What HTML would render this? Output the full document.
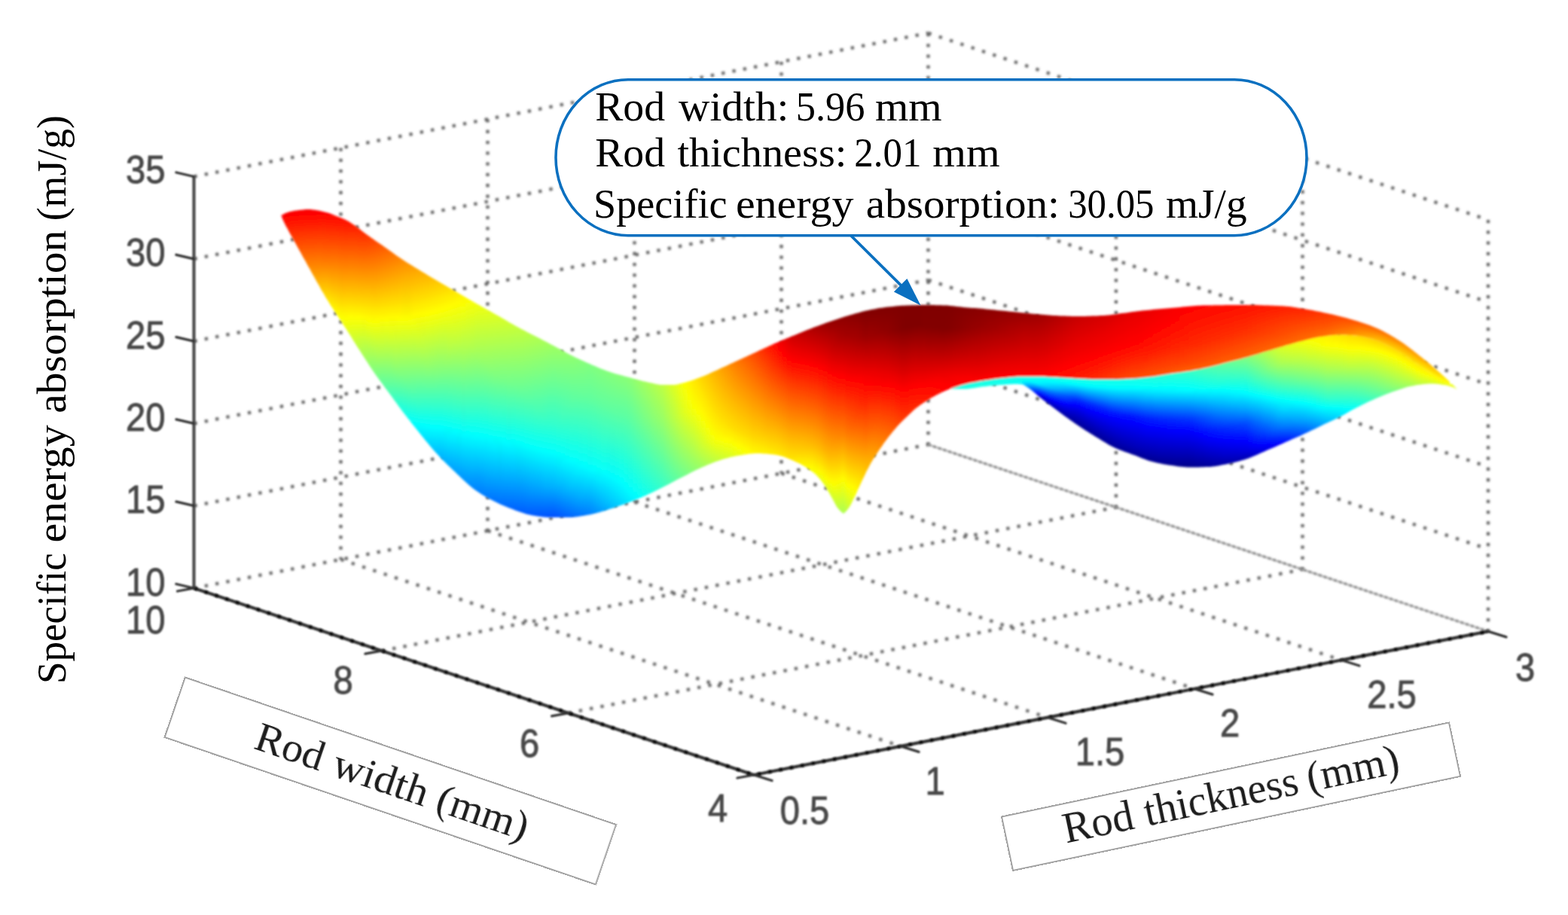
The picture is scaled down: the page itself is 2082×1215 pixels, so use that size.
<!DOCTYPE html>
<html lang="en"><head><meta charset="utf-8"><title>Specific energy absorption surface</title>
<style>html,body{margin:0;padding:0;background:#fff}body{width:2082px;height:1215px;overflow:hidden}svg{display:block}.ser{font-family:"Liberation Serif","DejaVu Serif",serif}.san{font-family:"Liberation Sans","DejaVu Sans",sans-serif}</style></head><body>
<svg width="2082" height="1215" viewBox="0 0 2082 1215">
<defs>
<filter id="b1" x="-5%" y="-5%" width="110%" height="110%"><feGaussianBlur stdDeviation="1.5"/></filter><filter id="b4" x="-5%" y="-5%" width="110%" height="110%"><feGaussianBlur stdDeviation="0.9"/></filter>
<filter id="b2" x="-5%" y="-5%" width="110%" height="110%"><feGaussianBlur stdDeviation="1.1"/></filter>
<filter id="b3" x="-20%" y="-20%" width="140%" height="140%"><feGaussianBlur stdDeviation="0.6"/></filter>
<clipPath id="c1"><path d="M373 286 L376 284.4 L379 283.1 L382 281.9 L385 281 L388 280.4 L391 279.8 L394 279.4 L397 279 L400 278.7 L403 278.4 L406 278.1 L409 278 L412 278.1 L415 278.4 L418 278.8 L421 279.3 L424 279.8 L427 280.5 L430 281.2 L433 281.9 L436 282.8 L439 283.8 L442 285 L445 286.2 L448 287.4 L451 288.6 L454 289.8 L457 291.1 L460 292.5 L463 294.1 L466 296 L469 298 L472 300 L475 302.2 L478 304.5 L481 306.9 L484 309.3 L487 311.5 L490 313.6 L493 315.7 L496 317.8 L499 319.9 L502 322 L505 324 L508 326.1 L511 328.2 L514 330.3 L517 332.5 L520 334.6 L523 336.7 L526 338.9 L529 340.9 L532 343 L535 345 L538 347 L541 348.9 L544 350.7 L547 352.6 L550 354.4 L553 356.2 L556 358.1 L559 359.9 L562 361.7 L565 363.5 L568 365.4 L571 367.2 L574 369 L577 370.8 L580 372.5 L583 374.3 L586 376.1 L589 377.8 L592 379.6 L595 381.3 L598 383.1 L601 384.8 L604 386.5 L607 388.3 L610 390 L613 391.7 L616 393.5 L619 395.2 L622 397 L625 398.7 L628 400.5 L631 402.2 L634 403.9 L637 405.6 L640 407.3 L643 409 L646 410.7 L649 412.3 L652 414 L655 415.7 L658 417.4 L661 419.1 L664 420.8 L667 422.6 L670 424.3 L673 426.1 L676 427.9 L679 429.6 L682 431.3 L685 433 L688 434.6 L691 436.2 L694 437.8 L697 439.3 L700 440.9 L703 442.4 L706 443.9 L709 445.5 L712 447 L715 448.6 L718 450.1 L721 451.7 L724 453.2 L727 454.8 L730 456.4 L733 457.9 L736 459.5 L739 461.2 L742 462.8 L745 464.5 L748 466.1 L751 467.8 L754 469.4 L757 471 L760 472.5 L763 474 L766 475.4 L769 476.8 L772 478.2 L775 479.6 L778 480.9 L781 482.3 L784 483.6 L787 484.9 L790 486.1 L793 487.4 L796 488.7 L799 489.9 L802 491.1 L805 492.2 L808 493.3 L811 494.3 L814 495.3 L817 496.2 L820 497 L823 497.8 L826 498.6 L829 499.4 L832 500.2 L835 501 L838 501.8 L841 502.7 L844 503.5 L847 504.3 L850 505.1 L853 505.9 L856 506.6 L859 507.3 L862 507.9 L865 508.6 L868 509.3 L871 510 L874 510.5 L877 510.9 L880 511 L883 511 L886 511 L889 511 L892 511 L895 511 L898 510.7 L901 510 L904 509.2 L907 508.5 L910 507.7 L913 506.8 L916 505.9 L919 504.9 L922 503.9 L925 502.8 L928 501.7 L931 500.6 L934 499.4 L937 498.2 L940 496.9 L943 495.5 L946 494.1 L949 492.7 L952 491.4 L955 490 L958 488.6 L961 487.3 L964 485.9 L967 484.5 L970 483.1 L973 481.7 L976 480.3 L979 479 L982 477.6 L985 476.2 L988 474.8 L991 473.4 L994 472.1 L997 470.7 L1000 469.3 L1003 467.9 L1006 466.5 L1009 465.1 L1012 463.8 L1015 462.3 L1018 461 L1021 459.6 L1024 458.2 L1027 456.8 L1030 455.5 L1033 454.2 L1036 452.9 L1039 451.6 L1042 450.4 L1045 449.1 L1048 447.9 L1051 446.6 L1054 445.4 L1057 444.2 L1060 443 L1063 441.7 L1066 440.5 L1069 439.3 L1072 438.1 L1075 436.9 L1078 435.8 L1081 434.6 L1084 433.5 L1087 432.4 L1090 431.3 L1093 430.2 L1096 429.1 L1099 428.1 L1102 427 L1105 426 L1108 425 L1111 424 L1114 423 L1117 422 L1120 421 L1123 420.1 L1126 419.2 L1129 418.3 L1132 417.4 L1135 416.6 L1138 415.7 L1141 414.9 L1144 414.1 L1147 413.3 L1150 412.6 L1153 411.9 L1156 411.3 L1159 410.7 L1162 410.2 L1165 409.6 L1168 409.1 L1171 408.7 L1174 408.2 L1177 407.8 L1180 407.5 L1183 407.2 L1186 406.9 L1189 406.6 L1192 406.3 L1195 406.1 L1198 405.8 L1201 405.7 L1204 405.5 L1207 405.4 L1210 405.3 L1213 405.3 L1216 405.2 L1219 405.1 L1222 405.1 L1225 405 L1228 405 L1231 405 L1234 405 L1237 405 L1240 405.1 L1243 405.2 L1246 405.2 L1249 405.3 L1252 405.4 L1255 405.5 L1258 405.6 L1261 405.9 L1264 406.2 L1267 406.5 L1270 406.9 L1273 407.2 L1276 407.6 L1279 407.9 L1282 408.2 L1285 408.4 L1288 408.7 L1291 408.9 L1294 409.1 L1297 409.3 L1300 409.6 L1303 409.8 L1306 410.1 L1309 410.4 L1312 410.7 L1315 411 L1318 411.3 L1321 411.6 L1324 411.9 L1327 412.2 L1330 412.5 L1333 412.8 L1336 413.1 L1339 413.4 L1342 413.7 L1345 414 L1348 414.3 L1351 414.6 L1354 414.9 L1357 415.2 L1360 415.5 L1363 415.8 L1366 416.1 L1369 416.5 L1372 416.8 L1375 417 L1378 417.3 L1381 417.6 L1384 417.8 L1387 418.1 L1390 418.3 L1393 418.6 L1396 418.8 L1399 419 L1402 419.1 L1405 419.2 L1408 419.4 L1411 419.5 L1414 419.6 L1417 419.8 L1420 419.8 L1423 419.9 L1426 420 L1429 420 L1432 420 L1435 420 L1438 419.9 L1441 419.9 L1444 419.8 L1447 419.7 L1450 419.6 L1453 419.5 L1456 419.4 L1459 419.3 L1462 419.1 L1465 419 L1468 418.8 L1471 418.5 L1474 418.2 L1477 417.8 L1480 417.4 L1483 417 L1486 416.5 L1489 416.1 L1492 415.7 L1495 415.4 L1498 414.9 L1501 414.5 L1504 414.1 L1507 413.7 L1510 413.3 L1513 413 L1516 412.6 L1519 412.3 L1522 412 L1525 411.7 L1528 411.4 L1531 411.1 L1534 410.8 L1537 410.5 L1540 410.3 L1543 410 L1546 409.8 L1549 409.5 L1552 409.3 L1555 409 L1558 408.7 L1561 408.5 L1564 408.2 L1567 407.9 L1570 407.6 L1573 407.3 L1576 407 L1579 406.7 L1582 406.5 L1585 406.2 L1588 406 L1591 405.8 L1594 405.7 L1597 405.6 L1600 405.5 L1603 405.5 L1606 405.4 L1609 405.4 L1612 405.3 L1615 405.3 L1618 405.2 L1621 405.2 L1624 405.2 L1627 405.1 L1630 405.1 L1633 405.1 L1636 405.1 L1639 405 L1642 405 L1645 405 L1648 405 L1651 405 L1654 405 L1657 405 L1660 405 L1663 405 L1666 405.1 L1669 405.1 L1672 405.2 L1675 405.3 L1678 405.4 L1681 405.5 L1684 405.6 L1687 405.7 L1690 405.8 L1693 405.9 L1696 406.1 L1699 406.2 L1702 406.3 L1705 406.5 L1708 406.7 L1711 407 L1714 407.3 L1717 407.8 L1720 408.2 L1723 408.7 L1726 409.2 L1729 409.7 L1732 410.2 L1735 410.7 L1738 411.2 L1741 411.7 L1744 412.3 L1747 412.9 L1750 413.5 L1753 414.1 L1756 414.7 L1759 415.4 L1762 416 L1765 416.7 L1768 417.3 L1771 418 L1774 418.7 L1777 419.5 L1780 420.2 L1783 421 L1786 421.8 L1789 422.6 L1792 423.4 L1795 424.3 L1798 425.2 L1801 426.1 L1804 427 L1807 427.9 L1810 428.9 L1813 430 L1816 431 L1819 432.1 L1822 433.3 L1825 434.5 L1828 435.8 L1831 437.1 L1834 438.6 L1837 440.1 L1840 441.7 L1843 443.3 L1846 445 L1849 446.8 L1852 448.6 L1855 450.4 L1858 452.3 L1861 454.2 L1864 456.3 L1867 458.5 L1870 460.7 L1873 463 L1876 465.3 L1879 467.7 L1882 470 L1885 472.4 L1888 474.8 L1891 477.2 L1894 479.6 L1897 482.1 L1900 484.6 L1903 487.2 L1906 489.8 L1909 492.4 L1912 495 L1915 497.7 L1918 500.4 L1921 503.2 L1924 506 L1925 507 L1925 510 L1924 509.5 L1921 507.9 L1918 506.4 L1915 504.7 L1912 503 L1909 501.2 L1906 499.4 L1903 497.5 L1900 495.6 L1897 493.6 L1894 491.6 L1891 489.6 L1888 487.7 L1885 485.7 L1882 483.6 L1879 481.5 L1876 479.4 L1873 477.2 L1870 475.1 L1867 473 L1864 471 L1861 469 L1858 467.2 L1855 465.4 L1852 463.7 L1849 462 L1846 460.4 L1843 458.8 L1840 457.2 L1837 455.7 L1834 454.4 L1831 453.1 L1828 452 L1825 451 L1822 450.1 L1819 449.3 L1816 448.4 L1813 447.7 L1810 447 L1807 446.4 L1804 445.9 L1801 445.6 L1798 445.3 L1795 445.1 L1792 444.9 L1789 444.7 L1786 444.6 L1783 444.5 L1780 444.5 L1777 444.6 L1774 444.7 L1771 445 L1768 445.3 L1765 445.6 L1762 446 L1759 446.4 L1756 446.9 L1753 447.3 L1750 447.8 L1747 448.4 L1744 449.1 L1741 449.8 L1738 450.5 L1735 451.2 L1732 452 L1729 452.7 L1726 453.5 L1723 454.3 L1720 455.2 L1717 456 L1714 456.9 L1711 457.7 L1708 458.6 L1705 459.5 L1702 460.4 L1699 461.3 L1696 462.2 L1693 463.1 L1690 464 L1687 464.9 L1684 465.8 L1681 466.7 L1678 467.6 L1675 468.5 L1672 469.4 L1669 470.4 L1666 471.3 L1663 472.2 L1660 473.1 L1657 473.9 L1654 474.8 L1651 475.6 L1648 476.4 L1645 477.2 L1642 477.9 L1639 478.7 L1636 479.5 L1633 480.2 L1630 481 L1627 481.8 L1624 482.6 L1621 483.4 L1618 484.2 L1615 485 L1612 485.8 L1609 486.6 L1606 487.3 L1603 487.9 L1600 488.6 L1597 489.3 L1594 489.9 L1591 490.5 L1588 491.1 L1585 491.6 L1582 492.2 L1579 492.7 L1576 493.1 L1573 493.6 L1570 494 L1567 494.4 L1564 494.8 L1561 495.2 L1558 495.6 L1555 496 L1552 496.5 L1549 497 L1546 497.5 L1543 498 L1540 498.5 L1537 499 L1534 499.5 L1531 499.9 L1528 500.2 L1525 500.6 L1522 501 L1519 501.3 L1516 501.6 L1513 501.9 L1510 502.2 L1507 502.4 L1504 502.6 L1501 502.7 L1498 502.9 L1495 503.1 L1492 503.2 L1489 503.3 L1486 503.4 L1483 503.5 L1480 503.5 L1477 503.5 L1474 503.5 L1471 503.5 L1468 503.5 L1465 503.5 L1462 503.5 L1459 503.5 L1456 503.5 L1453 503.5 L1450 503.4 L1447 503.3 L1444 503.2 L1441 503.1 L1438 502.9 L1435 502.8 L1432 502.6 L1429 502.5 L1426 502.3 L1423 502.1 L1420 501.9 L1417 501.7 L1414 501.5 L1411 501.3 L1408 501.2 L1405 501 L1402 500.8 L1399 500.7 L1396 500.5 L1393 500.4 L1390 500.2 L1387 500.1 L1384 500 L1381 500 L1378 500 L1375 500 L1372 500 L1369 500 L1366 500 L1363 500 L1360 500 L1357 500 L1354 500 L1351 500.1 L1348 500.2 L1345 500.5 L1342 500.7 L1339 501 L1336 501.4 L1333 501.7 L1330 502 L1327 502.3 L1324 502.7 L1321 503.1 L1318 503.5 L1315 503.9 L1312 504.4 L1309 504.8 L1306 505.3 L1303 505.8 L1300 506.3 L1297 506.9 L1294 507.4 L1291 508 L1288 508.6 L1285 509.3 L1282 510 L1279 510.8 L1276 511.6 L1273 512.5 L1270 513.4 L1267 514.4 L1264 515.5 L1261 516.6 L1258 517.8 L1255 519 L1252 520.3 L1249 521.7 L1246 523.2 L1243 524.7 L1240 526.4 L1237 528.1 L1234 530 L1231 531.9 L1228 533.8 L1225 535.7 L1222 537.7 L1219 539.9 L1216 542.2 L1213 544.8 L1210 547.7 L1207 550.6 L1204 553.5 L1201 556.3 L1198 559.3 L1195 562.3 L1192 565.5 L1189 568.9 L1186 572.5 L1183 576.2 L1180 580 L1177 584 L1174 588.1 L1171 592.4 L1168 596.8 L1165 601.3 L1162 605.8 L1159 610.6 L1156 615.7 L1153 621.2 L1150 627.3 L1147 633.6 L1144 640 L1141 646.3 L1138 652.9 L1135 659.4 L1132 665.6 L1129 671.6 L1126 676 L1123 679.6 L1120 682 L1117 679.8 L1114 676.8 L1111 672.9 L1108 667.5 L1105 661.8 L1102 656.5 L1099 651.2 L1096 646.2 L1093 641.7 L1090 637.8 L1087 634.3 L1084 631.1 L1081 628.3 L1078 625.9 L1075 623.7 L1072 621.7 L1069 619.8 L1066 618 L1063 616.3 L1060 614.8 L1057 613.4 L1054 612.1 L1051 610.8 L1048 609.5 L1045 608.3 L1042 607.1 L1039 606.1 L1036 605.2 L1033 604.5 L1030 604 L1027 603.6 L1024 603.3 L1021 602.9 L1018 602.6 L1015 602.4 L1012 602.2 L1009 602.1 L1006 602 L1003 602 L1000 602.2 L997 602.4 L994 602.8 L991 603.2 L988 603.7 L985 604.2 L982 604.7 L979 605.2 L976 605.7 L973 606.4 L970 607.1 L967 607.9 L964 608.8 L961 609.6 L958 610.6 L955 611.5 L952 612.5 L949 613.6 L946 614.7 L943 615.9 L940 617.1 L937 618.4 L934 619.7 L931 621.1 L928 622.4 L925 623.8 L922 625.3 L919 626.8 L916 628.3 L913 629.9 L910 631.4 L907 633 L904 634.5 L901 636.1 L898 637.6 L895 639.2 L892 640.8 L889 642.4 L886 643.9 L883 645.5 L880 647 L877 648.5 L874 650 L871 651.5 L868 653 L865 654.4 L862 655.8 L859 657.2 L856 658.6 L853 659.9 L850 661.1 L847 662.4 L844 663.6 L841 664.8 L838 666 L835 667.1 L832 668.3 L829 669.4 L826 670.5 L823 671.5 L820 672.6 L817 673.6 L814 674.7 L811 675.6 L808 676.6 L805 677.5 L802 678.4 L799 679.3 L796 680.2 L793 681 L790 681.8 L787 682.6 L784 683.2 L781 683.8 L778 684.3 L775 684.8 L772 685.3 L769 685.8 L766 686.2 L763 686.6 L760 686.8 L757 687 L754 687 L751 687 L748 687 L745 687 L742 687 L739 687 L736 687 L733 687 L730 687 L727 686.9 L724 686.8 L721 686.5 L718 686.1 L715 685.7 L712 685.2 L709 684.7 L706 684.2 L703 683.6 L700 682.9 L697 682.1 L694 681.1 L691 680.1 L688 679 L685 677.9 L682 676.7 L679 675.6 L676 674.5 L673 673.3 L670 672 L667 670.7 L664 669.4 L661 668 L658 666.5 L655 665 L652 663.5 L649 661.9 L646 660.2 L643 658.5 L640 656.7 L637 654.8 L634 652.8 L631 650.7 L628 648.5 L625 646.1 L622 643.5 L619 640.8 L616 638.1 L613 635.2 L610 632.3 L607 629.4 L604 626.6 L601 623.7 L598 620.8 L595 617.9 L592 615 L589 611.9 L586 608.9 L583 605.7 L580 602.5 L577 599.2 L574 595.7 L571 592.2 L568 588.6 L565 584.9 L562 581.2 L559 577.5 L556 573.7 L553 570 L550 566.2 L547 562.4 L544 558.6 L541 554.8 L538 550.9 L535 547 L532 543 L529 538.9 L526 534.8 L523 530.7 L520 526.6 L517 522.5 L514 518.4 L511 514.4 L508 510.3 L505 506.3 L502 502.3 L499 498.1 L496 493.8 L493 489.3 L490 484.7 L487 480.1 L484 475.5 L481 470.8 L478 466.1 L475 461.4 L472 456.7 L469 451.9 L466 447.1 L463 442.2 L460 437.5 L457 432.9 L454 428.3 L451 423.8 L448 419.3 L445 414.7 L442 410.1 L439 405.4 L436 400.6 L433 395.7 L430 390.6 L427 385.4 L424 380.1 L421 374.8 L418 369.5 L415 364 L412 358.6 L409 353.2 L406 347.8 L403 342.4 L400 337 L397 331.6 L394 326.2 L391 320.8 L388 315.5 L385 310 L382 304.6 L379 299 L376 292.8 L373 286Z"/></clipPath>
<clipPath id="c2"><path d="M1262 516.3 L1265 515.2 L1268 514.1 L1271 513.1 L1274 512.2 L1277 511.3 L1280 510.5 L1283 509.8 L1286 509.1 L1289 508.4 L1292 507.8 L1295 507.2 L1298 506.7 L1301 506.2 L1304 505.7 L1307 505.2 L1310 504.7 L1313 504.2 L1316 503.8 L1319 503.3 L1322 502.9 L1325 502.6 L1328 502.2 L1331 501.9 L1334 501.6 L1337 501.2 L1340 500.9 L1343 500.6 L1346 500.4 L1349 500.2 L1352 500 L1355 500 L1358 500 L1361 500 L1364 500 L1367 500 L1370 500 L1373 500 L1376 500 L1379 500 L1382 500 L1385 500.1 L1388 500.2 L1391 500.3 L1394 500.4 L1397 500.6 L1400 500.7 L1403 500.9 L1406 501 L1409 501.2 L1412 501.4 L1415 501.6 L1418 501.8 L1421 502 L1424 502.2 L1427 502.3 L1430 502.5 L1433 502.7 L1436 502.8 L1439 503 L1442 503.1 L1445 503.3 L1448 503.4 L1451 503.5 L1454 503.5 L1457 503.5 L1460 503.5 L1463 503.5 L1466 503.5 L1469 503.5 L1472 503.5 L1475 503.5 L1478 503.5 L1481 503.5 L1484 503.5 L1487 503.4 L1490 503.3 L1493 503.2 L1496 503 L1499 502.8 L1502 502.7 L1505 502.5 L1508 502.3 L1511 502.1 L1514 501.8 L1517 501.5 L1520 501.2 L1523 500.8 L1526 500.5 L1529 500.1 L1532 499.7 L1535 499.3 L1538 498.8 L1541 498.3 L1544 497.8 L1547 497.3 L1550 496.8 L1553 496.3 L1556 495.9 L1559 495.4 L1562 495 L1565 494.6 L1568 494.2 L1571 493.8 L1574 493.4 L1577 493 L1580 492.5 L1583 492 L1586 491.5 L1589 490.9 L1592 490.3 L1595 489.7 L1598 489 L1601 488.4 L1604 487.7 L1607 487 L1610 486.3 L1613 485.5 L1616 484.8 L1619 484 L1622 483.1 L1625 482.3 L1628 481.5 L1631 480.7 L1634 480 L1637 479.2 L1640 478.4 L1643 477.7 L1646 476.9 L1649 476.1 L1652 475.3 L1655 474.5 L1658 473.6 L1661 472.8 L1664 471.9 L1667 471 L1670 470.1 L1673 469.1 L1676 468.2 L1679 467.3 L1682 466.4 L1685 465.5 L1688 464.6 L1691 463.7 L1694 462.8 L1697 461.9 L1700 461 L1703 460.1 L1706 459.2 L1709 458.3 L1712 457.5 L1715 456.6 L1718 455.7 L1721 454.9 L1724 454.1 L1727 453.3 L1730 452.5 L1733 451.8 L1736 451 L1739 450.3 L1742 449.5 L1745 448.8 L1748 448.2 L1751 447.6 L1754 447.1 L1757 446.7 L1760 446.3 L1763 445.9 L1766 445.5 L1769 445.2 L1772 444.9 L1775 444.7 L1778 444.5 L1781 444.5 L1784 444.6 L1787 444.7 L1790 444.8 L1793 445 L1796 445.2 L1799 445.4 L1802 445.7 L1805 446.1 L1808 446.6 L1811 447.2 L1814 447.9 L1817 448.7 L1820 449.5 L1823 450.4 L1826 451.3 L1829 452.3 L1832 453.5 L1835 454.8 L1838 456.2 L1841 457.7 L1844 459.3 L1847 460.9 L1850 462.6 L1853 464.3 L1856 466 L1859 467.8 L1862 469.6 L1865 471.6 L1868 473.7 L1871 475.8 L1874 477.9 L1877 480.1 L1880 482.2 L1883 484.3 L1886 486.3 L1889 488.3 L1892 490.3 L1895 492.3 L1898 494.3 L1901 496.2 L1904 498.1 L1907 500 L1910 501.8 L1913 503.6 L1916 505.3 L1919 506.9 L1922 508.5 L1925 510 L1928 509.9 L1931 512.9 L1934 516 L1935 517 L1935 517 L1934 516.4 L1931 514.9 L1928 513.7 L1925 512.7 L1922 511.9 L1919 511.3 L1916 510.9 L1913 510.5 L1910 510.1 L1907 509.8 L1904 509.6 L1901 509.5 L1898 509.5 L1895 509.7 L1892 509.9 L1889 510.3 L1886 510.7 L1883 511.1 L1880 511.6 L1877 512.2 L1874 512.7 L1871 513.3 L1868 514.1 L1865 514.9 L1862 515.9 L1859 516.9 L1856 517.9 L1853 519 L1850 520 L1847 521.1 L1844 522.2 L1841 523.3 L1838 524.5 L1835 525.7 L1832 527 L1829 528.3 L1826 529.6 L1823 530.9 L1820 532.2 L1817 533.6 L1814 535 L1811 536.5 L1808 538 L1805 539.5 L1802 541 L1799 542.5 L1796 544.1 L1793 545.8 L1790 547.5 L1787 549.2 L1784 550.9 L1781 552.5 L1778 554 L1775 555.5 L1772 557 L1769 558.4 L1766 559.8 L1763 561.2 L1760 562.6 L1757 564 L1754 565.5 L1751 566.9 L1748 568.4 L1745 569.9 L1742 571.3 L1739 572.8 L1736 574.2 L1733 575.6 L1730 577 L1727 578.4 L1724 579.7 L1721 581 L1718 582.3 L1715 583.6 L1712 584.9 L1709 586.3 L1706 587.6 L1703 588.9 L1700 590.2 L1697 591.5 L1694 592.9 L1691 594.2 L1688 595.5 L1685 596.8 L1682 598.1 L1679 599.4 L1676 600.8 L1673 602.1 L1670 603.5 L1667 604.8 L1664 606.1 L1661 607.3 L1658 608.5 L1655 609.5 L1652 610.4 L1649 611.3 L1646 612.2 L1643 613 L1640 613.8 L1637 614.5 L1634 615.2 L1631 615.8 L1628 616.4 L1625 617 L1622 617.6 L1619 618.2 L1616 618.8 L1613 619.2 L1610 619.6 L1607 619.9 L1604 620 L1601 620.1 L1598 620.2 L1595 620.3 L1592 620.4 L1589 620.4 L1586 620.5 L1583 620.5 L1580 620.5 L1577 620.4 L1574 620.3 L1571 620 L1568 619.7 L1565 619.4 L1562 619 L1559 618.5 L1556 618.1 L1553 617.7 L1550 617.3 L1547 616.7 L1544 616.2 L1541 615.6 L1538 614.9 L1535 614.2 L1532 613.5 L1529 612.7 L1526 611.9 L1523 610.9 L1520 609.8 L1517 608.7 L1514 607.5 L1511 606.3 L1508 605.1 L1505 604 L1502 602.9 L1499 601.8 L1496 600.8 L1493 599.7 L1490 598.6 L1487 597.5 L1484 596.2 L1481 595 L1478 593.5 L1475 592 L1472 590.4 L1469 588.6 L1466 586.8 L1463 585 L1460 583.1 L1457 581.2 L1454 579.4 L1451 577.5 L1448 575.7 L1445 573.8 L1442 571.9 L1439 570 L1436 568 L1433 566 L1430 564 L1427 561.9 L1424 559.8 L1421 557.7 L1418 555.6 L1415 553.4 L1412 551.2 L1409 549 L1406 546.7 L1403 544.5 L1400 542.3 L1397 540.1 L1394 537.8 L1391 535.6 L1388 533.3 L1385 530.9 L1382 528.6 L1379 526.2 L1376 523.6 L1373 521 L1370 518.5 L1367 516.3 L1364 514.2 L1361 512.3 L1358 510.5 L1358 510.5 L1355 510.2 L1352 510 L1349 510 L1346 510.1 L1343 510.2 L1340 510.3 L1337 510.5 L1334 510.7 L1331 510.9 L1328 511.1 L1325 511.4 L1322 511.7 L1319 512 L1316 512.3 L1313 512.6 L1310 512.9 L1307 513.3 L1304 513.6 L1301 514 L1298 514.5 L1295 514.9 L1292 515.4 L1289 515.8 L1286 516.2 L1283 516.4 L1280 516.5 L1277 516.5 L1274 516.5 L1271 516.5 L1268 516.5 L1265 516.5 L1262 516.5Z"/></clipPath>
<filter id="sb" x="-2%" y="-5%" width="104%" height="110%"><feGaussianBlur stdDeviation="2.2 0.6"/></filter>
<filter id="se" x="-2%" y="-5%" width="104%" height="110%"><feGaussianBlur stdDeviation="1.6"/></filter>
<linearGradient id="q1" gradientUnits="userSpaceOnUse" x1="0" y1="513.1" x2="0" y2="516.5"><stop offset="0" stop-color="#1affe5"/><stop offset="1" stop-color="#1affe5"/></linearGradient>
<linearGradient id="q2" gradientUnits="userSpaceOnUse" x1="0" y1="511.3" x2="0" y2="516.5"><stop offset="0" stop-color="#1affe5"/><stop offset="1" stop-color="#1affe5"/></linearGradient>
<linearGradient id="q3" gradientUnits="userSpaceOnUse" x1="0" y1="509.8" x2="0" y2="516.4"><stop offset="0" stop-color="#1affe5"/><stop offset="1" stop-color="#1affe5"/></linearGradient>
<linearGradient id="q4" gradientUnits="userSpaceOnUse" x1="0" y1="508.4" x2="0" y2="515.8"><stop offset="0" stop-color="#1affe5"/><stop offset="1" stop-color="#1affe5"/></linearGradient>
<linearGradient id="q5" gradientUnits="userSpaceOnUse" x1="0" y1="507.2" x2="0" y2="514.9"><stop offset="0" stop-color="#1affe5"/><stop offset="1" stop-color="#1affe5"/></linearGradient>
<linearGradient id="q6" gradientUnits="userSpaceOnUse" x1="0" y1="506.2" x2="0" y2="514"><stop offset="0" stop-color="#1affe5"/><stop offset="1" stop-color="#1affe5"/></linearGradient>
<linearGradient id="q7" gradientUnits="userSpaceOnUse" x1="0" y1="505.2" x2="0" y2="513.3"><stop offset="0" stop-color="#1affe5"/><stop offset="1" stop-color="#19ffe6"/></linearGradient>
<linearGradient id="q8" gradientUnits="userSpaceOnUse" x1="0" y1="504.2" x2="0" y2="512.6"><stop offset="0" stop-color="#1affe5"/><stop offset="1" stop-color="#16ffe9"/></linearGradient>
<linearGradient id="q9" gradientUnits="userSpaceOnUse" x1="0" y1="503.3" x2="0" y2="512"><stop offset="0" stop-color="#1affe5"/><stop offset="1" stop-color="#14ffeb"/></linearGradient>
<linearGradient id="q10" gradientUnits="userSpaceOnUse" x1="0" y1="502.6" x2="0" y2="511.4"><stop offset="0" stop-color="#1affe5"/><stop offset="1" stop-color="#11ffee"/></linearGradient>
<linearGradient id="q11" gradientUnits="userSpaceOnUse" x1="0" y1="501.9" x2="0" y2="510.9"><stop offset="0" stop-color="#1affe5"/><stop offset="1" stop-color="#0ffff0"/></linearGradient>
<linearGradient id="q12" gradientUnits="userSpaceOnUse" x1="0" y1="501.2" x2="0" y2="510.5"><stop offset="0" stop-color="#1affe5"/><stop offset="1" stop-color="#0cfff3"/></linearGradient>
<linearGradient id="q13" gradientUnits="userSpaceOnUse" x1="0" y1="500.6" x2="0" y2="510.2"><stop offset="0" stop-color="#1affe5"/><stop offset="1" stop-color="#0afff5"/></linearGradient>
<linearGradient id="q14" gradientUnits="userSpaceOnUse" x1="0" y1="500.2" x2="0" y2="510"><stop offset="0" stop-color="#1affe5"/><stop offset="1" stop-color="#08fff7"/></linearGradient>
<linearGradient id="q15" gradientUnits="userSpaceOnUse" x1="0" y1="500" x2="0" y2="510.2"><stop offset="0" stop-color="#1affe5"/><stop offset="1" stop-color="#05fffa"/></linearGradient>
<linearGradient id="q16" gradientUnits="userSpaceOnUse" x1="0" y1="500" x2="0" y2="512.3"><stop offset="0" stop-color="#1affe5"/><stop offset="0.4" stop-color="#06fff9"/><stop offset="0.5" stop-color="#00f6ff"/><stop offset="1" stop-color="#00b3ff"/></linearGradient>
<linearGradient id="q17" gradientUnits="userSpaceOnUse" x1="0" y1="500" x2="0" y2="516.3"><stop offset="0" stop-color="#1affe5"/><stop offset="0.375" stop-color="#01fffe"/><stop offset="0.775" stop-color="#0096ff"/><stop offset="1" stop-color="#0063ff"/></linearGradient>
<linearGradient id="q18" gradientUnits="userSpaceOnUse" x1="0" y1="500" x2="0" y2="521"><stop offset="0" stop-color="#1affe5"/><stop offset="0.325" stop-color="#00fdff"/><stop offset="0.375" stop-color="#00f7ff"/><stop offset="0.725" stop-color="#006eff"/><stop offset="1" stop-color="#0012ff"/></linearGradient>
<linearGradient id="q19" gradientUnits="userSpaceOnUse" x1="0" y1="500" x2="0" y2="526.2"><stop offset="0" stop-color="#1affe5"/><stop offset="0.25" stop-color="#00feff"/><stop offset="0.375" stop-color="#00efff"/><stop offset="0.7" stop-color="#0045ff"/><stop offset="0.85" stop-color="#0003ff"/><stop offset="1" stop-color="#0000c0"/></linearGradient>
<linearGradient id="q20" gradientUnits="userSpaceOnUse" x1="0" y1="500.1" x2="0" y2="530.9"><stop offset="0" stop-color="#1affe5"/><stop offset="0.2" stop-color="#00fdff"/><stop offset="0.375" stop-color="#00dfff"/><stop offset="0.675" stop-color="#003eff"/><stop offset="0.825" stop-color="#0000fc"/><stop offset="1" stop-color="#0000af"/></linearGradient>
<linearGradient id="q21" gradientUnits="userSpaceOnUse" x1="0" y1="500.3" x2="0" y2="535.6"><stop offset="0" stop-color="#1affe5"/><stop offset="0.175" stop-color="#00fdff"/><stop offset="0.375" stop-color="#00cdff"/><stop offset="0.575" stop-color="#0063ff"/><stop offset="0.725" stop-color="#001dff"/><stop offset="0.8" stop-color="#0000fd"/><stop offset="1" stop-color="#0000ac"/></linearGradient>
<linearGradient id="q22" gradientUnits="userSpaceOnUse" x1="0" y1="500.6" x2="0" y2="540.1"><stop offset="0" stop-color="#1affe5"/><stop offset="0.15" stop-color="#00ffff"/><stop offset="0.375" stop-color="#00bcff"/><stop offset="0.5" stop-color="#0078ff"/><stop offset="0.7" stop-color="#001bff"/><stop offset="0.775" stop-color="#0000fd"/><stop offset="1" stop-color="#0000a8"/></linearGradient>
<linearGradient id="q23" gradientUnits="userSpaceOnUse" x1="0" y1="500.9" x2="0" y2="544.5"><stop offset="0" stop-color="#1affe5"/><stop offset="0.15" stop-color="#00fcff"/><stop offset="0.375" stop-color="#00abff"/><stop offset="0.475" stop-color="#0073ff"/><stop offset="0.675" stop-color="#0019ff"/><stop offset="0.75" stop-color="#0000fc"/><stop offset="1" stop-color="#0000a4"/></linearGradient>
<linearGradient id="q24" gradientUnits="userSpaceOnUse" x1="0" y1="501.2" x2="0" y2="549"><stop offset="0" stop-color="#1affe5"/><stop offset="0.125" stop-color="#04fffb"/><stop offset="0.225" stop-color="#00daff"/><stop offset="0.375" stop-color="#009aff"/><stop offset="0.45" stop-color="#006cff"/><stop offset="0.675" stop-color="#000cff"/><stop offset="0.725" stop-color="#0000fa"/><stop offset="1" stop-color="#0000a1"/></linearGradient>
<linearGradient id="q25" gradientUnits="userSpaceOnUse" x1="0" y1="501.6" x2="0" y2="553.4"><stop offset="0" stop-color="#1affe5"/><stop offset="0.125" stop-color="#02fffd"/><stop offset="0.375" stop-color="#0088ff"/><stop offset="0.45" stop-color="#005aff"/><stop offset="0.675" stop-color="#0000ff"/><stop offset="1" stop-color="#00009d"/></linearGradient>
<linearGradient id="q26" gradientUnits="userSpaceOnUse" x1="0" y1="502" x2="0" y2="557.7"><stop offset="0" stop-color="#1affe5"/><stop offset="0.125" stop-color="#01fffe"/><stop offset="0.4" stop-color="#0067ff"/><stop offset="0.45" stop-color="#0048ff"/><stop offset="0.625" stop-color="#0004ff"/><stop offset="0.7" stop-color="#0000eb"/><stop offset="1" stop-color="#000099"/></linearGradient>
<linearGradient id="q27" gradientUnits="userSpaceOnUse" x1="0" y1="502.3" x2="0" y2="561.9"><stop offset="0" stop-color="#1affe5"/><stop offset="0.125" stop-color="#00feff"/><stop offset="0.45" stop-color="#0036ff"/><stop offset="0.6" stop-color="#0000fe"/><stop offset="0.725" stop-color="#0000d8"/><stop offset="1" stop-color="#000096"/></linearGradient>
<linearGradient id="q28" gradientUnits="userSpaceOnUse" x1="0" y1="502.7" x2="0" y2="566"><stop offset="0" stop-color="#1affe5"/><stop offset="0.125" stop-color="#00fdff"/><stop offset="0.45" stop-color="#002dff"/><stop offset="0.575" stop-color="#0001ff"/><stop offset="0.7" stop-color="#0000da"/><stop offset="1" stop-color="#000094"/></linearGradient>
<linearGradient id="q29" gradientUnits="userSpaceOnUse" x1="0" y1="503" x2="0" y2="570"><stop offset="0" stop-color="#1affe5"/><stop offset="0.125" stop-color="#00fdff"/><stop offset="0.45" stop-color="#002eff"/><stop offset="0.575" stop-color="#0001ff"/><stop offset="0.725" stop-color="#0000d4"/><stop offset="1" stop-color="#000094"/></linearGradient>
<linearGradient id="q30" gradientUnits="userSpaceOnUse" x1="0" y1="503.3" x2="0" y2="573.8"><stop offset="0" stop-color="#1affe5"/><stop offset="0.125" stop-color="#00fdff"/><stop offset="0.45" stop-color="#002fff"/><stop offset="0.575" stop-color="#0001ff"/><stop offset="0.775" stop-color="#0000c9"/><stop offset="1" stop-color="#000094"/></linearGradient>
<linearGradient id="q31" gradientUnits="userSpaceOnUse" x1="0" y1="503.5" x2="0" y2="577.5"><stop offset="0" stop-color="#1affe5"/><stop offset="0.125" stop-color="#00fdff"/><stop offset="0.45" stop-color="#002fff"/><stop offset="0.575" stop-color="#0001ff"/><stop offset="0.85" stop-color="#0000b8"/><stop offset="1" stop-color="#000094"/></linearGradient>
<linearGradient id="q32" gradientUnits="userSpaceOnUse" x1="0" y1="503.5" x2="0" y2="581.2"><stop offset="0" stop-color="#1affe5"/><stop offset="0.125" stop-color="#00fdff"/><stop offset="0.45" stop-color="#0030ff"/><stop offset="0.55" stop-color="#0009ff"/><stop offset="0.575" stop-color="#0001ff"/><stop offset="1" stop-color="#000094"/></linearGradient>
<linearGradient id="q33" gradientUnits="userSpaceOnUse" x1="0" y1="503.5" x2="0" y2="585"><stop offset="0" stop-color="#1affe5"/><stop offset="0.125" stop-color="#00fdff"/><stop offset="0.45" stop-color="#0030ff"/><stop offset="0.525" stop-color="#0010ff"/><stop offset="0.575" stop-color="#0001ff"/><stop offset="1" stop-color="#000094"/></linearGradient>
<linearGradient id="q34" gradientUnits="userSpaceOnUse" x1="0" y1="503.5" x2="0" y2="588.6"><stop offset="0" stop-color="#1affe5"/><stop offset="0.125" stop-color="#00fdff"/><stop offset="0.45" stop-color="#0031ff"/><stop offset="0.525" stop-color="#000fff"/><stop offset="0.575" stop-color="#0001ff"/><stop offset="1" stop-color="#000094"/></linearGradient>
<linearGradient id="q35" gradientUnits="userSpaceOnUse" x1="0" y1="503.5" x2="0" y2="592"><stop offset="0" stop-color="#1affe5"/><stop offset="0.125" stop-color="#00fdff"/><stop offset="0.475" stop-color="#0025ff"/><stop offset="0.55" stop-color="#0008ff"/><stop offset="0.6" stop-color="#0000f9"/><stop offset="1" stop-color="#000094"/></linearGradient>
<linearGradient id="q36" gradientUnits="userSpaceOnUse" x1="0" y1="503.5" x2="0" y2="595"><stop offset="0" stop-color="#1affe5"/><stop offset="0.125" stop-color="#00fdff"/><stop offset="0.475" stop-color="#0025ff"/><stop offset="0.525" stop-color="#000eff"/><stop offset="0.575" stop-color="#0001ff"/><stop offset="0.95" stop-color="#0000a2"/><stop offset="1" stop-color="#000094"/></linearGradient>
<linearGradient id="q37" gradientUnits="userSpaceOnUse" x1="0" y1="503.4" x2="0" y2="597.5"><stop offset="0" stop-color="#1affe5"/><stop offset="0.125" stop-color="#00fdff"/><stop offset="0.475" stop-color="#0025ff"/><stop offset="0.525" stop-color="#000eff"/><stop offset="0.575" stop-color="#0001ff"/><stop offset="0.925" stop-color="#0000aa"/><stop offset="1" stop-color="#000094"/></linearGradient>
<linearGradient id="q38" gradientUnits="userSpaceOnUse" x1="0" y1="503.2" x2="0" y2="599.7"><stop offset="0" stop-color="#1affe5"/><stop offset="0.125" stop-color="#00fdff"/><stop offset="0.5" stop-color="#0017ff"/><stop offset="0.575" stop-color="#0001ff"/><stop offset="0.9" stop-color="#0000b2"/><stop offset="1" stop-color="#000094"/></linearGradient>
<linearGradient id="q39" gradientUnits="userSpaceOnUse" x1="0" y1="502.8" x2="0" y2="601.8"><stop offset="0" stop-color="#1affe5"/><stop offset="0.125" stop-color="#00fdff"/><stop offset="0.5" stop-color="#0017ff"/><stop offset="0.575" stop-color="#0001ff"/><stop offset="0.9" stop-color="#0000b3"/><stop offset="1" stop-color="#000094"/></linearGradient>
<linearGradient id="q40" gradientUnits="userSpaceOnUse" x1="0" y1="502.5" x2="0" y2="604"><stop offset="0" stop-color="#1affe5"/><stop offset="0.125" stop-color="#00fdff"/><stop offset="0.5" stop-color="#0017ff"/><stop offset="0.55" stop-color="#0007ff"/><stop offset="0.6" stop-color="#0000fb"/><stop offset="0.9" stop-color="#0000b4"/><stop offset="1" stop-color="#000094"/></linearGradient>
<linearGradient id="q41" gradientUnits="userSpaceOnUse" x1="0" y1="502.1" x2="0" y2="606.3"><stop offset="0" stop-color="#1cffe3"/><stop offset="0.125" stop-color="#00ffff"/><stop offset="0.5" stop-color="#0019ff"/><stop offset="0.575" stop-color="#0003ff"/><stop offset="0.875" stop-color="#0000bb"/><stop offset="1" stop-color="#000093"/></linearGradient>
<linearGradient id="q42" gradientUnits="userSpaceOnUse" x1="0" y1="501.5" x2="0" y2="608.7"><stop offset="0" stop-color="#1effe1"/><stop offset="0.125" stop-color="#02fffd"/><stop offset="0.275" stop-color="#00a7ff"/><stop offset="0.5" stop-color="#001bff"/><stop offset="0.575" stop-color="#0005ff"/><stop offset="0.625" stop-color="#0000f7"/><stop offset="0.9" stop-color="#0000b2"/><stop offset="1" stop-color="#000092"/></linearGradient>
<linearGradient id="q43" gradientUnits="userSpaceOnUse" x1="0" y1="500.8" x2="0" y2="610.9"><stop offset="0" stop-color="#21ffde"/><stop offset="0.125" stop-color="#03fffc"/><stop offset="0.2" stop-color="#00d9ff"/><stop offset="0.5" stop-color="#001eff"/><stop offset="0.6" stop-color="#0000ff"/><stop offset="0.9" stop-color="#0000b1"/><stop offset="1" stop-color="#000091"/></linearGradient>
<linearGradient id="q44" gradientUnits="userSpaceOnUse" x1="0" y1="500.1" x2="0" y2="612.7"><stop offset="0" stop-color="#23ffdc"/><stop offset="0.125" stop-color="#05fffa"/><stop offset="0.175" stop-color="#00eaff"/><stop offset="0.5" stop-color="#0020ff"/><stop offset="0.6" stop-color="#0001ff"/><stop offset="0.9" stop-color="#0000b0"/><stop offset="1" stop-color="#000091"/></linearGradient>
<linearGradient id="q45" gradientUnits="userSpaceOnUse" x1="0" y1="499.3" x2="0" y2="614.2"><stop offset="0" stop-color="#26ffd9"/><stop offset="0.125" stop-color="#07fff8"/><stop offset="0.15" stop-color="#00faff"/><stop offset="0.225" stop-color="#00d1ff"/><stop offset="0.5" stop-color="#0022ff"/><stop offset="0.6" stop-color="#0002ff"/><stop offset="0.9" stop-color="#0000af"/><stop offset="1" stop-color="#000090"/></linearGradient>
<linearGradient id="q46" gradientUnits="userSpaceOnUse" x1="0" y1="498.3" x2="0" y2="615.6"><stop offset="0" stop-color="#28ffd7"/><stop offset="0.15" stop-color="#00fcff"/><stop offset="0.225" stop-color="#00d4ff"/><stop offset="0.5" stop-color="#0025ff"/><stop offset="0.6" stop-color="#0003ff"/><stop offset="0.875" stop-color="#0000b7"/><stop offset="1" stop-color="#00008f"/></linearGradient>
<linearGradient id="q47" gradientUnits="userSpaceOnUse" x1="0" y1="497.3" x2="0" y2="616.7"><stop offset="0" stop-color="#2bffd4"/><stop offset="0.125" stop-color="#0bfff4"/><stop offset="0.15" stop-color="#00ffff"/><stop offset="0.2" stop-color="#00e8ff"/><stop offset="0.5" stop-color="#0027ff"/><stop offset="0.6" stop-color="#0004ff"/><stop offset="0.675" stop-color="#0000ed"/><stop offset="0.9" stop-color="#0000ae"/><stop offset="1" stop-color="#00008e"/></linearGradient>
<linearGradient id="q48" gradientUnits="userSpaceOnUse" x1="0" y1="496.3" x2="0" y2="617.7"><stop offset="0" stop-color="#2dffd2"/><stop offset="0.15" stop-color="#02fffd"/><stop offset="0.2" stop-color="#00ecff"/><stop offset="0.5" stop-color="#0029ff"/><stop offset="0.625" stop-color="#0000fc"/><stop offset="0.9" stop-color="#0000ad"/><stop offset="1" stop-color="#00008d"/></linearGradient>
<linearGradient id="q49" gradientUnits="userSpaceOnUse" x1="0" y1="495.4" x2="0" y2="618.5"><stop offset="0" stop-color="#30ffcf"/><stop offset="0.15" stop-color="#05fffa"/><stop offset="0.2" stop-color="#00f0ff"/><stop offset="0.5" stop-color="#002cff"/><stop offset="0.625" stop-color="#0000fd"/><stop offset="0.875" stop-color="#0000b4"/><stop offset="1" stop-color="#00008d"/></linearGradient>
<linearGradient id="q50" gradientUnits="userSpaceOnUse" x1="0" y1="494.6" x2="0" y2="619.4"><stop offset="0" stop-color="#32ffcd"/><stop offset="0.175" stop-color="#00fdff"/><stop offset="0.2" stop-color="#00f3ff"/><stop offset="0.5" stop-color="#002eff"/><stop offset="0.625" stop-color="#0000fe"/><stop offset="0.875" stop-color="#0000b3"/><stop offset="1" stop-color="#00008c"/></linearGradient>
<linearGradient id="q51" gradientUnits="userSpaceOnUse" x1="0" y1="493.8" x2="0" y2="620"><stop offset="0" stop-color="#34ffcb"/><stop offset="0.175" stop-color="#01fffe"/><stop offset="0.2" stop-color="#00f7ff"/><stop offset="0.5" stop-color="#0031ff"/><stop offset="0.625" stop-color="#0000ff"/><stop offset="0.875" stop-color="#0000b3"/><stop offset="1" stop-color="#00008b"/></linearGradient>
<linearGradient id="q52" gradientUnits="userSpaceOnUse" x1="0" y1="493" x2="0" y2="620.4"><stop offset="0" stop-color="#37ffc8"/><stop offset="0.175" stop-color="#04fffb"/><stop offset="0.2" stop-color="#00fbff"/><stop offset="0.5" stop-color="#0033ff"/><stop offset="0.625" stop-color="#0000ff"/><stop offset="0.85" stop-color="#0000ba"/><stop offset="1" stop-color="#00008a"/></linearGradient>
<linearGradient id="q53" gradientUnits="userSpaceOnUse" x1="0" y1="492" x2="0" y2="620.5"><stop offset="0" stop-color="#3bffc4"/><stop offset="0.2" stop-color="#00ffff"/><stop offset="0.5" stop-color="#0039ff"/><stop offset="0.625" stop-color="#0004ff"/><stop offset="0.7" stop-color="#0000ec"/><stop offset="1" stop-color="#00008b"/></linearGradient>
<linearGradient id="q54" gradientUnits="userSpaceOnUse" x1="0" y1="490.9" x2="0" y2="620.4"><stop offset="0" stop-color="#41ffbe"/><stop offset="0.2" stop-color="#04fffb"/><stop offset="0.275" stop-color="#00d4ff"/><stop offset="0.5" stop-color="#0042ff"/><stop offset="0.65" stop-color="#0002ff"/><stop offset="0.85" stop-color="#0000c1"/><stop offset="1" stop-color="#00008f"/></linearGradient>
<linearGradient id="q55" gradientUnits="userSpaceOnUse" x1="0" y1="489.7" x2="0" y2="620.3"><stop offset="0" stop-color="#46ffb9"/><stop offset="0.2" stop-color="#09fff6"/><stop offset="0.225" stop-color="#00f9ff"/><stop offset="0.5" stop-color="#004cff"/><stop offset="0.65" stop-color="#0008ff"/><stop offset="0.675" stop-color="#0000ff"/><stop offset="1" stop-color="#000092"/></linearGradient>
<linearGradient id="q56" gradientUnits="userSpaceOnUse" x1="0" y1="488.4" x2="0" y2="620.1"><stop offset="0" stop-color="#4cffb3"/><stop offset="0.2" stop-color="#0efff1"/><stop offset="0.225" stop-color="#00feff"/><stop offset="0.5" stop-color="#0055ff"/><stop offset="0.65" stop-color="#000fff"/><stop offset="0.7" stop-color="#0000fe"/><stop offset="1" stop-color="#000095"/></linearGradient>
<linearGradient id="q57" gradientUnits="userSpaceOnUse" x1="0" y1="487" x2="0" y2="619.9"><stop offset="0" stop-color="#52ffad"/><stop offset="0.2" stop-color="#12ffed"/><stop offset="0.225" stop-color="#04fffb"/><stop offset="0.3" stop-color="#00d9ff"/><stop offset="0.5" stop-color="#005fff"/><stop offset="0.65" stop-color="#0015ff"/><stop offset="0.725" stop-color="#0000fb"/><stop offset="1" stop-color="#000098"/></linearGradient>
<linearGradient id="q58" gradientUnits="userSpaceOnUse" x1="0" y1="485.5" x2="0" y2="619.2"><stop offset="0" stop-color="#58ffa7"/><stop offset="0.2" stop-color="#17ffe8"/><stop offset="0.25" stop-color="#00fbff"/><stop offset="0.4" stop-color="#00a5ff"/><stop offset="0.525" stop-color="#005cff"/><stop offset="0.65" stop-color="#001cff"/><stop offset="0.725" stop-color="#0002ff"/><stop offset="0.975" stop-color="#0000a6"/><stop offset="1" stop-color="#00009c"/></linearGradient>
<linearGradient id="q59" gradientUnits="userSpaceOnUse" x1="0" y1="484" x2="0" y2="618.2"><stop offset="0" stop-color="#5dffa2"/><stop offset="0.2" stop-color="#1cffe3"/><stop offset="0.25" stop-color="#02fffd"/><stop offset="0.375" stop-color="#00bdff"/><stop offset="0.55" stop-color="#0057ff"/><stop offset="0.65" stop-color="#0022ff"/><stop offset="0.75" stop-color="#0000fd"/><stop offset="0.975" stop-color="#0000aa"/><stop offset="1" stop-color="#00009f"/></linearGradient>
<linearGradient id="q60" gradientUnits="userSpaceOnUse" x1="0" y1="482.3" x2="0" y2="617"><stop offset="0" stop-color="#63ff9c"/><stop offset="0.2" stop-color="#20ffdf"/><stop offset="0.25" stop-color="#08fff7"/><stop offset="0.275" stop-color="#00faff"/><stop offset="0.4" stop-color="#00b6ff"/><stop offset="0.65" stop-color="#0029ff"/><stop offset="0.75" stop-color="#0004ff"/><stop offset="0.9" stop-color="#0000cd"/><stop offset="1" stop-color="#0000a2"/></linearGradient>
<linearGradient id="q61" gradientUnits="userSpaceOnUse" x1="0" y1="480.7" x2="0" y2="615.8"><stop offset="0" stop-color="#69ff96"/><stop offset="0.225" stop-color="#19ffe6"/><stop offset="0.275" stop-color="#02fffd"/><stop offset="0.375" stop-color="#00ceff"/><stop offset="0.65" stop-color="#002fff"/><stop offset="0.775" stop-color="#0000fe"/><stop offset="0.95" stop-color="#0000bd"/><stop offset="1" stop-color="#0000a5"/></linearGradient>
<linearGradient id="q62" gradientUnits="userSpaceOnUse" x1="0" y1="479.2" x2="0" y2="614.5"><stop offset="0" stop-color="#6eff91"/><stop offset="0.225" stop-color="#1fffe0"/><stop offset="0.3" stop-color="#00fcff"/><stop offset="0.4" stop-color="#00c8ff"/><stop offset="0.65" stop-color="#0036ff"/><stop offset="0.775" stop-color="#0004ff"/><stop offset="0.85" stop-color="#0000e8"/><stop offset="0.95" stop-color="#0000c1"/><stop offset="1" stop-color="#0000a9"/></linearGradient>
<linearGradient id="q63" gradientUnits="userSpaceOnUse" x1="0" y1="477.7" x2="0" y2="613"><stop offset="0" stop-color="#74ff8b"/><stop offset="0.25" stop-color="#19ffe6"/><stop offset="0.3" stop-color="#04fffb"/><stop offset="0.35" stop-color="#00edff"/><stop offset="0.575" stop-color="#006aff"/><stop offset="0.65" stop-color="#003cff"/><stop offset="0.8" stop-color="#0000ff"/><stop offset="0.95" stop-color="#0000c5"/><stop offset="1" stop-color="#0000ac"/></linearGradient>
<linearGradient id="q64" gradientUnits="userSpaceOnUse" x1="0" y1="476.1" x2="0" y2="611.3"><stop offset="0" stop-color="#7aff85"/><stop offset="0.275" stop-color="#15ffea"/><stop offset="0.325" stop-color="#00ffff"/><stop offset="0.5" stop-color="#00a2ff"/><stop offset="0.65" stop-color="#0043ff"/><stop offset="0.8" stop-color="#0005ff"/><stop offset="0.85" stop-color="#0000f2"/><stop offset="0.925" stop-color="#0000d7"/><stop offset="1" stop-color="#0000af"/></linearGradient>
<linearGradient id="q65" gradientUnits="userSpaceOnUse" x1="0" y1="474.5" x2="0" y2="609.5"><stop offset="0" stop-color="#80ff80"/><stop offset="0.35" stop-color="#00fdff"/><stop offset="0.525" stop-color="#009bff"/><stop offset="0.65" stop-color="#004aff"/><stop offset="0.825" stop-color="#0001ff"/><stop offset="0.925" stop-color="#0000dc"/><stop offset="1" stop-color="#0000b2"/></linearGradient>
<linearGradient id="q66" gradientUnits="userSpaceOnUse" x1="0" y1="472.8" x2="0" y2="607.3"><stop offset="0" stop-color="#8cff73"/><stop offset="0.325" stop-color="#15ffea"/><stop offset="0.375" stop-color="#00fcff"/><stop offset="0.525" stop-color="#00aaff"/><stop offset="0.65" stop-color="#005cff"/><stop offset="0.85" stop-color="#0006ff"/><stop offset="0.9" stop-color="#0000f1"/><stop offset="1" stop-color="#0000bc"/></linearGradient>
<linearGradient id="q67" gradientUnits="userSpaceOnUse" x1="0" y1="471" x2="0" y2="604.8"><stop offset="0" stop-color="#98ff67"/><stop offset="0.25" stop-color="#3fffc0"/><stop offset="0.4" stop-color="#00fcff"/><stop offset="0.55" stop-color="#00a9ff"/><stop offset="0.675" stop-color="#0062ff"/><stop offset="0.9" stop-color="#0000fc"/><stop offset="1" stop-color="#0000c6"/></linearGradient>
<linearGradient id="q68" gradientUnits="userSpaceOnUse" x1="0" y1="469.1" x2="0" y2="602.1"><stop offset="0" stop-color="#a4ff5b"/><stop offset="0.225" stop-color="#56ffa9"/><stop offset="0.375" stop-color="#17ffe8"/><stop offset="0.425" stop-color="#00fcff"/><stop offset="0.675" stop-color="#0074ff"/><stop offset="0.925" stop-color="#0000fc"/><stop offset="1" stop-color="#0000cf"/></linearGradient>
<linearGradient id="q69" gradientUnits="userSpaceOnUse" x1="0" y1="467.3" x2="0" y2="599.4"><stop offset="0" stop-color="#b0ff4f"/><stop offset="0.2" stop-color="#6dff92"/><stop offset="0.375" stop-color="#24ffdb"/><stop offset="0.45" stop-color="#00fdff"/><stop offset="0.725" stop-color="#006eff"/><stop offset="0.925" stop-color="#0008ff"/><stop offset="0.95" stop-color="#0000f8"/><stop offset="1" stop-color="#0000d9"/></linearGradient>
<linearGradient id="q70" gradientUnits="userSpaceOnUse" x1="0" y1="465.5" x2="0" y2="596.8"><stop offset="0" stop-color="#bdff42"/><stop offset="0.175" stop-color="#85ff7a"/><stop offset="0.375" stop-color="#31ffce"/><stop offset="0.475" stop-color="#00feff"/><stop offset="0.85" stop-color="#003eff"/><stop offset="0.95" stop-color="#0003ff"/><stop offset="1" stop-color="#0000e2"/></linearGradient>
<linearGradient id="q71" gradientUnits="userSpaceOnUse" x1="0" y1="463.7" x2="0" y2="594.2"><stop offset="0" stop-color="#c9ff36"/><stop offset="0.175" stop-color="#92ff6d"/><stop offset="0.4" stop-color="#31ffce"/><stop offset="0.5" stop-color="#01fffe"/><stop offset="0.825" stop-color="#005cff"/><stop offset="0.975" stop-color="#0000fc"/><stop offset="1" stop-color="#0000ec"/></linearGradient>
<linearGradient id="q72" gradientUnits="userSpaceOnUse" x1="0" y1="461.9" x2="0" y2="591.5"><stop offset="0" stop-color="#d5ff2a"/><stop offset="0.175" stop-color="#a0ff5f"/><stop offset="0.425" stop-color="#32ffcd"/><stop offset="0.525" stop-color="#02fffd"/><stop offset="0.7" stop-color="#00afff"/><stop offset="0.825" stop-color="#006bff"/><stop offset="0.975" stop-color="#0007ff"/><stop offset="1" stop-color="#0000f5"/></linearGradient>
<linearGradient id="q73" gradientUnits="userSpaceOnUse" x1="0" y1="460.1" x2="0" y2="588.9"><stop offset="0" stop-color="#deff21"/><stop offset="0.175" stop-color="#aaff55"/><stop offset="0.425" stop-color="#3effc1"/><stop offset="0.55" stop-color="#04fffb"/><stop offset="0.65" stop-color="#00d7ff"/><stop offset="0.825" stop-color="#0079ff"/><stop offset="1" stop-color="#0003ff"/></linearGradient>
<linearGradient id="q74" gradientUnits="userSpaceOnUse" x1="0" y1="458.3" x2="0" y2="586.3"><stop offset="0" stop-color="#e4ff1b"/><stop offset="0.175" stop-color="#b1ff4e"/><stop offset="0.425" stop-color="#48ffb7"/><stop offset="0.575" stop-color="#03fffc"/><stop offset="0.675" stop-color="#00d4ff"/><stop offset="0.825" stop-color="#0085ff"/><stop offset="1" stop-color="#0013ff"/></linearGradient>
<linearGradient id="q75" gradientUnits="userSpaceOnUse" x1="0" y1="456.6" x2="0" y2="583.6"><stop offset="0" stop-color="#eaff15"/><stop offset="0.175" stop-color="#b7ff48"/><stop offset="0.425" stop-color="#52ffad"/><stop offset="0.6" stop-color="#02fffd"/><stop offset="0.75" stop-color="#00b8ff"/><stop offset="0.85" stop-color="#0081ff"/><stop offset="1" stop-color="#0022ff"/></linearGradient>
<linearGradient id="q76" gradientUnits="userSpaceOnUse" x1="0" y1="454.9" x2="0" y2="581"><stop offset="0" stop-color="#f0ff0f"/><stop offset="0.2" stop-color="#b5ff4a"/><stop offset="0.425" stop-color="#5cffa3"/><stop offset="0.625" stop-color="#01fffe"/><stop offset="0.825" stop-color="#009dff"/><stop offset="1" stop-color="#0032ff"/></linearGradient>
<linearGradient id="q77" gradientUnits="userSpaceOnUse" x1="0" y1="453.3" x2="0" y2="578.4"><stop offset="0" stop-color="#f6ff09"/><stop offset="0.225" stop-color="#b2ff4d"/><stop offset="0.425" stop-color="#66ff99"/><stop offset="0.65" stop-color="#00feff"/><stop offset="0.85" stop-color="#009bff"/><stop offset="1" stop-color="#0042ff"/></linearGradient>
<linearGradient id="q78" gradientUnits="userSpaceOnUse" x1="0" y1="451.8" x2="0" y2="575.6"><stop offset="0" stop-color="#fbff04"/><stop offset="0.225" stop-color="#b9ff46"/><stop offset="0.425" stop-color="#6fff90"/><stop offset="0.675" stop-color="#00feff"/><stop offset="0.85" stop-color="#00a8ff"/><stop offset="1" stop-color="#0053ff"/></linearGradient>
<linearGradient id="q79" gradientUnits="userSpaceOnUse" x1="0" y1="450.3" x2="0" y2="572.8"><stop offset="0" stop-color="#ffff00"/><stop offset="0.2" stop-color="#c9ff36"/><stop offset="0.425" stop-color="#79ff86"/><stop offset="0.7" stop-color="#02fffd"/><stop offset="0.85" stop-color="#00b8ff"/><stop offset="1" stop-color="#0067ff"/></linearGradient>
<linearGradient id="q80" gradientUnits="userSpaceOnUse" x1="0" y1="448.8" x2="0" y2="569.9"><stop offset="0" stop-color="#fffb00"/><stop offset="0.075" stop-color="#f2ff0d"/><stop offset="0.3" stop-color="#afff50"/><stop offset="0.55" stop-color="#50ffaf"/><stop offset="0.725" stop-color="#05fffa"/><stop offset="0.775" stop-color="#00edff"/><stop offset="1" stop-color="#007bff"/></linearGradient>
<linearGradient id="q81" gradientUnits="userSpaceOnUse" x1="0" y1="447.6" x2="0" y2="566.9"><stop offset="0" stop-color="#fff700"/><stop offset="0.075" stop-color="#f8ff07"/><stop offset="0.3" stop-color="#b7ff48"/><stop offset="0.6" stop-color="#48ffb7"/><stop offset="0.775" stop-color="#00fcff"/><stop offset="1" stop-color="#008eff"/></linearGradient>
<linearGradient id="q82" gradientUnits="userSpaceOnUse" x1="0" y1="446.7" x2="0" y2="564"><stop offset="0" stop-color="#fff300"/><stop offset="0.1" stop-color="#faff05"/><stop offset="0.4" stop-color="#9dff62"/><stop offset="0.725" stop-color="#23ffdc"/><stop offset="0.8" stop-color="#01fffe"/><stop offset="1" stop-color="#00a2ff"/></linearGradient>
<linearGradient id="q83" gradientUnits="userSpaceOnUse" x1="0" y1="445.9" x2="0" y2="561.2"><stop offset="0" stop-color="#ffef00"/><stop offset="0.1" stop-color="#ffff00"/><stop offset="0.4" stop-color="#a6ff59"/><stop offset="0.7" stop-color="#3bffc4"/><stop offset="0.825" stop-color="#03fffc"/><stop offset="1" stop-color="#00b5ff"/></linearGradient>
<linearGradient id="q84" gradientUnits="userSpaceOnUse" x1="0" y1="445.2" x2="0" y2="558.4"><stop offset="0" stop-color="#ffeb00"/><stop offset="0.125" stop-color="#fcff03"/><stop offset="0.4" stop-color="#abff54"/><stop offset="0.75" stop-color="#2fffd0"/><stop offset="0.85" stop-color="#03fffc"/><stop offset="1" stop-color="#00c2ff"/></linearGradient>
<linearGradient id="q85" gradientUnits="userSpaceOnUse" x1="0" y1="444.7" x2="0" y2="555.5"><stop offset="0" stop-color="#ffe700"/><stop offset="0.125" stop-color="#ffff00"/><stop offset="0.4" stop-color="#b0ff4f"/><stop offset="0.775" stop-color="#2dffd2"/><stop offset="0.875" stop-color="#03fffc"/><stop offset="1" stop-color="#00d0ff"/></linearGradient>
<linearGradient id="q86" gradientUnits="userSpaceOnUse" x1="0" y1="444.5" x2="0" y2="552.5"><stop offset="0" stop-color="#ffe400"/><stop offset="0.15" stop-color="#fcff03"/><stop offset="0.425" stop-color="#adff52"/><stop offset="0.8" stop-color="#2dffd2"/><stop offset="0.9" stop-color="#05fffa"/><stop offset="0.95" stop-color="#00f0ff"/><stop offset="1" stop-color="#00ddff"/></linearGradient>
<linearGradient id="q87" gradientUnits="userSpaceOnUse" x1="0" y1="444.7" x2="0" y2="549.2"><stop offset="0" stop-color="#ffe000"/><stop offset="0.15" stop-color="#fffe00"/><stop offset="0.4" stop-color="#bbff44"/><stop offset="0.85" stop-color="#24ffdb"/><stop offset="0.95" stop-color="#00fdff"/><stop offset="1" stop-color="#00eaff"/></linearGradient>
<linearGradient id="q88" gradientUnits="userSpaceOnUse" x1="0" y1="445" x2="0" y2="545.8"><stop offset="0" stop-color="#ffdc00"/><stop offset="0.175" stop-color="#fdff02"/><stop offset="0.4" stop-color="#c0ff3f"/><stop offset="0.875" stop-color="#26ffd9"/><stop offset="0.975" stop-color="#02fffd"/><stop offset="1" stop-color="#00f8ff"/></linearGradient>
<linearGradient id="q89" gradientUnits="userSpaceOnUse" x1="0" y1="445.4" x2="0" y2="542.5"><stop offset="0" stop-color="#ffda00"/><stop offset="0.175" stop-color="#feff01"/><stop offset="0.4" stop-color="#c3ff3c"/><stop offset="0.9" stop-color="#29ffd6"/><stop offset="1" stop-color="#06fff9"/></linearGradient>
<linearGradient id="q90" gradientUnits="userSpaceOnUse" x1="0" y1="446.1" x2="0" y2="539.5"><stop offset="0" stop-color="#ffd800"/><stop offset="0.175" stop-color="#feff01"/><stop offset="0.45" stop-color="#b7ff48"/><stop offset="0.9" stop-color="#34ffcb"/><stop offset="1" stop-color="#14ffeb"/></linearGradient>
<linearGradient id="q91" gradientUnits="userSpaceOnUse" x1="0" y1="447.2" x2="0" y2="536.5"><stop offset="0" stop-color="#ffd600"/><stop offset="0.175" stop-color="#ffff00"/><stop offset="0.55" stop-color="#a0ff5f"/><stop offset="0.925" stop-color="#39ffc6"/><stop offset="1" stop-color="#22ffdd"/></linearGradient>
<linearGradient id="q92" gradientUnits="userSpaceOnUse" x1="0" y1="448.7" x2="0" y2="533.6"><stop offset="0" stop-color="#ffd400"/><stop offset="0.175" stop-color="#ffff00"/><stop offset="0.875" stop-color="#53ffac"/><stop offset="1" stop-color="#30ffcf"/></linearGradient>
<linearGradient id="q93" gradientUnits="userSpaceOnUse" x1="0" y1="450.4" x2="0" y2="530.9"><stop offset="0" stop-color="#ffd200"/><stop offset="0.175" stop-color="#ffff00"/><stop offset="0.925" stop-color="#52ffad"/><stop offset="1" stop-color="#3effc1"/></linearGradient>
<linearGradient id="q94" gradientUnits="userSpaceOnUse" x1="0" y1="452.3" x2="0" y2="528.3"><stop offset="0" stop-color="#ffd200"/><stop offset="0.175" stop-color="#fffe00"/><stop offset="0.925" stop-color="#5dffa2"/><stop offset="1" stop-color="#4affb5"/></linearGradient>
<linearGradient id="q95" gradientUnits="userSpaceOnUse" x1="0" y1="454.8" x2="0" y2="525.7"><stop offset="0" stop-color="#ffd400"/><stop offset="0.175" stop-color="#ffff00"/><stop offset="0.9" stop-color="#6fff90"/><stop offset="1" stop-color="#56ffa9"/></linearGradient>
<linearGradient id="q96" gradientUnits="userSpaceOnUse" x1="0" y1="457.7" x2="0" y2="523.3"><stop offset="0" stop-color="#ffd600"/><stop offset="0.175" stop-color="#ffff00"/><stop offset="0.9" stop-color="#7aff85"/><stop offset="1" stop-color="#62ff9d"/></linearGradient>
<linearGradient id="q97" gradientUnits="userSpaceOnUse" x1="0" y1="460.9" x2="0" y2="521.1"><stop offset="0" stop-color="#ffd800"/><stop offset="0.175" stop-color="#ffff00"/><stop offset="0.9" stop-color="#85ff7a"/><stop offset="1" stop-color="#6eff91"/></linearGradient>
<linearGradient id="q98" gradientUnits="userSpaceOnUse" x1="0" y1="464.3" x2="0" y2="519"><stop offset="0" stop-color="#ffda00"/><stop offset="0.175" stop-color="#ffff00"/><stop offset="0.9" stop-color="#90ff6f"/><stop offset="1" stop-color="#7aff85"/></linearGradient>
<linearGradient id="q99" gradientUnits="userSpaceOnUse" x1="0" y1="467.8" x2="0" y2="516.9"><stop offset="0" stop-color="#ffdd00"/><stop offset="0.175" stop-color="#fffe00"/><stop offset="0.9" stop-color="#9aff65"/><stop offset="1" stop-color="#85ff7a"/></linearGradient>
<linearGradient id="q100" gradientUnits="userSpaceOnUse" x1="0" y1="471.6" x2="0" y2="514.9"><stop offset="0" stop-color="#ffe000"/><stop offset="0.2" stop-color="#feff01"/><stop offset="0.9" stop-color="#a4ff5b"/><stop offset="1" stop-color="#91ff6e"/></linearGradient>
<linearGradient id="q101" gradientUnits="userSpaceOnUse" x1="0" y1="475.8" x2="0" y2="513.3"><stop offset="0" stop-color="#ffe300"/><stop offset="0.225" stop-color="#fdff02"/><stop offset="0.95" stop-color="#a5ff5a"/><stop offset="1" stop-color="#9dff62"/></linearGradient>
<linearGradient id="q102" gradientUnits="userSpaceOnUse" x1="0" y1="480.1" x2="0" y2="512.2"><stop offset="0" stop-color="#ffe600"/><stop offset="0.25" stop-color="#fdff02"/><stop offset="1" stop-color="#a9ff56"/></linearGradient>
<linearGradient id="q103" gradientUnits="userSpaceOnUse" x1="0" y1="484.3" x2="0" y2="511.1"><stop offset="0" stop-color="#ffe900"/><stop offset="0.275" stop-color="#fdff02"/><stop offset="1" stop-color="#b5ff4a"/></linearGradient>
<linearGradient id="q104" gradientUnits="userSpaceOnUse" x1="0" y1="488.3" x2="0" y2="510.3"><stop offset="0" stop-color="#ffec00"/><stop offset="0.3" stop-color="#fdff02"/><stop offset="1" stop-color="#bfff40"/></linearGradient>
<linearGradient id="q105" gradientUnits="userSpaceOnUse" x1="0" y1="492.3" x2="0" y2="509.7"><stop offset="0" stop-color="#ffef00"/><stop offset="0.3" stop-color="#fbff04"/><stop offset="1" stop-color="#c6ff39"/></linearGradient>
<linearGradient id="q106" gradientUnits="userSpaceOnUse" x1="0" y1="496.2" x2="0" y2="509.5"><stop offset="0" stop-color="#fff300"/><stop offset="0.275" stop-color="#fbff04"/><stop offset="1" stop-color="#ceff31"/></linearGradient>
<linearGradient id="q107" gradientUnits="userSpaceOnUse" x1="0" y1="500" x2="0" y2="509.8"><stop offset="0" stop-color="#fff700"/><stop offset="0.275" stop-color="#faff05"/><stop offset="1" stop-color="#d5ff2a"/></linearGradient>
<linearGradient id="q108" gradientUnits="userSpaceOnUse" x1="0" y1="503.6" x2="0" y2="510.5"><stop offset="0" stop-color="#fffb00"/><stop offset="0.425" stop-color="#f3ff0c"/><stop offset="1" stop-color="#dcff23"/></linearGradient>
<linearGradient id="q109" gradientUnits="userSpaceOnUse" x1="0" y1="506.9" x2="0" y2="511.3"><stop offset="0" stop-color="#ffff00"/><stop offset="1" stop-color="#e1ff1e"/></linearGradient>
<linearGradient id="q110" gradientUnits="userSpaceOnUse" x1="0" y1="510" x2="0" y2="512.7"><stop offset="0" stop-color="#faff05"/><stop offset="1" stop-color="#e5ff1a"/></linearGradient>
<linearGradient id="q111" gradientUnits="userSpaceOnUse" x1="0" y1="512.9" x2="0" y2="514.9"><stop offset="0" stop-color="#eeff11"/><stop offset="1" stop-color="#e5ff1a"/></linearGradient>
<linearGradient id="p112" gradientUnits="userSpaceOnUse" x1="0" y1="284.4" x2="0" y2="292.8"><stop offset="0" stop-color="#fa0000"/><stop offset="0.975" stop-color="#ff0700"/><stop offset="1" stop-color="#ff0800"/></linearGradient>
<linearGradient id="p113" gradientUnits="userSpaceOnUse" x1="0" y1="281.9" x2="0" y2="304.6"><stop offset="0" stop-color="#fa0000"/><stop offset="0.35" stop-color="#ff0800"/><stop offset="1" stop-color="#ff2100"/></linearGradient>
<linearGradient id="p114" gradientUnits="userSpaceOnUse" x1="0" y1="280.4" x2="0" y2="315.5"><stop offset="0" stop-color="#f90000"/><stop offset="0.2" stop-color="#ff0700"/><stop offset="1" stop-color="#ff3900"/></linearGradient>
<linearGradient id="p115" gradientUnits="userSpaceOnUse" x1="0" y1="279.4" x2="0" y2="326.2"><stop offset="0" stop-color="#f80000"/><stop offset="0.125" stop-color="#ff0400"/><stop offset="1" stop-color="#ff4f00"/></linearGradient>
<linearGradient id="p116" gradientUnits="userSpaceOnUse" x1="0" y1="278.7" x2="0" y2="337"><stop offset="0" stop-color="#f70000"/><stop offset="0.1" stop-color="#ff0300"/><stop offset="1" stop-color="#ff6500"/></linearGradient>
<linearGradient id="p117" gradientUnits="userSpaceOnUse" x1="0" y1="278.1" x2="0" y2="347.8"><stop offset="0" stop-color="#f60000"/><stop offset="0.1" stop-color="#ff0400"/><stop offset="0.975" stop-color="#ff7800"/><stop offset="1" stop-color="#ff7b00"/></linearGradient>
<linearGradient id="p118" gradientUnits="userSpaceOnUse" x1="0" y1="278.1" x2="0" y2="358.6"><stop offset="0" stop-color="#f60000"/><stop offset="0.075" stop-color="#ff0300"/><stop offset="0.875" stop-color="#ff7d00"/><stop offset="1" stop-color="#ff9100"/></linearGradient>
<linearGradient id="p119" gradientUnits="userSpaceOnUse" x1="0" y1="278.8" x2="0" y2="369.5"><stop offset="0" stop-color="#f80000"/><stop offset="0.075" stop-color="#ff0600"/><stop offset="0.825" stop-color="#ff8700"/><stop offset="1" stop-color="#ffa900"/></linearGradient>
<linearGradient id="p120" gradientUnits="userSpaceOnUse" x1="0" y1="279.8" x2="0" y2="380.1"><stop offset="0" stop-color="#fb0000"/><stop offset="0.075" stop-color="#ff0a00"/><stop offset="0.825" stop-color="#ff9900"/><stop offset="1" stop-color="#ffc000"/></linearGradient>
<linearGradient id="p121" gradientUnits="userSpaceOnUse" x1="0" y1="281.2" x2="0" y2="390.6"><stop offset="0" stop-color="#fd0000"/><stop offset="0.6" stop-color="#ff7900"/><stop offset="1" stop-color="#ffd700"/></linearGradient>
<linearGradient id="p122" gradientUnits="userSpaceOnUse" x1="0" y1="282.8" x2="0" y2="400.6"><stop offset="0" stop-color="#ff0100"/><stop offset="0.525" stop-color="#ff7400"/><stop offset="0.925" stop-color="#ffd800"/><stop offset="1" stop-color="#ffec00"/></linearGradient>
<linearGradient id="p123" gradientUnits="userSpaceOnUse" x1="0" y1="285" x2="0" y2="410.1"><stop offset="0" stop-color="#ff0400"/><stop offset="0.7" stop-color="#ffaa00"/><stop offset="1" stop-color="#fff700"/></linearGradient>
<linearGradient id="p124" gradientUnits="userSpaceOnUse" x1="0" y1="287.4" x2="0" y2="419.3"><stop offset="0" stop-color="#ff0800"/><stop offset="0.975" stop-color="#fffc00"/><stop offset="1" stop-color="#fcff03"/></linearGradient>
<linearGradient id="p125" gradientUnits="userSpaceOnUse" x1="0" y1="289.8" x2="0" y2="428.3"><stop offset="0" stop-color="#ff0c00"/><stop offset="0.95" stop-color="#fdff02"/><stop offset="1" stop-color="#f1ff0e"/></linearGradient>
<linearGradient id="p126" gradientUnits="userSpaceOnUse" x1="0" y1="292.5" x2="0" y2="437.5"><stop offset="0" stop-color="#ff0f00"/><stop offset="0.8" stop-color="#ffe800"/><stop offset="0.9" stop-color="#fdff02"/><stop offset="1" stop-color="#e5ff1a"/></linearGradient>
<linearGradient id="p127" gradientUnits="userSpaceOnUse" x1="0" y1="296" x2="0" y2="447.1"><stop offset="0" stop-color="#ff1700"/><stop offset="0.825" stop-color="#ffff00"/><stop offset="1" stop-color="#d4ff2b"/></linearGradient>
<linearGradient id="p128" gradientUnits="userSpaceOnUse" x1="0" y1="300" x2="0" y2="456.7"><stop offset="0" stop-color="#ff1e00"/><stop offset="0.775" stop-color="#feff01"/><stop offset="1" stop-color="#c3ff3c"/></linearGradient>
<linearGradient id="p129" gradientUnits="userSpaceOnUse" x1="0" y1="304.5" x2="0" y2="466.1"><stop offset="0" stop-color="#ff2500"/><stop offset="0.725" stop-color="#ffff00"/><stop offset="0.9" stop-color="#cbff34"/><stop offset="1" stop-color="#b2ff4d"/></linearGradient>
<linearGradient id="p130" gradientUnits="userSpaceOnUse" x1="0" y1="309.3" x2="0" y2="475.5"><stop offset="0" stop-color="#ff2d00"/><stop offset="0.525" stop-color="#ffcf00"/><stop offset="0.675" stop-color="#fffc00"/><stop offset="0.9" stop-color="#baff45"/><stop offset="1" stop-color="#a1ff5e"/></linearGradient>
<linearGradient id="p131" gradientUnits="userSpaceOnUse" x1="0" y1="313.6" x2="0" y2="484.7"><stop offset="0" stop-color="#ff3700"/><stop offset="0.525" stop-color="#ffdb00"/><stop offset="0.65" stop-color="#feff01"/><stop offset="0.875" stop-color="#b2ff4d"/><stop offset="1" stop-color="#91ff6e"/></linearGradient>
<linearGradient id="p132" gradientUnits="userSpaceOnUse" x1="0" y1="317.8" x2="0" y2="493.8"><stop offset="0" stop-color="#ff4200"/><stop offset="0.575" stop-color="#fff400"/><stop offset="0.625" stop-color="#faff05"/><stop offset="0.9" stop-color="#9dff62"/><stop offset="1" stop-color="#81ff7e"/></linearGradient>
<linearGradient id="p133" gradientUnits="userSpaceOnUse" x1="0" y1="322" x2="0" y2="502.3"><stop offset="0" stop-color="#ff4d00"/><stop offset="0.575" stop-color="#feff01"/><stop offset="0.95" stop-color="#80ff7f"/><stop offset="1" stop-color="#71ff8e"/></linearGradient>
<linearGradient id="p134" gradientUnits="userSpaceOnUse" x1="0" y1="326.1" x2="0" y2="510.3"><stop offset="0" stop-color="#ff5800"/><stop offset="0.525" stop-color="#fffc00"/><stop offset="0.7" stop-color="#c8ff37"/><stop offset="0.95" stop-color="#70ff8f"/><stop offset="1" stop-color="#61ff9e"/></linearGradient>
<linearGradient id="p135" gradientUnits="userSpaceOnUse" x1="0" y1="330.3" x2="0" y2="518.4"><stop offset="0" stop-color="#ff6300"/><stop offset="0.5" stop-color="#feff01"/><stop offset="0.8" stop-color="#97ff68"/><stop offset="1" stop-color="#51ffae"/></linearGradient>
<linearGradient id="p136" gradientUnits="userSpaceOnUse" x1="0" y1="334.6" x2="0" y2="526.6"><stop offset="0" stop-color="#ff6e00"/><stop offset="0.45" stop-color="#fffb00"/><stop offset="0.55" stop-color="#e3ff1c"/><stop offset="0.8" stop-color="#8aff75"/><stop offset="1" stop-color="#41ffbe"/></linearGradient>
<linearGradient id="p137" gradientUnits="userSpaceOnUse" x1="0" y1="338.9" x2="0" y2="534.8"><stop offset="0" stop-color="#ff7900"/><stop offset="0.425" stop-color="#fffd00"/><stop offset="0.75" stop-color="#93ff6c"/><stop offset="0.975" stop-color="#3affc5"/><stop offset="1" stop-color="#31ffce"/></linearGradient>
<linearGradient id="p138" gradientUnits="userSpaceOnUse" x1="0" y1="343" x2="0" y2="543"><stop offset="0" stop-color="#ff8400"/><stop offset="0.4" stop-color="#feff01"/><stop offset="0.775" stop-color="#7cff83"/><stop offset="0.975" stop-color="#2affd5"/><stop offset="1" stop-color="#21ffde"/></linearGradient>
<linearGradient id="p139" gradientUnits="userSpaceOnUse" x1="0" y1="347" x2="0" y2="550.9"><stop offset="0" stop-color="#ff8e00"/><stop offset="0.375" stop-color="#fcff03"/><stop offset="0.775" stop-color="#70ff8f"/><stop offset="0.975" stop-color="#1dffe2"/><stop offset="1" stop-color="#13ffec"/></linearGradient>
<linearGradient id="p140" gradientUnits="userSpaceOnUse" x1="0" y1="350.7" x2="0" y2="558.6"><stop offset="0" stop-color="#ff9600"/><stop offset="0.35" stop-color="#fcff03"/><stop offset="0.775" stop-color="#64ff9b"/><stop offset="1" stop-color="#07fff8"/></linearGradient>
<linearGradient id="p141" gradientUnits="userSpaceOnUse" x1="0" y1="354.4" x2="0" y2="566.2"><stop offset="0" stop-color="#ff9e00"/><stop offset="0.3" stop-color="#fffb00"/><stop offset="0.35" stop-color="#f2ff0d"/><stop offset="0.775" stop-color="#58ffa7"/><stop offset="0.975" stop-color="#05fffa"/><stop offset="1" stop-color="#00faff"/></linearGradient>
<linearGradient id="p142" gradientUnits="userSpaceOnUse" x1="0" y1="358.1" x2="0" y2="573.7"><stop offset="0" stop-color="#ffa600"/><stop offset="0.275" stop-color="#fffc00"/><stop offset="0.425" stop-color="#cfff30"/><stop offset="0.825" stop-color="#38ffc7"/><stop offset="0.95" stop-color="#03fffc"/><stop offset="1" stop-color="#00eeff"/></linearGradient>
<linearGradient id="p143" gradientUnits="userSpaceOnUse" x1="0" y1="361.7" x2="0" y2="581.2"><stop offset="0" stop-color="#ffae00"/><stop offset="0.25" stop-color="#fffd00"/><stop offset="0.5" stop-color="#abff54"/><stop offset="0.875" stop-color="#17ffe8"/><stop offset="0.925" stop-color="#01fffe"/><stop offset="1" stop-color="#00e1ff"/></linearGradient>
<linearGradient id="p144" gradientUnits="userSpaceOnUse" x1="0" y1="365.4" x2="0" y2="588.6"><stop offset="0" stop-color="#ffb500"/><stop offset="0.225" stop-color="#fffe00"/><stop offset="0.525" stop-color="#98ff67"/><stop offset="0.9" stop-color="#00ffff"/><stop offset="1" stop-color="#00d5ff"/></linearGradient>
<linearGradient id="p145" gradientUnits="userSpaceOnUse" x1="0" y1="369" x2="0" y2="595.7"><stop offset="0" stop-color="#ffbd00"/><stop offset="0.2" stop-color="#fffe00"/><stop offset="0.525" stop-color="#8dff72"/><stop offset="0.875" stop-color="#00ffff"/><stop offset="1" stop-color="#00c9ff"/></linearGradient>
<linearGradient id="p146" gradientUnits="userSpaceOnUse" x1="0" y1="372.5" x2="0" y2="602.5"><stop offset="0" stop-color="#ffc500"/><stop offset="0.175" stop-color="#fffe00"/><stop offset="0.525" stop-color="#83ff7c"/><stop offset="0.85" stop-color="#00ffff"/><stop offset="1" stop-color="#00bdff"/></linearGradient>
<linearGradient id="p147" gradientUnits="userSpaceOnUse" x1="0" y1="376.1" x2="0" y2="608.9"><stop offset="0" stop-color="#ffcd00"/><stop offset="0.15" stop-color="#fffe00"/><stop offset="0.5" stop-color="#83ff7c"/><stop offset="0.825" stop-color="#00ffff"/><stop offset="1" stop-color="#00b1ff"/></linearGradient>
<linearGradient id="p148" gradientUnits="userSpaceOnUse" x1="0" y1="379.6" x2="0" y2="615"><stop offset="0" stop-color="#ffd500"/><stop offset="0.125" stop-color="#fffe00"/><stop offset="0.425" stop-color="#98ff67"/><stop offset="0.8" stop-color="#03fffc"/><stop offset="0.9" stop-color="#00d7ff"/><stop offset="1" stop-color="#00abff"/></linearGradient>
<linearGradient id="p149" gradientUnits="userSpaceOnUse" x1="0" y1="383.1" x2="0" y2="620.8"><stop offset="0" stop-color="#ffdd00"/><stop offset="0.1" stop-color="#fffe00"/><stop offset="0.325" stop-color="#b7ff48"/><stop offset="0.675" stop-color="#2effd1"/><stop offset="0.775" stop-color="#06fff9"/><stop offset="0.825" stop-color="#00f1ff"/><stop offset="1" stop-color="#00a5ff"/></linearGradient>
<linearGradient id="p150" gradientUnits="userSpaceOnUse" x1="0" y1="386.5" x2="0" y2="626.6"><stop offset="0" stop-color="#ffe500"/><stop offset="0.075" stop-color="#fffd00"/><stop offset="0.275" stop-color="#c1ff3e"/><stop offset="0.625" stop-color="#3cffc3"/><stop offset="0.775" stop-color="#00feff"/><stop offset="1" stop-color="#009fff"/></linearGradient>
<linearGradient id="p151" gradientUnits="userSpaceOnUse" x1="0" y1="390" x2="0" y2="632.3"><stop offset="0" stop-color="#ffed00"/><stop offset="0.05" stop-color="#fffd00"/><stop offset="0.25" stop-color="#c3ff3c"/><stop offset="0.575" stop-color="#49ffb6"/><stop offset="0.75" stop-color="#03fffc"/><stop offset="1" stop-color="#0099ff"/></linearGradient>
<linearGradient id="p152" gradientUnits="userSpaceOnUse" x1="0" y1="393.5" x2="0" y2="638.1"><stop offset="0" stop-color="#fff500"/><stop offset="0.05" stop-color="#faff05"/><stop offset="0.325" stop-color="#a2ff5d"/><stop offset="0.75" stop-color="#00fcff"/><stop offset="1" stop-color="#0093ff"/></linearGradient>
<linearGradient id="p153" gradientUnits="userSpaceOnUse" x1="0" y1="397" x2="0" y2="643.5"><stop offset="0" stop-color="#fffd00"/><stop offset="0.25" stop-color="#b5ff4a"/><stop offset="0.525" stop-color="#4fffb0"/><stop offset="0.725" stop-color="#01fffe"/><stop offset="1" stop-color="#008dff"/></linearGradient>
<linearGradient id="p154" gradientUnits="userSpaceOnUse" x1="0" y1="400.5" x2="0" y2="648.5"><stop offset="0" stop-color="#f9ff06"/><stop offset="0.25" stop-color="#aeff51"/><stop offset="0.5" stop-color="#52ffad"/><stop offset="0.7" stop-color="#06fff9"/><stop offset="0.725" stop-color="#00faff"/><stop offset="0.975" stop-color="#0090ff"/><stop offset="1" stop-color="#0087ff"/></linearGradient>
<linearGradient id="p155" gradientUnits="userSpaceOnUse" x1="0" y1="403.9" x2="0" y2="652.8"><stop offset="0" stop-color="#f1ff0e"/><stop offset="0.25" stop-color="#a7ff58"/><stop offset="0.475" stop-color="#55ffaa"/><stop offset="0.7" stop-color="#00ffff"/><stop offset="0.925" stop-color="#009dff"/><stop offset="1" stop-color="#0081ff"/></linearGradient>
<linearGradient id="p156" gradientUnits="userSpaceOnUse" x1="0" y1="407.3" x2="0" y2="656.7"><stop offset="0" stop-color="#ecff13"/><stop offset="0.275" stop-color="#9bff64"/><stop offset="0.675" stop-color="#06fff9"/><stop offset="0.7" stop-color="#00fbff"/><stop offset="0.925" stop-color="#0099ff"/><stop offset="1" stop-color="#007cff"/></linearGradient>
<linearGradient id="p157" gradientUnits="userSpaceOnUse" x1="0" y1="410.7" x2="0" y2="660.2"><stop offset="0" stop-color="#e7ff18"/><stop offset="0.275" stop-color="#97ff68"/><stop offset="0.675" stop-color="#02fffd"/><stop offset="0.775" stop-color="#00d6ff"/><stop offset="1" stop-color="#0079ff"/></linearGradient>
<linearGradient id="p158" gradientUnits="userSpaceOnUse" x1="0" y1="414" x2="0" y2="663.5"><stop offset="0" stop-color="#e2ff1d"/><stop offset="0.3" stop-color="#8bff74"/><stop offset="0.675" stop-color="#00feff"/><stop offset="0.975" stop-color="#007fff"/><stop offset="1" stop-color="#0075ff"/></linearGradient>
<linearGradient id="p159" gradientUnits="userSpaceOnUse" x1="0" y1="417.4" x2="0" y2="666.5"><stop offset="0" stop-color="#ddff22"/><stop offset="0.325" stop-color="#7fff80"/><stop offset="0.65" stop-color="#06fff9"/><stop offset="0.7" stop-color="#00f1ff"/><stop offset="0.975" stop-color="#007bff"/><stop offset="1" stop-color="#0071ff"/></linearGradient>
<linearGradient id="p160" gradientUnits="userSpaceOnUse" x1="0" y1="420.8" x2="0" y2="669.4"><stop offset="0" stop-color="#d8ff27"/><stop offset="0.325" stop-color="#7bff84"/><stop offset="0.65" stop-color="#03fffc"/><stop offset="1" stop-color="#006eff"/></linearGradient>
<linearGradient id="p161" gradientUnits="userSpaceOnUse" x1="0" y1="424.3" x2="0" y2="672"><stop offset="0" stop-color="#d3ff2c"/><stop offset="0.325" stop-color="#77ff88"/><stop offset="0.65" stop-color="#00ffff"/><stop offset="1" stop-color="#006aff"/></linearGradient>
<linearGradient id="p162" gradientUnits="userSpaceOnUse" x1="0" y1="427.9" x2="0" y2="674.5"><stop offset="0" stop-color="#ceff31"/><stop offset="0.325" stop-color="#74ff8b"/><stop offset="0.65" stop-color="#00fcff"/><stop offset="1" stop-color="#0066ff"/></linearGradient>
<linearGradient id="p163" gradientUnits="userSpaceOnUse" x1="0" y1="431.3" x2="0" y2="676.7"><stop offset="0" stop-color="#c9ff36"/><stop offset="0.325" stop-color="#70ff8f"/><stop offset="0.625" stop-color="#04fffb"/><stop offset="0.675" stop-color="#00eeff"/><stop offset="1" stop-color="#0063ff"/></linearGradient>
<linearGradient id="p164" gradientUnits="userSpaceOnUse" x1="0" y1="434.6" x2="0" y2="679"><stop offset="0" stop-color="#c4ff3b"/><stop offset="0.325" stop-color="#6dff92"/><stop offset="0.6" stop-color="#0cfff3"/><stop offset="0.625" stop-color="#03fffc"/><stop offset="1" stop-color="#0060ff"/></linearGradient>
<linearGradient id="p165" gradientUnits="userSpaceOnUse" x1="0" y1="437.8" x2="0" y2="681.1"><stop offset="0" stop-color="#c0ff3f"/><stop offset="0.325" stop-color="#6aff95"/><stop offset="0.625" stop-color="#02fffd"/><stop offset="1" stop-color="#005dff"/></linearGradient>
<linearGradient id="p166" gradientUnits="userSpaceOnUse" x1="0" y1="440.9" x2="0" y2="682.9"><stop offset="0" stop-color="#bbff44"/><stop offset="0.35" stop-color="#5fffa0"/><stop offset="0.625" stop-color="#02fffd"/><stop offset="0.95" stop-color="#0072ff"/><stop offset="1" stop-color="#005bff"/></linearGradient>
<linearGradient id="p167" gradientUnits="userSpaceOnUse" x1="0" y1="443.9" x2="0" y2="684.2"><stop offset="0" stop-color="#b6ff49"/><stop offset="0.35" stop-color="#5cffa3"/><stop offset="0.625" stop-color="#02fffd"/><stop offset="0.875" stop-color="#0094ff"/><stop offset="1" stop-color="#0058ff"/></linearGradient>
<linearGradient id="p168" gradientUnits="userSpaceOnUse" x1="0" y1="447" x2="0" y2="685.2"><stop offset="0" stop-color="#b1ff4e"/><stop offset="0.4" stop-color="#4bffb4"/><stop offset="0.625" stop-color="#02fffd"/><stop offset="0.85" stop-color="#009fff"/><stop offset="1" stop-color="#0056ff"/></linearGradient>
<linearGradient id="p169" gradientUnits="userSpaceOnUse" x1="0" y1="450.1" x2="0" y2="686.1"><stop offset="0" stop-color="#acff53"/><stop offset="0.4" stop-color="#49ffb6"/><stop offset="0.625" stop-color="#01fffe"/><stop offset="0.85" stop-color="#009fff"/><stop offset="1" stop-color="#0053ff"/></linearGradient>
<linearGradient id="p170" gradientUnits="userSpaceOnUse" x1="0" y1="453.2" x2="0" y2="686.8"><stop offset="0" stop-color="#a7ff58"/><stop offset="0.425" stop-color="#3fffc0"/><stop offset="0.625" stop-color="#01fffe"/><stop offset="0.825" stop-color="#00adff"/><stop offset="1" stop-color="#0051ff"/></linearGradient>
<linearGradient id="p171" gradientUnits="userSpaceOnUse" x1="0" y1="456.4" x2="0" y2="687"><stop offset="0" stop-color="#a2ff5d"/><stop offset="0.45" stop-color="#35ffca"/><stop offset="0.625" stop-color="#01fffe"/><stop offset="0.825" stop-color="#00adff"/><stop offset="1" stop-color="#004fff"/></linearGradient>
<linearGradient id="p172" gradientUnits="userSpaceOnUse" x1="0" y1="459.5" x2="0" y2="687"><stop offset="0" stop-color="#9dff62"/><stop offset="0.45" stop-color="#34ffcb"/><stop offset="0.625" stop-color="#01fffe"/><stop offset="0.825" stop-color="#00aeff"/><stop offset="1" stop-color="#004eff"/></linearGradient>
<linearGradient id="p173" gradientUnits="userSpaceOnUse" x1="0" y1="462.8" x2="0" y2="687"><stop offset="0" stop-color="#9aff65"/><stop offset="0.45" stop-color="#34ffcb"/><stop offset="0.625" stop-color="#03fffc"/><stop offset="0.8" stop-color="#00bdff"/><stop offset="1" stop-color="#0054ff"/></linearGradient>
<linearGradient id="p174" gradientUnits="userSpaceOnUse" x1="0" y1="466.1" x2="0" y2="687"><stop offset="0" stop-color="#96ff69"/><stop offset="0.4" stop-color="#41ffbe"/><stop offset="0.625" stop-color="#04fffb"/><stop offset="0.675" stop-color="#00f2ff"/><stop offset="0.85" stop-color="#00a8ff"/><stop offset="1" stop-color="#005aff"/></linearGradient>
<linearGradient id="p175" gradientUnits="userSpaceOnUse" x1="0" y1="469.4" x2="0" y2="687"><stop offset="0" stop-color="#92ff6d"/><stop offset="0.325" stop-color="#51ffae"/><stop offset="0.65" stop-color="#00fdff"/><stop offset="0.825" stop-color="#00b8ff"/><stop offset="1" stop-color="#0060ff"/></linearGradient>
<linearGradient id="p176" gradientUnits="userSpaceOnUse" x1="0" y1="472.5" x2="0" y2="686.8"><stop offset="0" stop-color="#8fff70"/><stop offset="0.275" stop-color="#5cffa3"/><stop offset="0.625" stop-color="#08fff7"/><stop offset="0.65" stop-color="#00ffff"/><stop offset="0.8" stop-color="#00c7ff"/><stop offset="1" stop-color="#0066ff"/></linearGradient>
<linearGradient id="p177" gradientUnits="userSpaceOnUse" x1="0" y1="475.4" x2="0" y2="686.2"><stop offset="0" stop-color="#8bff74"/><stop offset="0.25" stop-color="#60ff9f"/><stop offset="0.65" stop-color="#02fffd"/><stop offset="0.725" stop-color="#00e8ff"/><stop offset="0.9" stop-color="#009dff"/><stop offset="1" stop-color="#006cff"/></linearGradient>
<linearGradient id="p178" gradientUnits="userSpaceOnUse" x1="0" y1="478.2" x2="0" y2="685.3"><stop offset="0" stop-color="#87ff78"/><stop offset="0.225" stop-color="#64ff9b"/><stop offset="0.675" stop-color="#00fdff"/><stop offset="0.875" stop-color="#00adff"/><stop offset="1" stop-color="#0072ff"/></linearGradient>
<linearGradient id="p179" gradientUnits="userSpaceOnUse" x1="0" y1="480.9" x2="0" y2="684.3"><stop offset="0" stop-color="#84ff7b"/><stop offset="0.225" stop-color="#63ff9c"/><stop offset="0.675" stop-color="#01fffe"/><stop offset="0.8" stop-color="#00d0ff"/><stop offset="1" stop-color="#0078ff"/></linearGradient>
<linearGradient id="p180" gradientUnits="userSpaceOnUse" x1="0" y1="483.6" x2="0" y2="683.2"><stop offset="0" stop-color="#80ff7f"/><stop offset="0.225" stop-color="#62ff9d"/><stop offset="0.7" stop-color="#00fcff"/><stop offset="1" stop-color="#007eff"/></linearGradient>
<linearGradient id="p181" gradientUnits="userSpaceOnUse" x1="0" y1="486.1" x2="0" y2="681.8"><stop offset="0" stop-color="#81ff7e"/><stop offset="0.225" stop-color="#63ff9c"/><stop offset="0.7" stop-color="#01fffe"/><stop offset="0.975" stop-color="#0094ff"/><stop offset="1" stop-color="#008aff"/></linearGradient>
<linearGradient id="p182" gradientUnits="userSpaceOnUse" x1="0" y1="488.7" x2="0" y2="680.2"><stop offset="0" stop-color="#82ff7d"/><stop offset="0.225" stop-color="#64ff9b"/><stop offset="0.7" stop-color="#05fffa"/><stop offset="0.775" stop-color="#00eaff"/><stop offset="1" stop-color="#0096ff"/></linearGradient>
<linearGradient id="p183" gradientUnits="userSpaceOnUse" x1="0" y1="491.1" x2="0" y2="678.4"><stop offset="0" stop-color="#83ff7c"/><stop offset="0.25" stop-color="#61ff9e"/><stop offset="0.7" stop-color="#09fff6"/><stop offset="0.725" stop-color="#01fffe"/><stop offset="0.95" stop-color="#00b5ff"/><stop offset="1" stop-color="#00a2ff"/></linearGradient>
<linearGradient id="p184" gradientUnits="userSpaceOnUse" x1="0" y1="493.3" x2="0" y2="676.6"><stop offset="0" stop-color="#84ff7b"/><stop offset="0.25" stop-color="#62ff9d"/><stop offset="0.75" stop-color="#00fdff"/><stop offset="0.95" stop-color="#00c0ff"/><stop offset="1" stop-color="#00aeff"/></linearGradient>
<linearGradient id="p185" gradientUnits="userSpaceOnUse" x1="0" y1="495.3" x2="0" y2="674.7"><stop offset="0" stop-color="#85ff7a"/><stop offset="0.275" stop-color="#5fffa0"/><stop offset="0.775" stop-color="#00fcff"/><stop offset="0.95" stop-color="#00cbff"/><stop offset="1" stop-color="#00bbff"/></linearGradient>
<linearGradient id="p186" gradientUnits="userSpaceOnUse" x1="0" y1="497" x2="0" y2="672.6"><stop offset="0" stop-color="#87ff78"/><stop offset="0.3" stop-color="#5cffa3"/><stop offset="0.8" stop-color="#00fdff"/><stop offset="0.95" stop-color="#00d6ff"/><stop offset="1" stop-color="#00c7ff"/></linearGradient>
<linearGradient id="p187" gradientUnits="userSpaceOnUse" x1="0" y1="498.6" x2="0" y2="670.5"><stop offset="0" stop-color="#88ff77"/><stop offset="0.325" stop-color="#59ffa6"/><stop offset="0.825" stop-color="#00ffff"/><stop offset="0.95" stop-color="#00e1ff"/><stop offset="1" stop-color="#00d3ff"/></linearGradient>
<linearGradient id="p188" gradientUnits="userSpaceOnUse" x1="0" y1="500.2" x2="0" y2="668.3"><stop offset="0" stop-color="#89ff76"/><stop offset="0.325" stop-color="#5bffa4"/><stop offset="0.875" stop-color="#00feff"/><stop offset="1" stop-color="#00dfff"/></linearGradient>
<linearGradient id="p189" gradientUnits="userSpaceOnUse" x1="0" y1="501.8" x2="0" y2="666"><stop offset="0" stop-color="#8dff72"/><stop offset="0.35" stop-color="#5cffa3"/><stop offset="0.925" stop-color="#00fdff"/><stop offset="1" stop-color="#00ebff"/></linearGradient>
<linearGradient id="p190" gradientUnits="userSpaceOnUse" x1="0" y1="503.5" x2="0" y2="663.6"><stop offset="0" stop-color="#94ff6b"/><stop offset="0.35" stop-color="#64ff9b"/><stop offset="0.925" stop-color="#08fff7"/><stop offset="0.975" stop-color="#00fcff"/><stop offset="1" stop-color="#00f6ff"/></linearGradient>
<linearGradient id="p191" gradientUnits="userSpaceOnUse" x1="0" y1="505.1" x2="0" y2="661.1"><stop offset="0" stop-color="#9bff64"/><stop offset="0.35" stop-color="#6cff93"/><stop offset="0.95" stop-color="#0dfff2"/><stop offset="1" stop-color="#02fffd"/></linearGradient>
<linearGradient id="p192" gradientUnits="userSpaceOnUse" x1="0" y1="506.6" x2="0" y2="658.6"><stop offset="0" stop-color="#a2ff5e"/><stop offset="0.325" stop-color="#78ff87"/><stop offset="0.95" stop-color="#17ffe8"/><stop offset="1" stop-color="#0dfff2"/></linearGradient>
<linearGradient id="p193" gradientUnits="userSpaceOnUse" x1="0" y1="507.9" x2="0" y2="655.8"><stop offset="0" stop-color="#a8ff57"/><stop offset="0.325" stop-color="#80ff7f"/><stop offset="0.975" stop-color="#1cffe3"/><stop offset="1" stop-color="#17ffe8"/></linearGradient>
<linearGradient id="p194" gradientUnits="userSpaceOnUse" x1="0" y1="509.3" x2="0" y2="653"><stop offset="0" stop-color="#afff50"/><stop offset="0.325" stop-color="#89ff76"/><stop offset="0.975" stop-color="#27ffd8"/><stop offset="1" stop-color="#22ffdd"/></linearGradient>
<linearGradient id="p195" gradientUnits="userSpaceOnUse" x1="0" y1="510.5" x2="0" y2="650"><stop offset="0" stop-color="#b6ff49"/><stop offset="0.325" stop-color="#91ff6e"/><stop offset="1" stop-color="#2dffd2"/></linearGradient>
<linearGradient id="p196" gradientUnits="userSpaceOnUse" x1="0" y1="511" x2="0" y2="647"><stop offset="0" stop-color="#bdff42"/><stop offset="0.325" stop-color="#99ff66"/><stop offset="1" stop-color="#38ffc7"/></linearGradient>
<linearGradient id="p197" gradientUnits="userSpaceOnUse" x1="0" y1="511" x2="0" y2="643.9"><stop offset="0" stop-color="#caff35"/><stop offset="0.325" stop-color="#a7ff58"/><stop offset="1" stop-color="#44ffbb"/></linearGradient>
<linearGradient id="p198" gradientUnits="userSpaceOnUse" x1="0" y1="511" x2="0" y2="640.8"><stop offset="0" stop-color="#d7ff28"/><stop offset="0.35" stop-color="#b2ff4d"/><stop offset="1" stop-color="#51ffae"/></linearGradient>
<linearGradient id="p199" gradientUnits="userSpaceOnUse" x1="0" y1="510.7" x2="0" y2="637.6"><stop offset="0" stop-color="#e4ff1b"/><stop offset="0.35" stop-color="#c0ff3f"/><stop offset="1" stop-color="#5dffa2"/></linearGradient>
<linearGradient id="p200" gradientUnits="userSpaceOnUse" x1="0" y1="509.2" x2="0" y2="634.5"><stop offset="0" stop-color="#f2ff0d"/><stop offset="0.325" stop-color="#d3ff2c"/><stop offset="1" stop-color="#69ff96"/></linearGradient>
<linearGradient id="p201" gradientUnits="userSpaceOnUse" x1="0" y1="507.7" x2="0" y2="631.4"><stop offset="0" stop-color="#ffff00"/><stop offset="0.325" stop-color="#e1ff1e"/><stop offset="0.975" stop-color="#78ff87"/><stop offset="1" stop-color="#75ff8a"/></linearGradient>
<linearGradient id="p202" gradientUnits="userSpaceOnUse" x1="0" y1="505.9" x2="0" y2="628.3"><stop offset="0" stop-color="#fff400"/><stop offset="0.175" stop-color="#fcff03"/><stop offset="0.35" stop-color="#e9ff16"/><stop offset="1" stop-color="#80ff7f"/></linearGradient>
<linearGradient id="p203" gradientUnits="userSpaceOnUse" x1="0" y1="503.9" x2="0" y2="625.3"><stop offset="0" stop-color="#ffe800"/><stop offset="0.3" stop-color="#fcff03"/><stop offset="0.8" stop-color="#adff52"/><stop offset="1" stop-color="#8bff74"/></linearGradient>
<linearGradient id="p204" gradientUnits="userSpaceOnUse" x1="0" y1="501.7" x2="0" y2="622.4"><stop offset="0" stop-color="#ffdd00"/><stop offset="0.375" stop-color="#fdff02"/><stop offset="0.775" stop-color="#c0ff3f"/><stop offset="1" stop-color="#95ff6a"/></linearGradient>
<linearGradient id="p205" gradientUnits="userSpaceOnUse" x1="0" y1="499.4" x2="0" y2="619.7"><stop offset="0" stop-color="#ffd100"/><stop offset="0.4" stop-color="#fff800"/><stop offset="0.475" stop-color="#fcff03"/><stop offset="0.775" stop-color="#ceff31"/><stop offset="1" stop-color="#a0ff5f"/></linearGradient>
<linearGradient id="p206" gradientUnits="userSpaceOnUse" x1="0" y1="496.9" x2="0" y2="617.1"><stop offset="0" stop-color="#ffc600"/><stop offset="0.45" stop-color="#fff200"/><stop offset="0.575" stop-color="#fbff04"/><stop offset="0.75" stop-color="#e1ff1e"/><stop offset="1" stop-color="#abff54"/></linearGradient>
<linearGradient id="p207" gradientUnits="userSpaceOnUse" x1="0" y1="494.1" x2="0" y2="614.7"><stop offset="0" stop-color="#ffba00"/><stop offset="0.5" stop-color="#ffec00"/><stop offset="0.675" stop-color="#fcff03"/><stop offset="0.775" stop-color="#eaff15"/><stop offset="1" stop-color="#b6ff49"/></linearGradient>
<linearGradient id="p208" gradientUnits="userSpaceOnUse" x1="0" y1="491.4" x2="0" y2="612.5"><stop offset="0" stop-color="#ffae00"/><stop offset="0.575" stop-color="#ffea00"/><stop offset="0.75" stop-color="#fcff03"/><stop offset="1" stop-color="#c0ff3f"/></linearGradient>
<linearGradient id="p209" gradientUnits="userSpaceOnUse" x1="0" y1="488.6" x2="0" y2="610.6"><stop offset="0" stop-color="#ffa200"/><stop offset="0.6" stop-color="#ffe500"/><stop offset="0.775" stop-color="#fdff02"/><stop offset="1" stop-color="#c8ff37"/></linearGradient>
<linearGradient id="p210" gradientUnits="userSpaceOnUse" x1="0" y1="485.9" x2="0" y2="608.8"><stop offset="0" stop-color="#ff9600"/><stop offset="0.625" stop-color="#ffe000"/><stop offset="0.75" stop-color="#fff300"/><stop offset="0.8" stop-color="#ffff00"/><stop offset="1" stop-color="#d1ff2e"/></linearGradient>
<linearGradient id="p211" gradientUnits="userSpaceOnUse" x1="0" y1="483.1" x2="0" y2="607.1"><stop offset="0" stop-color="#ff8a00"/><stop offset="0.675" stop-color="#ffdf00"/><stop offset="0.825" stop-color="#fffd00"/><stop offset="1" stop-color="#d9ff26"/></linearGradient>
<linearGradient id="p212" gradientUnits="userSpaceOnUse" x1="0" y1="480.3" x2="0" y2="605.7"><stop offset="0" stop-color="#ff7d00"/><stop offset="0.725" stop-color="#ffdf00"/><stop offset="0.875" stop-color="#fdff02"/><stop offset="1" stop-color="#e2ff1d"/></linearGradient>
<linearGradient id="p213" gradientUnits="userSpaceOnUse" x1="0" y1="477.6" x2="0" y2="604.7"><stop offset="0" stop-color="#ff7100"/><stop offset="0.75" stop-color="#ffdc00"/><stop offset="0.9" stop-color="#fffe00"/><stop offset="1" stop-color="#eaff15"/></linearGradient>
<linearGradient id="p214" gradientUnits="userSpaceOnUse" x1="0" y1="474.8" x2="0" y2="603.7"><stop offset="0" stop-color="#ff6500"/><stop offset="0.775" stop-color="#ffda00"/><stop offset="0.95" stop-color="#fdff02"/><stop offset="1" stop-color="#f3ff0c"/></linearGradient>
<linearGradient id="p215" gradientUnits="userSpaceOnUse" x1="0" y1="472.1" x2="0" y2="602.8"><stop offset="0" stop-color="#ff5900"/><stop offset="0.8" stop-color="#ffd800"/><stop offset="0.975" stop-color="#fffe00"/><stop offset="1" stop-color="#fcff03"/></linearGradient>
<linearGradient id="p216" gradientUnits="userSpaceOnUse" x1="0" y1="469.3" x2="0" y2="602.2"><stop offset="0" stop-color="#ff4c00"/><stop offset="0.8" stop-color="#ffd000"/><stop offset="1" stop-color="#fffa00"/></linearGradient>
<linearGradient id="p217" gradientUnits="userSpaceOnUse" x1="0" y1="466.5" x2="0" y2="602"><stop offset="0" stop-color="#ff3e00"/><stop offset="0.825" stop-color="#ffd100"/><stop offset="1" stop-color="#fff700"/></linearGradient>
<linearGradient id="p218" gradientUnits="userSpaceOnUse" x1="0" y1="463.8" x2="0" y2="602.2"><stop offset="0" stop-color="#ff2f00"/><stop offset="0.825" stop-color="#ffcd00"/><stop offset="1" stop-color="#fff500"/></linearGradient>
<linearGradient id="p219" gradientUnits="userSpaceOnUse" x1="0" y1="461" x2="0" y2="602.6"><stop offset="0" stop-color="#ff2000"/><stop offset="0.775" stop-color="#ffbd00"/><stop offset="1" stop-color="#fff300"/></linearGradient>
<linearGradient id="p220" gradientUnits="userSpaceOnUse" x1="0" y1="458.2" x2="0" y2="603.3"><stop offset="0" stop-color="#ff1200"/><stop offset="0.225" stop-color="#ff4000"/><stop offset="0.9" stop-color="#ffd600"/><stop offset="1" stop-color="#fff000"/></linearGradient>
<linearGradient id="p221" gradientUnits="userSpaceOnUse" x1="0" y1="455.5" x2="0" y2="604"><stop offset="0" stop-color="#ff0300"/><stop offset="0.2" stop-color="#ff2e00"/><stop offset="0.95" stop-color="#ffe000"/><stop offset="1" stop-color="#ffee00"/></linearGradient>
<linearGradient id="p222" gradientUnits="userSpaceOnUse" x1="0" y1="452.9" x2="0" y2="605.2"><stop offset="0" stop-color="#f30000"/><stop offset="0.075" stop-color="#ff0300"/><stop offset="0.975" stop-color="#ffe400"/><stop offset="1" stop-color="#ffeb00"/></linearGradient>
<linearGradient id="p223" gradientUnits="userSpaceOnUse" x1="0" y1="450.4" x2="0" y2="607.1"><stop offset="0" stop-color="#e50000"/><stop offset="0.125" stop-color="#ff0000"/><stop offset="0.4" stop-color="#ff4d00"/><stop offset="0.975" stop-color="#ffe100"/><stop offset="1" stop-color="#ffe900"/></linearGradient>
<linearGradient id="p224" gradientUnits="userSpaceOnUse" x1="0" y1="447.9" x2="0" y2="609.5"><stop offset="0" stop-color="#d60000"/><stop offset="0.175" stop-color="#ff0100"/><stop offset="0.375" stop-color="#ff3d00"/><stop offset="0.975" stop-color="#ffdf00"/><stop offset="1" stop-color="#ffe600"/></linearGradient>
<linearGradient id="p225" gradientUnits="userSpaceOnUse" x1="0" y1="445.4" x2="0" y2="612.1"><stop offset="0" stop-color="#cc0000"/><stop offset="0.175" stop-color="#f80000"/><stop offset="0.2" stop-color="#ff0100"/><stop offset="0.4" stop-color="#ff3f00"/><stop offset="0.95" stop-color="#ffda00"/><stop offset="1" stop-color="#ffea00"/></linearGradient>
<linearGradient id="p226" gradientUnits="userSpaceOnUse" x1="0" y1="443" x2="0" y2="614.8"><stop offset="0" stop-color="#c50000"/><stop offset="0.175" stop-color="#f30000"/><stop offset="0.225" stop-color="#ff0500"/><stop offset="0.475" stop-color="#ff5100"/><stop offset="0.925" stop-color="#ffd600"/><stop offset="1" stop-color="#fff200"/></linearGradient>
<linearGradient id="p227" gradientUnits="userSpaceOnUse" x1="0" y1="440.5" x2="0" y2="618"><stop offset="0" stop-color="#be0000"/><stop offset="0.175" stop-color="#ee0000"/><stop offset="0.225" stop-color="#ff0000"/><stop offset="0.5" stop-color="#ff5700"/><stop offset="0.9" stop-color="#ffd200"/><stop offset="1" stop-color="#fff900"/></linearGradient>
<linearGradient id="p228" gradientUnits="userSpaceOnUse" x1="0" y1="438.1" x2="0" y2="621.7"><stop offset="0" stop-color="#b60000"/><stop offset="0.2" stop-color="#f20000"/><stop offset="0.25" stop-color="#ff0500"/><stop offset="0.85" stop-color="#ffc500"/><stop offset="1" stop-color="#feff01"/></linearGradient>
<linearGradient id="p229" gradientUnits="userSpaceOnUse" x1="0" y1="435.8" x2="0" y2="625.9"><stop offset="0" stop-color="#af0000"/><stop offset="0.2" stop-color="#ed0000"/><stop offset="0.25" stop-color="#ff0000"/><stop offset="0.825" stop-color="#ffbf00"/><stop offset="0.975" stop-color="#fffc00"/><stop offset="1" stop-color="#f6ff09"/></linearGradient>
<linearGradient id="p230" gradientUnits="userSpaceOnUse" x1="0" y1="433.5" x2="0" y2="631.1"><stop offset="0" stop-color="#a70000"/><stop offset="0.225" stop-color="#f10000"/><stop offset="0.275" stop-color="#ff0600"/><stop offset="0.8" stop-color="#ffb800"/><stop offset="0.975" stop-color="#fcff03"/><stop offset="1" stop-color="#efff10"/></linearGradient>
<linearGradient id="p231" gradientUnits="userSpaceOnUse" x1="0" y1="431.3" x2="0" y2="637.8"><stop offset="0" stop-color="#a00000"/><stop offset="0.225" stop-color="#ed0000"/><stop offset="0.275" stop-color="#ff0100"/><stop offset="0.8" stop-color="#ffba00"/><stop offset="0.95" stop-color="#fffb00"/><stop offset="1" stop-color="#e8ff17"/></linearGradient>
<linearGradient id="p232" gradientUnits="userSpaceOnUse" x1="0" y1="429.1" x2="0" y2="646.2"><stop offset="0" stop-color="#990000"/><stop offset="0.25" stop-color="#f20000"/><stop offset="0.275" stop-color="#fc0000"/><stop offset="0.775" stop-color="#ffb100"/><stop offset="0.95" stop-color="#fdff02"/><stop offset="1" stop-color="#e0ff1f"/></linearGradient>
<linearGradient id="p233" gradientUnits="userSpaceOnUse" x1="0" y1="427" x2="0" y2="656.5"><stop offset="0" stop-color="#930000"/><stop offset="0.225" stop-color="#e40000"/><stop offset="0.3" stop-color="#ff0400"/><stop offset="0.775" stop-color="#ffb700"/><stop offset="0.925" stop-color="#fffd00"/><stop offset="1" stop-color="#d6ff29"/></linearGradient>
<linearGradient id="p234" gradientUnits="userSpaceOnUse" x1="0" y1="425" x2="0" y2="667.5"><stop offset="0" stop-color="#920000"/><stop offset="0.15" stop-color="#c30000"/><stop offset="0.3" stop-color="#ff0300"/><stop offset="0.675" stop-color="#ff9900"/><stop offset="0.875" stop-color="#fff600"/><stop offset="0.9" stop-color="#fcff03"/><stop offset="1" stop-color="#c7ff38"/></linearGradient>
<linearGradient id="p235" gradientUnits="userSpaceOnUse" x1="0" y1="423" x2="0" y2="676.8"><stop offset="0" stop-color="#900000"/><stop offset="0.1" stop-color="#ab0000"/><stop offset="0.3" stop-color="#ff0100"/><stop offset="0.625" stop-color="#ff8b00"/><stop offset="0.85" stop-color="#fffa00"/><stop offset="0.925" stop-color="#deff21"/><stop offset="1" stop-color="#b8ff47"/></linearGradient>
<linearGradient id="p236" gradientUnits="userSpaceOnUse" x1="0" y1="421" x2="0" y2="682"><stop offset="0" stop-color="#8f0000"/><stop offset="0.1" stop-color="#a70000"/><stop offset="0.3" stop-color="#ff0000"/><stop offset="0.6" stop-color="#ff8500"/><stop offset="0.825" stop-color="#fffe00"/><stop offset="1" stop-color="#a8ff57"/></linearGradient>
<linearGradient id="p237" gradientUnits="userSpaceOnUse" x1="0" y1="419.2" x2="0" y2="676"><stop offset="0" stop-color="#8c0000"/><stop offset="0.1" stop-color="#a20000"/><stop offset="0.325" stop-color="#ff0100"/><stop offset="0.6" stop-color="#ff7400"/><stop offset="0.875" stop-color="#ffff00"/><stop offset="1" stop-color="#c5ff3a"/></linearGradient>
<linearGradient id="p238" gradientUnits="userSpaceOnUse" x1="0" y1="417.4" x2="0" y2="665.6"><stop offset="0" stop-color="#890000"/><stop offset="0.125" stop-color="#a60000"/><stop offset="0.35" stop-color="#ff0200"/><stop offset="0.6" stop-color="#ff6400"/><stop offset="0.925" stop-color="#fffd00"/><stop offset="1" stop-color="#e1ff1e"/></linearGradient>
<linearGradient id="p239" gradientUnits="userSpaceOnUse" x1="0" y1="415.7" x2="0" y2="652.9"><stop offset="0" stop-color="#860000"/><stop offset="0.15" stop-color="#a70000"/><stop offset="0.375" stop-color="#ff0200"/><stop offset="0.575" stop-color="#ff4800"/><stop offset="0.95" stop-color="#ffec00"/><stop offset="1" stop-color="#feff01"/></linearGradient>
<linearGradient id="p240" gradientUnits="userSpaceOnUse" x1="0" y1="414.1" x2="0" y2="640"><stop offset="0" stop-color="#830000"/><stop offset="0.15" stop-color="#a00000"/><stop offset="0.4" stop-color="#ff0000"/><stop offset="0.55" stop-color="#ff2f00"/><stop offset="0.775" stop-color="#ff8900"/><stop offset="0.925" stop-color="#ffc800"/><stop offset="1" stop-color="#ffe300"/></linearGradient>
<linearGradient id="p241" gradientUnits="userSpaceOnUse" x1="0" y1="412.6" x2="0" y2="627.3"><stop offset="0" stop-color="#800000"/><stop offset="0.15" stop-color="#980000"/><stop offset="0.4" stop-color="#f30000"/><stop offset="0.45" stop-color="#ff0200"/><stop offset="0.6" stop-color="#ff3200"/><stop offset="0.775" stop-color="#ff7200"/><stop offset="0.9" stop-color="#ffa500"/><stop offset="1" stop-color="#ffc700"/></linearGradient>
<linearGradient id="p242" gradientUnits="userSpaceOnUse" x1="0" y1="411.3" x2="0" y2="615.7"><stop offset="0" stop-color="#800000"/><stop offset="0.175" stop-color="#9d0000"/><stop offset="0.425" stop-color="#f20000"/><stop offset="0.475" stop-color="#ff0000"/><stop offset="0.775" stop-color="#ff6600"/><stop offset="0.9" stop-color="#ff9500"/><stop offset="1" stop-color="#ffb600"/></linearGradient>
<linearGradient id="p243" gradientUnits="userSpaceOnUse" x1="0" y1="410.2" x2="0" y2="605.8"><stop offset="0" stop-color="#800000"/><stop offset="0.175" stop-color="#990000"/><stop offset="0.425" stop-color="#ea0000"/><stop offset="0.5" stop-color="#fd0000"/><stop offset="0.775" stop-color="#ff5900"/><stop offset="0.925" stop-color="#ff8d00"/><stop offset="1" stop-color="#ffa500"/></linearGradient>
<linearGradient id="p244" gradientUnits="userSpaceOnUse" x1="0" y1="409.1" x2="0" y2="596.8"><stop offset="0" stop-color="#800000"/><stop offset="0.175" stop-color="#950000"/><stop offset="0.45" stop-color="#e80000"/><stop offset="0.525" stop-color="#fc0000"/><stop offset="0.775" stop-color="#ff4d00"/><stop offset="1" stop-color="#ff9300"/></linearGradient>
<linearGradient id="p245" gradientUnits="userSpaceOnUse" x1="0" y1="408.2" x2="0" y2="588.1"><stop offset="0" stop-color="#800000"/><stop offset="0.175" stop-color="#910000"/><stop offset="0.475" stop-color="#e60000"/><stop offset="0.575" stop-color="#ff0300"/><stop offset="1" stop-color="#ff8200"/></linearGradient>
<linearGradient id="p246" gradientUnits="userSpaceOnUse" x1="0" y1="407.5" x2="0" y2="580"><stop offset="0" stop-color="#800000"/><stop offset="0.2" stop-color="#910000"/><stop offset="0.45" stop-color="#d80000"/><stop offset="0.6" stop-color="#ff0100"/><stop offset="1" stop-color="#ff7100"/></linearGradient>
<linearGradient id="p247" gradientUnits="userSpaceOnUse" x1="0" y1="406.9" x2="0" y2="572.5"><stop offset="0" stop-color="#800000"/><stop offset="0.2" stop-color="#8c0000"/><stop offset="0.625" stop-color="#fd0000"/><stop offset="1" stop-color="#ff6000"/></linearGradient>
<linearGradient id="p248" gradientUnits="userSpaceOnUse" x1="0" y1="406.3" x2="0" y2="565.5"><stop offset="0" stop-color="#800000"/><stop offset="0.2" stop-color="#870000"/><stop offset="0.675" stop-color="#ff0000"/><stop offset="1" stop-color="#ff4f00"/></linearGradient>
<linearGradient id="p249" gradientUnits="userSpaceOnUse" x1="0" y1="405.8" x2="0" y2="559.3"><stop offset="0" stop-color="#800000"/><stop offset="0.2" stop-color="#820000"/><stop offset="0.725" stop-color="#ff0200"/><stop offset="1" stop-color="#ff3e00"/></linearGradient>
<linearGradient id="p250" gradientUnits="userSpaceOnUse" x1="0" y1="405.5" x2="0" y2="553.5"><stop offset="0" stop-color="#800000"/><stop offset="0.2" stop-color="#800000"/><stop offset="0.75" stop-color="#ff0100"/><stop offset="1" stop-color="#ff3400"/></linearGradient>
<linearGradient id="p251" gradientUnits="userSpaceOnUse" x1="0" y1="405.3" x2="0" y2="547.7"><stop offset="0" stop-color="#800000"/><stop offset="0.2" stop-color="#800000"/><stop offset="0.75" stop-color="#fd0000"/><stop offset="1" stop-color="#ff2f00"/></linearGradient>
<linearGradient id="p252" gradientUnits="userSpaceOnUse" x1="0" y1="405.2" x2="0" y2="542.2"><stop offset="0" stop-color="#800000"/><stop offset="0.2" stop-color="#800000"/><stop offset="0.775" stop-color="#fe0000"/><stop offset="1" stop-color="#ff2900"/></linearGradient>
<linearGradient id="p253" gradientUnits="userSpaceOnUse" x1="0" y1="405.1" x2="0" y2="537.7"><stop offset="0" stop-color="#800000"/><stop offset="0.2" stop-color="#800000"/><stop offset="0.45" stop-color="#b20000"/><stop offset="0.8" stop-color="#ff0100"/><stop offset="1" stop-color="#ff2400"/></linearGradient>
<linearGradient id="p254" gradientUnits="userSpaceOnUse" x1="0" y1="405" x2="0" y2="533.8"><stop offset="0" stop-color="#800000"/><stop offset="0.225" stop-color="#830000"/><stop offset="0.525" stop-color="#c00000"/><stop offset="0.825" stop-color="#ff0200"/><stop offset="1" stop-color="#ff1e00"/></linearGradient>
<linearGradient id="p255" gradientUnits="userSpaceOnUse" x1="0" y1="405" x2="0" y2="530"><stop offset="0" stop-color="#800000"/><stop offset="0.225" stop-color="#820000"/><stop offset="0.425" stop-color="#a60000"/><stop offset="0.825" stop-color="#fd0000"/><stop offset="1" stop-color="#ff1900"/></linearGradient>
<linearGradient id="p256" gradientUnits="userSpaceOnUse" x1="0" y1="405.1" x2="0" y2="526.4"><stop offset="0" stop-color="#800000"/><stop offset="0.25" stop-color="#830000"/><stop offset="0.525" stop-color="#ba0000"/><stop offset="0.85" stop-color="#fe0000"/><stop offset="1" stop-color="#ff1300"/></linearGradient>
<linearGradient id="p257" gradientUnits="userSpaceOnUse" x1="0" y1="405.2" x2="0" y2="523.2"><stop offset="0" stop-color="#800000"/><stop offset="0.25" stop-color="#820000"/><stop offset="0.5" stop-color="#b10000"/><stop offset="0.8" stop-color="#f10000"/><stop offset="0.875" stop-color="#ff0000"/><stop offset="1" stop-color="#ff0d00"/></linearGradient>
<linearGradient id="p258" gradientUnits="userSpaceOnUse" x1="0" y1="405.4" x2="0" y2="520.3"><stop offset="0" stop-color="#800000"/><stop offset="0.275" stop-color="#830000"/><stop offset="0.525" stop-color="#b40000"/><stop offset="0.8" stop-color="#ed0000"/><stop offset="0.9" stop-color="#fe0000"/><stop offset="1" stop-color="#ff0800"/></linearGradient>
<linearGradient id="p259" gradientUnits="userSpaceOnUse" x1="0" y1="405.6" x2="0" y2="517.8"><stop offset="0" stop-color="#800000"/><stop offset="0.275" stop-color="#830000"/><stop offset="0.525" stop-color="#b30000"/><stop offset="0.8" stop-color="#eb0000"/><stop offset="0.925" stop-color="#fd0000"/><stop offset="1" stop-color="#ff0500"/></linearGradient>
<linearGradient id="p260" gradientUnits="userSpaceOnUse" x1="0" y1="406.2" x2="0" y2="515.5"><stop offset="0" stop-color="#810000"/><stop offset="0.275" stop-color="#860000"/><stop offset="0.525" stop-color="#b40000"/><stop offset="0.85" stop-color="#f30000"/><stop offset="0.975" stop-color="#ff0200"/><stop offset="1" stop-color="#ff0400"/></linearGradient>
<linearGradient id="p261" gradientUnits="userSpaceOnUse" x1="0" y1="406.9" x2="0" y2="513.4"><stop offset="0" stop-color="#830000"/><stop offset="0.275" stop-color="#890000"/><stop offset="0.55" stop-color="#ba0000"/><stop offset="0.875" stop-color="#f60000"/><stop offset="1" stop-color="#ff0400"/></linearGradient>
<linearGradient id="p262" gradientUnits="userSpaceOnUse" x1="0" y1="407.6" x2="0" y2="511.6"><stop offset="0" stop-color="#840000"/><stop offset="0.275" stop-color="#8c0000"/><stop offset="0.55" stop-color="#bb0000"/><stop offset="0.9" stop-color="#f80000"/><stop offset="1" stop-color="#ff0300"/></linearGradient>
<linearGradient id="p263" gradientUnits="userSpaceOnUse" x1="0" y1="408.2" x2="0" y2="510"><stop offset="0" stop-color="#850000"/><stop offset="0.275" stop-color="#900000"/><stop offset="0.55" stop-color="#bc0000"/><stop offset="0.9" stop-color="#f60000"/><stop offset="1" stop-color="#ff0200"/></linearGradient>
<linearGradient id="p264" gradientUnits="userSpaceOnUse" x1="0" y1="408.7" x2="0" y2="508.6"><stop offset="0" stop-color="#860000"/><stop offset="0.275" stop-color="#930000"/><stop offset="0.575" stop-color="#c10000"/><stop offset="0.925" stop-color="#f80000"/><stop offset="1" stop-color="#ff0200"/></linearGradient>
<linearGradient id="p265" gradientUnits="userSpaceOnUse" x1="0" y1="409.1" x2="0" y2="507.4"><stop offset="0" stop-color="#870000"/><stop offset="0.275" stop-color="#960000"/><stop offset="0.975" stop-color="#fd0000"/><stop offset="1" stop-color="#ff0100"/></linearGradient>
<linearGradient id="p266" gradientUnits="userSpaceOnUse" x1="0" y1="409.6" x2="0" y2="506.3"><stop offset="0" stop-color="#890000"/><stop offset="0.25" stop-color="#960000"/><stop offset="0.575" stop-color="#c20000"/><stop offset="1" stop-color="#ff0100"/></linearGradient>
<linearGradient id="p267" gradientUnits="userSpaceOnUse" x1="0" y1="410.1" x2="0" y2="505.3"><stop offset="0" stop-color="#8a0000"/><stop offset="0.25" stop-color="#990000"/><stop offset="0.6" stop-color="#c70000"/><stop offset="1" stop-color="#ff0000"/></linearGradient>
<linearGradient id="p268" gradientUnits="userSpaceOnUse" x1="0" y1="410.7" x2="0" y2="504.4"><stop offset="0" stop-color="#8c0000"/><stop offset="0.275" stop-color="#9e0000"/><stop offset="0.625" stop-color="#cc0000"/><stop offset="1" stop-color="#ff0000"/></linearGradient>
<linearGradient id="p269" gradientUnits="userSpaceOnUse" x1="0" y1="411.3" x2="0" y2="503.5"><stop offset="0" stop-color="#8d0000"/><stop offset="0.275" stop-color="#a10000"/><stop offset="1" stop-color="#ff0000"/></linearGradient>
<linearGradient id="p270" gradientUnits="userSpaceOnUse" x1="0" y1="411.9" x2="0" y2="502.7"><stop offset="0" stop-color="#8f0000"/><stop offset="0.275" stop-color="#a30000"/><stop offset="1" stop-color="#ff0000"/></linearGradient>
<linearGradient id="p271" gradientUnits="userSpaceOnUse" x1="0" y1="412.5" x2="0" y2="502"><stop offset="0" stop-color="#910000"/><stop offset="0.3" stop-color="#a90000"/><stop offset="1" stop-color="#ff0000"/></linearGradient>
<linearGradient id="p272" gradientUnits="userSpaceOnUse" x1="0" y1="413.1" x2="0" y2="501.4"><stop offset="0" stop-color="#920000"/><stop offset="0.325" stop-color="#ae0000"/><stop offset="1" stop-color="#ff0000"/></linearGradient>
<linearGradient id="p273" gradientUnits="userSpaceOnUse" x1="0" y1="413.7" x2="0" y2="500.7"><stop offset="0" stop-color="#940000"/><stop offset="0.375" stop-color="#b60000"/><stop offset="1" stop-color="#ff0000"/></linearGradient>
<linearGradient id="p274" gradientUnits="userSpaceOnUse" x1="0" y1="414.3" x2="0" y2="500.2"><stop offset="0" stop-color="#950000"/><stop offset="0.425" stop-color="#bd0000"/><stop offset="1" stop-color="#ff0000"/></linearGradient>
<linearGradient id="p275" gradientUnits="userSpaceOnUse" x1="0" y1="414.9" x2="0" y2="500"><stop offset="0" stop-color="#970000"/><stop offset="0.5" stop-color="#c80000"/><stop offset="1" stop-color="#ff0000"/></linearGradient>
<linearGradient id="p276" gradientUnits="userSpaceOnUse" x1="0" y1="415.5" x2="0" y2="500"><stop offset="0" stop-color="#990000"/><stop offset="1" stop-color="#ff0000"/></linearGradient>
<linearGradient id="p277" gradientUnits="userSpaceOnUse" x1="0" y1="416.1" x2="0" y2="500"><stop offset="0" stop-color="#9a0000"/><stop offset="1" stop-color="#ff0000"/></linearGradient>
<linearGradient id="p278" gradientUnits="userSpaceOnUse" x1="0" y1="416.8" x2="0" y2="500"><stop offset="0" stop-color="#9c0000"/><stop offset="1" stop-color="#ff0000"/></linearGradient>
<linearGradient id="p279" gradientUnits="userSpaceOnUse" x1="0" y1="417.3" x2="0" y2="500"><stop offset="0" stop-color="#9e0000"/><stop offset="1" stop-color="#ff0000"/></linearGradient>
<linearGradient id="p280" gradientUnits="userSpaceOnUse" x1="0" y1="417.8" x2="0" y2="500"><stop offset="0" stop-color="#a10000"/><stop offset="0.975" stop-color="#ff0000"/><stop offset="1" stop-color="#ff0200"/></linearGradient>
<linearGradient id="p281" gradientUnits="userSpaceOnUse" x1="0" y1="418.3" x2="0" y2="500.2"><stop offset="0" stop-color="#a60000"/><stop offset="0.975" stop-color="#ff0300"/><stop offset="1" stop-color="#ff0500"/></linearGradient>
<linearGradient id="p282" gradientUnits="userSpaceOnUse" x1="0" y1="418.8" x2="0" y2="500.5"><stop offset="0" stop-color="#ab0000"/><stop offset="0.925" stop-color="#ff0100"/><stop offset="1" stop-color="#ff0800"/></linearGradient>
<linearGradient id="p283" gradientUnits="userSpaceOnUse" x1="0" y1="419.1" x2="0" y2="500.8"><stop offset="0" stop-color="#b00000"/><stop offset="0.9" stop-color="#ff0200"/><stop offset="1" stop-color="#ff0b00"/></linearGradient>
<linearGradient id="p284" gradientUnits="userSpaceOnUse" x1="0" y1="419.4" x2="0" y2="501.2"><stop offset="0" stop-color="#b50000"/><stop offset="0.875" stop-color="#ff0300"/><stop offset="1" stop-color="#ff0e00"/></linearGradient>
<linearGradient id="p285" gradientUnits="userSpaceOnUse" x1="0" y1="419.6" x2="0" y2="501.5"><stop offset="0" stop-color="#ba0000"/><stop offset="0.825" stop-color="#ff0100"/><stop offset="1" stop-color="#ff1100"/></linearGradient>
<linearGradient id="p286" gradientUnits="userSpaceOnUse" x1="0" y1="419.8" x2="0" y2="501.9"><stop offset="0" stop-color="#bf0000"/><stop offset="0.8" stop-color="#ff0200"/><stop offset="1" stop-color="#ff1400"/></linearGradient>
<linearGradient id="p287" gradientUnits="userSpaceOnUse" x1="0" y1="420" x2="0" y2="502.3"><stop offset="0" stop-color="#c40000"/><stop offset="0.775" stop-color="#ff0200"/><stop offset="1" stop-color="#ff1700"/></linearGradient>
<linearGradient id="p288" gradientUnits="userSpaceOnUse" x1="0" y1="420" x2="0" y2="502.6"><stop offset="0" stop-color="#c80000"/><stop offset="0.75" stop-color="#ff0300"/><stop offset="1" stop-color="#ff1b00"/></linearGradient>
<linearGradient id="p289" gradientUnits="userSpaceOnUse" x1="0" y1="419.9" x2="0" y2="502.9"><stop offset="0" stop-color="#ca0000"/><stop offset="0.725" stop-color="#ff0300"/><stop offset="1" stop-color="#ff1f00"/></linearGradient>
<linearGradient id="p290" gradientUnits="userSpaceOnUse" x1="0" y1="419.8" x2="0" y2="503.2"><stop offset="0" stop-color="#cd0000"/><stop offset="0.7" stop-color="#ff0300"/><stop offset="1" stop-color="#ff2300"/></linearGradient>
<linearGradient id="p291" gradientUnits="userSpaceOnUse" x1="0" y1="419.6" x2="0" y2="503.4"><stop offset="0" stop-color="#cf0000"/><stop offset="0.675" stop-color="#ff0300"/><stop offset="1" stop-color="#ff2700"/></linearGradient>
<linearGradient id="p292" gradientUnits="userSpaceOnUse" x1="0" y1="419.4" x2="0" y2="503.5"><stop offset="0" stop-color="#d20000"/><stop offset="0.65" stop-color="#ff0300"/><stop offset="1" stop-color="#ff2b00"/></linearGradient>
<linearGradient id="p293" gradientUnits="userSpaceOnUse" x1="0" y1="419.1" x2="0" y2="503.5"><stop offset="0" stop-color="#d40000"/><stop offset="0.625" stop-color="#ff0300"/><stop offset="1" stop-color="#ff2f00"/></linearGradient>
<linearGradient id="p294" gradientUnits="userSpaceOnUse" x1="0" y1="418.8" x2="0" y2="503.5"><stop offset="0" stop-color="#d60000"/><stop offset="0.6" stop-color="#ff0300"/><stop offset="1" stop-color="#ff3300"/></linearGradient>
<linearGradient id="p295" gradientUnits="userSpaceOnUse" x1="0" y1="418.2" x2="0" y2="503.5"><stop offset="0" stop-color="#d90000"/><stop offset="0.575" stop-color="#ff0200"/><stop offset="1" stop-color="#ff3700"/></linearGradient>
<linearGradient id="p296" gradientUnits="userSpaceOnUse" x1="0" y1="417.4" x2="0" y2="503.5"><stop offset="0" stop-color="#db0000"/><stop offset="0.55" stop-color="#ff0200"/><stop offset="1" stop-color="#ff3c00"/></linearGradient>
<linearGradient id="p297" gradientUnits="userSpaceOnUse" x1="0" y1="416.5" x2="0" y2="503.4"><stop offset="0" stop-color="#de0000"/><stop offset="0.525" stop-color="#ff0100"/><stop offset="0.975" stop-color="#ff3c00"/><stop offset="1" stop-color="#ff4000"/></linearGradient>
<linearGradient id="p298" gradientUnits="userSpaceOnUse" x1="0" y1="415.7" x2="0" y2="503.2"><stop offset="0" stop-color="#e00000"/><stop offset="0.525" stop-color="#ff0300"/><stop offset="0.95" stop-color="#ff3c00"/><stop offset="1" stop-color="#ff4400"/></linearGradient>
<linearGradient id="p299" gradientUnits="userSpaceOnUse" x1="0" y1="414.9" x2="0" y2="502.9"><stop offset="0" stop-color="#e30000"/><stop offset="0.5" stop-color="#ff0200"/><stop offset="0.9" stop-color="#ff3800"/><stop offset="1" stop-color="#ff4800"/></linearGradient>
<linearGradient id="p300" gradientUnits="userSpaceOnUse" x1="0" y1="414.1" x2="0" y2="502.6"><stop offset="0" stop-color="#e50000"/><stop offset="0.475" stop-color="#ff0100"/><stop offset="0.875" stop-color="#ff3800"/><stop offset="1" stop-color="#ff4c00"/></linearGradient>
<linearGradient id="p301" gradientUnits="userSpaceOnUse" x1="0" y1="413.3" x2="0" y2="502.2"><stop offset="0" stop-color="#e70000"/><stop offset="0.475" stop-color="#ff0300"/><stop offset="0.875" stop-color="#ff3900"/><stop offset="1" stop-color="#ff4e00"/></linearGradient>
<linearGradient id="p302" gradientUnits="userSpaceOnUse" x1="0" y1="412.6" x2="0" y2="501.6"><stop offset="0" stop-color="#e90000"/><stop offset="0.45" stop-color="#ff0300"/><stop offset="0.85" stop-color="#ff3600"/><stop offset="1" stop-color="#ff4f00"/></linearGradient>
<linearGradient id="p303" gradientUnits="userSpaceOnUse" x1="0" y1="412" x2="0" y2="501"><stop offset="0" stop-color="#eb0000"/><stop offset="0.4" stop-color="#ff0300"/><stop offset="0.725" stop-color="#ff2500"/><stop offset="1" stop-color="#ff5100"/></linearGradient>
<linearGradient id="p304" gradientUnits="userSpaceOnUse" x1="0" y1="411.4" x2="0" y2="500.2"><stop offset="0" stop-color="#ed0000"/><stop offset="0.375" stop-color="#ff0300"/><stop offset="0.625" stop-color="#ff1b00"/><stop offset="0.95" stop-color="#ff4a00"/><stop offset="1" stop-color="#ff5300"/></linearGradient>
<linearGradient id="p305" gradientUnits="userSpaceOnUse" x1="0" y1="410.8" x2="0" y2="499.5"><stop offset="0" stop-color="#ef0000"/><stop offset="0.325" stop-color="#ff0300"/><stop offset="0.6" stop-color="#ff1a00"/><stop offset="0.925" stop-color="#ff4700"/><stop offset="1" stop-color="#ff5400"/></linearGradient>
<linearGradient id="p306" gradientUnits="userSpaceOnUse" x1="0" y1="410.3" x2="0" y2="498.5"><stop offset="0" stop-color="#f10000"/><stop offset="0.3" stop-color="#ff0300"/><stop offset="0.6" stop-color="#ff1c00"/><stop offset="0.9" stop-color="#ff4400"/><stop offset="1" stop-color="#ff5600"/></linearGradient>
<linearGradient id="p307" gradientUnits="userSpaceOnUse" x1="0" y1="409.8" x2="0" y2="497.5"><stop offset="0" stop-color="#f30000"/><stop offset="0.275" stop-color="#ff0400"/><stop offset="0.6" stop-color="#ff1d00"/><stop offset="0.9" stop-color="#ff4500"/><stop offset="1" stop-color="#ff5800"/></linearGradient>
<linearGradient id="p308" gradientUnits="userSpaceOnUse" x1="0" y1="409.3" x2="0" y2="496.5"><stop offset="0" stop-color="#f50000"/><stop offset="0.25" stop-color="#ff0400"/><stop offset="0.6" stop-color="#ff1f00"/><stop offset="0.9" stop-color="#ff4600"/><stop offset="1" stop-color="#ff5900"/></linearGradient>
<linearGradient id="p309" gradientUnits="userSpaceOnUse" x1="0" y1="408.7" x2="0" y2="495.6"><stop offset="0" stop-color="#f80000"/><stop offset="0.225" stop-color="#ff0500"/><stop offset="0.625" stop-color="#ff2400"/><stop offset="0.9" stop-color="#ff4700"/><stop offset="1" stop-color="#ff5b00"/></linearGradient>
<linearGradient id="p310" gradientUnits="userSpaceOnUse" x1="0" y1="408.2" x2="0" y2="494.8"><stop offset="0" stop-color="#fa0000"/><stop offset="0.225" stop-color="#ff0700"/><stop offset="0.625" stop-color="#ff2500"/><stop offset="0.875" stop-color="#ff4300"/><stop offset="1" stop-color="#ff5d00"/></linearGradient>
<linearGradient id="p311" gradientUnits="userSpaceOnUse" x1="0" y1="407.6" x2="0" y2="494"><stop offset="0" stop-color="#fc0000"/><stop offset="0.375" stop-color="#ff1300"/><stop offset="0.725" stop-color="#ff3200"/><stop offset="0.9" stop-color="#ff4a00"/><stop offset="1" stop-color="#ff5e00"/></linearGradient>
<linearGradient id="p312" gradientUnits="userSpaceOnUse" x1="0" y1="407" x2="0" y2="493.1"><stop offset="0" stop-color="#fe0000"/><stop offset="0.55" stop-color="#ff2100"/><stop offset="0.875" stop-color="#ff4600"/><stop offset="1" stop-color="#ff6000"/></linearGradient>
<linearGradient id="p313" gradientUnits="userSpaceOnUse" x1="0" y1="406.5" x2="0" y2="492.2"><stop offset="0" stop-color="#ff0000"/><stop offset="0.6" stop-color="#ff2800"/><stop offset="0.875" stop-color="#ff4700"/><stop offset="1" stop-color="#ff6100"/></linearGradient>
<linearGradient id="p314" gradientUnits="userSpaceOnUse" x1="0" y1="406" x2="0" y2="491.1"><stop offset="0" stop-color="#ff0200"/><stop offset="0.6" stop-color="#ff2900"/><stop offset="0.875" stop-color="#ff4800"/><stop offset="1" stop-color="#ff6100"/></linearGradient>
<linearGradient id="p315" gradientUnits="userSpaceOnUse" x1="0" y1="405.7" x2="0" y2="489.9"><stop offset="0" stop-color="#ff0300"/><stop offset="0.6" stop-color="#ff2a00"/><stop offset="0.875" stop-color="#ff4900"/><stop offset="1" stop-color="#ff6100"/></linearGradient>
<linearGradient id="p316" gradientUnits="userSpaceOnUse" x1="0" y1="405.5" x2="0" y2="488.6"><stop offset="0" stop-color="#ff0400"/><stop offset="0.6" stop-color="#ff2c00"/><stop offset="0.9" stop-color="#ff4e00"/><stop offset="1" stop-color="#ff6100"/></linearGradient>
<linearGradient id="p317" gradientUnits="userSpaceOnUse" x1="0" y1="405.4" x2="0" y2="487.3"><stop offset="0" stop-color="#ff0500"/><stop offset="0.6" stop-color="#ff2d00"/><stop offset="0.9" stop-color="#ff4f00"/><stop offset="1" stop-color="#ff6100"/></linearGradient>
<linearGradient id="p318" gradientUnits="userSpaceOnUse" x1="0" y1="405.3" x2="0" y2="485.8"><stop offset="0" stop-color="#ff0700"/><stop offset="0.575" stop-color="#ff2c00"/><stop offset="0.9" stop-color="#ff5000"/><stop offset="1" stop-color="#ff6100"/></linearGradient>
<linearGradient id="p319" gradientUnits="userSpaceOnUse" x1="0" y1="405.2" x2="0" y2="484.2"><stop offset="0" stop-color="#ff0800"/><stop offset="0.575" stop-color="#ff2d00"/><stop offset="0.9" stop-color="#ff5100"/><stop offset="1" stop-color="#ff6100"/></linearGradient>
<linearGradient id="p320" gradientUnits="userSpaceOnUse" x1="0" y1="405.2" x2="0" y2="482.6"><stop offset="0" stop-color="#ff0900"/><stop offset="0.575" stop-color="#ff2f00"/><stop offset="0.925" stop-color="#ff5600"/><stop offset="1" stop-color="#ff6100"/></linearGradient>
<linearGradient id="p321" gradientUnits="userSpaceOnUse" x1="0" y1="405.1" x2="0" y2="481"><stop offset="0" stop-color="#ff0a00"/><stop offset="0.55" stop-color="#ff2e00"/><stop offset="0.925" stop-color="#ff5600"/><stop offset="1" stop-color="#ff6100"/></linearGradient>
<linearGradient id="p322" gradientUnits="userSpaceOnUse" x1="0" y1="405.1" x2="0" y2="479.5"><stop offset="0" stop-color="#ff0b00"/><stop offset="0.55" stop-color="#ff2f00"/><stop offset="0.95" stop-color="#ff5a00"/><stop offset="1" stop-color="#ff6100"/></linearGradient>
<linearGradient id="p323" gradientUnits="userSpaceOnUse" x1="0" y1="405" x2="0" y2="477.9"><stop offset="0" stop-color="#ff0d00"/><stop offset="0.525" stop-color="#ff2f00"/><stop offset="0.95" stop-color="#ff5b00"/><stop offset="1" stop-color="#ff6100"/></linearGradient>
<linearGradient id="p324" gradientUnits="userSpaceOnUse" x1="0" y1="405" x2="0" y2="476.4"><stop offset="0" stop-color="#ff0e00"/><stop offset="0.525" stop-color="#ff3000"/><stop offset="0.975" stop-color="#ff5e00"/><stop offset="1" stop-color="#ff6100"/></linearGradient>
<linearGradient id="p325" gradientUnits="userSpaceOnUse" x1="0" y1="405" x2="0" y2="474.8"><stop offset="0" stop-color="#ff0f00"/><stop offset="0.5" stop-color="#ff2f00"/><stop offset="1" stop-color="#ff6100"/></linearGradient>
<linearGradient id="p326" gradientUnits="userSpaceOnUse" x1="0" y1="405" x2="0" y2="473.1"><stop offset="0" stop-color="#ff1100"/><stop offset="0.525" stop-color="#ff3300"/><stop offset="1" stop-color="#ff6200"/></linearGradient>
<linearGradient id="p327" gradientUnits="userSpaceOnUse" x1="0" y1="405.1" x2="0" y2="471.3"><stop offset="0" stop-color="#ff1200"/><stop offset="0.55" stop-color="#ff3700"/><stop offset="1" stop-color="#ff6200"/></linearGradient>
<linearGradient id="p328" gradientUnits="userSpaceOnUse" x1="0" y1="405.2" x2="0" y2="469.4"><stop offset="0" stop-color="#ff1400"/><stop offset="0.575" stop-color="#ff3b00"/><stop offset="1" stop-color="#ff6300"/></linearGradient>
<linearGradient id="p329" gradientUnits="userSpaceOnUse" x1="0" y1="405.4" x2="0" y2="467.6"><stop offset="0" stop-color="#ff1500"/><stop offset="0.6" stop-color="#ff3e00"/><stop offset="1" stop-color="#ff6400"/></linearGradient>
<linearGradient id="p330" gradientUnits="userSpaceOnUse" x1="0" y1="405.6" x2="0" y2="465.8"><stop offset="0" stop-color="#ff1700"/><stop offset="0.625" stop-color="#ff4200"/><stop offset="1" stop-color="#ff6500"/></linearGradient>
<linearGradient id="p331" gradientUnits="userSpaceOnUse" x1="0" y1="405.8" x2="0" y2="464"><stop offset="0" stop-color="#ff1900"/><stop offset="0.65" stop-color="#ff4500"/><stop offset="1" stop-color="#ff6600"/></linearGradient>
<linearGradient id="p332" gradientUnits="userSpaceOnUse" x1="0" y1="406.1" x2="0" y2="462.2"><stop offset="0" stop-color="#ff1a00"/><stop offset="0.7" stop-color="#ff4b00"/><stop offset="1" stop-color="#ff6600"/></linearGradient>
<linearGradient id="p333" gradientUnits="userSpaceOnUse" x1="0" y1="406.3" x2="0" y2="460.4"><stop offset="0" stop-color="#ff1c00"/><stop offset="0.725" stop-color="#ff4f00"/><stop offset="1" stop-color="#ff6700"/></linearGradient>
<linearGradient id="p334" gradientUnits="userSpaceOnUse" x1="0" y1="406.7" x2="0" y2="458.6"><stop offset="0" stop-color="#ff1e00"/><stop offset="0.775" stop-color="#ff5400"/><stop offset="1" stop-color="#ff6800"/></linearGradient>
<linearGradient id="p335" gradientUnits="userSpaceOnUse" x1="0" y1="407.3" x2="0" y2="456.9"><stop offset="0" stop-color="#ff1f00"/><stop offset="0.8" stop-color="#ff5800"/><stop offset="1" stop-color="#ff6900"/></linearGradient>
<linearGradient id="p336" gradientUnits="userSpaceOnUse" x1="0" y1="408.2" x2="0" y2="455.2"><stop offset="0" stop-color="#ff2100"/><stop offset="0.85" stop-color="#ff5d00"/><stop offset="1" stop-color="#ff6a00"/></linearGradient>
<linearGradient id="p337" gradientUnits="userSpaceOnUse" x1="0" y1="409.2" x2="0" y2="453.5"><stop offset="0" stop-color="#ff2200"/><stop offset="0.9" stop-color="#ff6300"/><stop offset="1" stop-color="#ff6a00"/></linearGradient>
<linearGradient id="p338" gradientUnits="userSpaceOnUse" x1="0" y1="410.2" x2="0" y2="452"><stop offset="0" stop-color="#ff2400"/><stop offset="0.95" stop-color="#ff6800"/><stop offset="1" stop-color="#ff6b00"/></linearGradient>
<linearGradient id="p339" gradientUnits="userSpaceOnUse" x1="0" y1="411.2" x2="0" y2="450.5"><stop offset="0" stop-color="#ff2800"/><stop offset="0.775" stop-color="#ff5c00"/><stop offset="1" stop-color="#ff6d00"/></linearGradient>
<linearGradient id="p340" gradientUnits="userSpaceOnUse" x1="0" y1="412.3" x2="0" y2="449.1"><stop offset="0" stop-color="#ff2c00"/><stop offset="0.675" stop-color="#ff5600"/><stop offset="1" stop-color="#ff6f00"/></linearGradient>
<linearGradient id="p341" gradientUnits="userSpaceOnUse" x1="0" y1="413.5" x2="0" y2="447.8"><stop offset="0" stop-color="#ff3000"/><stop offset="0.625" stop-color="#ff5500"/><stop offset="1" stop-color="#ff7100"/></linearGradient>
<linearGradient id="p342" gradientUnits="userSpaceOnUse" x1="0" y1="414.7" x2="0" y2="446.9"><stop offset="0" stop-color="#ff3400"/><stop offset="0.6" stop-color="#ff5500"/><stop offset="1" stop-color="#ff7300"/></linearGradient>
<linearGradient id="p343" gradientUnits="userSpaceOnUse" x1="0" y1="416" x2="0" y2="446"><stop offset="0" stop-color="#ff3800"/><stop offset="0.575" stop-color="#ff5500"/><stop offset="1" stop-color="#ff7500"/></linearGradient>
<linearGradient id="p344" gradientUnits="userSpaceOnUse" x1="0" y1="417.3" x2="0" y2="445.3"><stop offset="0" stop-color="#ff3c00"/><stop offset="0.6" stop-color="#ff5c00"/><stop offset="1" stop-color="#ff7b00"/></linearGradient>
<linearGradient id="p345" gradientUnits="userSpaceOnUse" x1="0" y1="418.7" x2="0" y2="444.7"><stop offset="0" stop-color="#ff4000"/><stop offset="0.6" stop-color="#ff6100"/><stop offset="1" stop-color="#ff8100"/></linearGradient>
<linearGradient id="p346" gradientUnits="userSpaceOnUse" x1="0" y1="420.2" x2="0" y2="444.5"><stop offset="0" stop-color="#ff4400"/><stop offset="0.625" stop-color="#ff6800"/><stop offset="1" stop-color="#ff8700"/></linearGradient>
<linearGradient id="p347" gradientUnits="userSpaceOnUse" x1="0" y1="421.8" x2="0" y2="444.6"><stop offset="0" stop-color="#ff4700"/><stop offset="0.65" stop-color="#ff6f00"/><stop offset="1" stop-color="#ff8c00"/></linearGradient>
<linearGradient id="p348" gradientUnits="userSpaceOnUse" x1="0" y1="423.4" x2="0" y2="444.9"><stop offset="0" stop-color="#ff4b00"/><stop offset="0.65" stop-color="#ff7400"/><stop offset="1" stop-color="#ff9200"/></linearGradient>
<linearGradient id="p349" gradientUnits="userSpaceOnUse" x1="0" y1="425.2" x2="0" y2="445.3"><stop offset="0" stop-color="#ff4f00"/><stop offset="0.7" stop-color="#ff8000"/><stop offset="1" stop-color="#ff9900"/></linearGradient>
<linearGradient id="p350" gradientUnits="userSpaceOnUse" x1="0" y1="427" x2="0" y2="445.9"><stop offset="0" stop-color="#ff5300"/><stop offset="0.9" stop-color="#ff9900"/><stop offset="1" stop-color="#ffa100"/></linearGradient>
<linearGradient id="p351" gradientUnits="userSpaceOnUse" x1="0" y1="428.9" x2="0" y2="447"><stop offset="0" stop-color="#ff5700"/><stop offset="1" stop-color="#ffa900"/></linearGradient>
<linearGradient id="p352" gradientUnits="userSpaceOnUse" x1="0" y1="431" x2="0" y2="448.4"><stop offset="0" stop-color="#ff5b00"/><stop offset="1" stop-color="#ffb100"/></linearGradient>
<linearGradient id="p353" gradientUnits="userSpaceOnUse" x1="0" y1="433.3" x2="0" y2="450.1"><stop offset="0" stop-color="#ff5f00"/><stop offset="1" stop-color="#ffb900"/></linearGradient>
<linearGradient id="p354" gradientUnits="userSpaceOnUse" x1="0" y1="435.8" x2="0" y2="452"><stop offset="0" stop-color="#ff6400"/><stop offset="0.85" stop-color="#ffb300"/><stop offset="1" stop-color="#ffbf00"/></linearGradient>
<linearGradient id="p355" gradientUnits="userSpaceOnUse" x1="0" y1="438.6" x2="0" y2="454.4"><stop offset="0" stop-color="#ff6a00"/><stop offset="0.825" stop-color="#ffb600"/><stop offset="1" stop-color="#ffc400"/></linearGradient>
<linearGradient id="p356" gradientUnits="userSpaceOnUse" x1="0" y1="441.7" x2="0" y2="457.2"><stop offset="0" stop-color="#ff7000"/><stop offset="0.8" stop-color="#ffb900"/><stop offset="1" stop-color="#ffc900"/></linearGradient>
<linearGradient id="p357" gradientUnits="userSpaceOnUse" x1="0" y1="445" x2="0" y2="460.4"><stop offset="0" stop-color="#ff7600"/><stop offset="0.775" stop-color="#ffbc00"/><stop offset="1" stop-color="#ffce00"/></linearGradient>
<linearGradient id="p358" gradientUnits="userSpaceOnUse" x1="0" y1="448.6" x2="0" y2="463.7"><stop offset="0" stop-color="#ff7c00"/><stop offset="0.775" stop-color="#ffc100"/><stop offset="1" stop-color="#ffd300"/></linearGradient>
<linearGradient id="p359" gradientUnits="userSpaceOnUse" x1="0" y1="452.3" x2="0" y2="467.2"><stop offset="0" stop-color="#ff8100"/><stop offset="0.775" stop-color="#ffc600"/><stop offset="1" stop-color="#ffd800"/></linearGradient>
<linearGradient id="p360" gradientUnits="userSpaceOnUse" x1="0" y1="456.3" x2="0" y2="471"><stop offset="0" stop-color="#ff8700"/><stop offset="0.9" stop-color="#ffd400"/><stop offset="1" stop-color="#ffdb00"/></linearGradient>
<linearGradient id="p361" gradientUnits="userSpaceOnUse" x1="0" y1="460.7" x2="0" y2="475.1"><stop offset="0" stop-color="#ff8d00"/><stop offset="1" stop-color="#ffdf00"/></linearGradient>
<linearGradient id="p362" gradientUnits="userSpaceOnUse" x1="0" y1="465.3" x2="0" y2="479.4"><stop offset="0" stop-color="#ff9300"/><stop offset="1" stop-color="#ffe300"/></linearGradient>
<linearGradient id="p363" gradientUnits="userSpaceOnUse" x1="0" y1="470" x2="0" y2="483.6"><stop offset="0" stop-color="#ff9900"/><stop offset="1" stop-color="#ffe700"/></linearGradient>
<linearGradient id="p364" gradientUnits="userSpaceOnUse" x1="0" y1="474.8" x2="0" y2="487.7"><stop offset="0" stop-color="#ffa000"/><stop offset="1" stop-color="#ffeb00"/></linearGradient>
<linearGradient id="p365" gradientUnits="userSpaceOnUse" x1="0" y1="479.6" x2="0" y2="491.6"><stop offset="0" stop-color="#ffaa00"/><stop offset="1" stop-color="#ffef00"/></linearGradient>
<linearGradient id="p366" gradientUnits="userSpaceOnUse" x1="0" y1="484.6" x2="0" y2="495.6"><stop offset="0" stop-color="#ffb300"/><stop offset="1" stop-color="#fff300"/></linearGradient>
<linearGradient id="p367" gradientUnits="userSpaceOnUse" x1="0" y1="489.8" x2="0" y2="499.4"><stop offset="0" stop-color="#ffbd00"/><stop offset="1" stop-color="#fff600"/></linearGradient>
<linearGradient id="p368" gradientUnits="userSpaceOnUse" x1="0" y1="495" x2="0" y2="503"><stop offset="0" stop-color="#ffc700"/><stop offset="1" stop-color="#fffa00"/></linearGradient>
<linearGradient id="p369" gradientUnits="userSpaceOnUse" x1="0" y1="500.4" x2="0" y2="506.4"><stop offset="0" stop-color="#ffda00"/><stop offset="1" stop-color="#ffff00"/></linearGradient>
<linearGradient id="p370" gradientUnits="userSpaceOnUse" x1="0" y1="506" x2="0" y2="509.5"><stop offset="0" stop-color="#ffed00"/><stop offset="0.95" stop-color="#fcff03"/><stop offset="1" stop-color="#fbff04"/></linearGradient>
</defs>
<rect width="2082" height="1215" fill="#fff"/>
<g filter="url(#b1)" stroke="#666" stroke-width="4.3" fill="none"><line x1="257.5" y1="781" x2="1232.5" y2="590.4" stroke-dasharray="4.3 10.27"/><line x1="257.5" y1="671.7" x2="1232.5" y2="481.1" stroke-dasharray="4.3 10.27"/><line x1="1232.5" y1="481.1" x2="1976" y2="729.1" stroke-dasharray="4.3 10.77"/><line x1="257.5" y1="562.4" x2="1232.5" y2="371.8" stroke-dasharray="4.3 10.27"/><line x1="1232.5" y1="371.8" x2="1976" y2="619.8" stroke-dasharray="4.3 10.77"/><line x1="257.5" y1="453.1" x2="1232.5" y2="262.5" stroke-dasharray="4.3 10.27"/><line x1="1232.5" y1="262.5" x2="1976" y2="510.5" stroke-dasharray="4.3 10.77"/><line x1="257.5" y1="343.8" x2="1232.5" y2="153.2" stroke-dasharray="4.3 10.27"/><line x1="1232.5" y1="153.2" x2="1976" y2="401.2" stroke-dasharray="4.3 10.77"/><line x1="257.5" y1="234.5" x2="1232.5" y2="43.9" stroke-dasharray="4.3 10.27"/><line x1="1232.5" y1="43.9" x2="1976" y2="291.9" stroke-dasharray="4.3 10.77"/><line x1="452.5" y1="196.4" x2="452.5" y2="742.9" stroke-dasharray="4.3 10.00"/><line x1="647.5" y1="158.3" x2="647.5" y2="704.8" stroke-dasharray="4.3 10.00"/><line x1="842.5" y1="120.1" x2="842.5" y2="666.6" stroke-dasharray="4.3 10.00"/><line x1="1037.5" y1="82" x2="1037.5" y2="628.5" stroke-dasharray="4.3 10.00"/><line x1="1232.5" y1="43.9" x2="1232.5" y2="590.4" stroke-dasharray="4.3 10.00"/><line x1="1481.9" y1="127.1" x2="1481.9" y2="673.6" stroke-dasharray="4.3 10.00"/><line x1="1729.5" y1="209.7" x2="1729.5" y2="756.2" stroke-dasharray="4.3 10.00"/><line x1="1976" y1="291.9" x2="1976" y2="838.4" stroke-dasharray="4.3 10.00"/><line x1="452.5" y1="742.9" x2="1196" y2="990.9" stroke-dasharray="4.3 10.77"/><line x1="647.5" y1="704.8" x2="1391" y2="952.8" stroke-dasharray="4.3 10.77"/><line x1="842.5" y1="666.6" x2="1586" y2="914.6" stroke-dasharray="4.3 10.77"/><line x1="1037.5" y1="628.5" x2="1781" y2="876.5" stroke-dasharray="4.3 10.77"/><line x1="506.9" y1="864.2" x2="1481.9" y2="673.6" stroke-dasharray="4.3 10.27"/><line x1="754.5" y1="946.8" x2="1729.5" y2="756.2" stroke-dasharray="4.3 10.27"/></g>
<g filter="url(#b1)" fill="none"><line x1="1232.5" y1="590.4" x2="1976" y2="838.4" stroke="#9a9a9a" stroke-width="2"/><line x1="1232.5" y1="590.4" x2="1976" y2="838.4" stroke="#777" stroke-width="3" stroke-dasharray="3.5 3.6"/></g>
<g filter="url(#se)">
<g clip-path="url(#c2)"><g filter="url(#sb)"><rect x="1261.5" y="511.1" width="7" height="8.4" fill="#1affe5"/><rect x="1267.5" y="509.2" width="7" height="10.3" fill="url(#q1)"/><rect x="1273.5" y="507.5" width="7" height="12" fill="url(#q2)"/><rect x="1279.5" y="506.1" width="7" height="13.4" fill="url(#q3)"/><rect x="1285.5" y="504.8" width="7" height="14.4" fill="url(#q4)"/><rect x="1291.5" y="503.7" width="7" height="14.7" fill="url(#q5)"/><rect x="1297.5" y="502.7" width="7" height="14.8" fill="url(#q6)"/><rect x="1303.5" y="501.7" width="7" height="14.9" fill="url(#q7)"/><rect x="1309.5" y="500.8" width="7" height="15.2" fill="url(#q8)"/><rect x="1315.5" y="499.9" width="7" height="15.3" fill="url(#q9)"/><rect x="1321.5" y="499.2" width="7" height="15.4" fill="url(#q10)"/><rect x="1327.5" y="498.6" width="7" height="15.6" fill="url(#q11)"/><rect x="1333.5" y="497.9" width="7" height="15.8" fill="url(#q12)"/><rect x="1339.5" y="497.4" width="7" height="16" fill="url(#q13)"/><rect x="1345.5" y="497" width="7" height="16" fill="url(#q14)"/><rect x="1351.5" y="497" width="7" height="16.5" fill="url(#q15)"/><rect x="1357.5" y="497" width="7" height="20.2" fill="url(#q16)"/><rect x="1363.5" y="497" width="7" height="24.5" fill="url(#q17)"/><rect x="1369.5" y="497" width="7" height="29.6" fill="url(#q18)"/><rect x="1375.5" y="497" width="7" height="34.6" fill="url(#q19)"/><rect x="1381.5" y="497" width="7" height="39.2" fill="url(#q20)"/><rect x="1387.5" y="497.2" width="7" height="43.7" fill="url(#q21)"/><rect x="1393.5" y="497.4" width="7" height="47.9" fill="url(#q22)"/><rect x="1399.5" y="497.7" width="7" height="52" fill="url(#q23)"/><rect x="1405.5" y="498" width="7" height="56.1" fill="url(#q24)"/><rect x="1411.5" y="498.4" width="7" height="60.2" fill="url(#q25)"/><rect x="1417.5" y="498.8" width="7" height="64.1" fill="url(#q26)"/><rect x="1423.5" y="499.2" width="7" height="67.8" fill="url(#q27)"/><rect x="1429.5" y="499.5" width="7" height="71.5" fill="url(#q28)"/><rect x="1435.5" y="499.8" width="7" height="75.1" fill="url(#q29)"/><rect x="1441.5" y="500.1" width="7" height="78.6" fill="url(#q30)"/><rect x="1447.5" y="500.4" width="7" height="82" fill="url(#q31)"/><rect x="1453.5" y="500.5" width="7" height="85.6" fill="url(#q32)"/><rect x="1459.5" y="500.5" width="7" height="89.3" fill="url(#q33)"/><rect x="1465.5" y="500.5" width="7" height="92.9" fill="url(#q34)"/><rect x="1471.5" y="500.5" width="7" height="96" fill="url(#q35)"/><rect x="1477.5" y="500.5" width="7" height="98.8" fill="url(#q36)"/><rect x="1483.5" y="500.3" width="7" height="101.3" fill="url(#q37)"/><rect x="1489.5" y="500" width="7" height="103.8" fill="url(#q38)"/><rect x="1495.5" y="499.7" width="7" height="106.2" fill="url(#q39)"/><rect x="1501.5" y="499.3" width="7" height="108.8" fill="url(#q40)"/><rect x="1507.5" y="498.8" width="7" height="111.7" fill="url(#q41)"/><rect x="1513.5" y="498.2" width="7" height="114.6" fill="url(#q42)"/><rect x="1519.5" y="497.5" width="7" height="117.4" fill="url(#q43)"/><rect x="1525.5" y="496.7" width="7" height="119.8" fill="url(#q44)"/><rect x="1531.5" y="495.8" width="7" height="122.1" fill="url(#q45)"/><rect x="1537.5" y="494.8" width="7" height="124.4" fill="url(#q46)"/><rect x="1543.5" y="493.8" width="7" height="126.5" fill="url(#q47)"/><rect x="1549.5" y="492.9" width="7" height="128.3" fill="url(#q48)"/><rect x="1555.5" y="492" width="7" height="129.9" fill="url(#q49)"/><rect x="1561.5" y="491.2" width="7" height="131.5" fill="url(#q50)"/><rect x="1567.5" y="490.4" width="7" height="132.9" fill="url(#q51)"/><rect x="1573.5" y="489.5" width="7" height="134" fill="url(#q52)"/><rect x="1579.5" y="488.5" width="7" height="135" fill="url(#q53)"/><rect x="1585.5" y="487.3" width="7" height="136.2" fill="url(#q54)"/><rect x="1591.5" y="486" width="7" height="137.3" fill="url(#q55)"/><rect x="1597.5" y="484.7" width="7" height="138.5" fill="url(#q56)"/><rect x="1603.5" y="483.3" width="7" height="139.7" fill="url(#q57)"/><rect x="1609.5" y="481.8" width="7" height="140.9" fill="url(#q58)"/><rect x="1615.5" y="480.1" width="7" height="141.6" fill="url(#q59)"/><rect x="1621.5" y="478.5" width="7" height="142.1" fill="url(#q60)"/><rect x="1627.5" y="477" width="7" height="142.4" fill="url(#q61)"/><rect x="1633.5" y="475.4" width="7" height="142.7" fill="url(#q62)"/><rect x="1639.5" y="473.9" width="7" height="142.9" fill="url(#q63)"/><rect x="1645.5" y="472.3" width="7" height="142.9" fill="url(#q64)"/><rect x="1651.5" y="470.6" width="7" height="142.8" fill="url(#q65)"/><rect x="1657.5" y="468.9" width="7" height="142.6" fill="url(#q66)"/><rect x="1663.5" y="467.1" width="7" height="142.1" fill="url(#q67)"/><rect x="1669.5" y="465.2" width="7" height="141.3" fill="url(#q68)"/><rect x="1675.5" y="463.4" width="7" height="140.4" fill="url(#q69)"/><rect x="1681.5" y="461.6" width="7" height="139.6" fill="url(#q70)"/><rect x="1687.5" y="459.8" width="7" height="138.8" fill="url(#q71)"/><rect x="1693.5" y="458" width="7" height="137.9" fill="url(#q72)"/><rect x="1699.5" y="456.2" width="7" height="137" fill="url(#q73)"/><rect x="1705.5" y="454.5" width="7" height="136.1" fill="url(#q74)"/><rect x="1711.5" y="452.7" width="7" height="135.2" fill="url(#q75)"/><rect x="1717.5" y="451.1" width="7" height="134.3" fill="url(#q76)"/><rect x="1723.5" y="449.5" width="7" height="133.2" fill="url(#q77)"/><rect x="1729.5" y="448" width="7" height="132" fill="url(#q78)"/><rect x="1735.5" y="446.5" width="7" height="130.7" fill="url(#q79)"/><rect x="1741.5" y="445.2" width="7" height="129.1" fill="url(#q80)"/><rect x="1747.5" y="444.1" width="7" height="127.2" fill="url(#q81)"/><rect x="1753.5" y="443.3" width="7" height="125.2" fill="url(#q82)"/><rect x="1759.5" y="442.5" width="7" height="123.1" fill="url(#q83)"/><rect x="1765.5" y="441.9" width="7" height="120.9" fill="url(#q84)"/><rect x="1771.5" y="441.5" width="7" height="118.4" fill="url(#q85)"/><rect x="1777.5" y="441.5" width="7" height="115.5" fill="url(#q86)"/><rect x="1783.5" y="441.6" width="7" height="112.3" fill="url(#q87)"/><rect x="1789.5" y="441.8" width="7" height="108.7" fill="url(#q88)"/><rect x="1795.5" y="442.2" width="7" height="104.9" fill="url(#q89)"/><rect x="1801.5" y="442.7" width="7" height="101.3" fill="url(#q90)"/><rect x="1807.5" y="443.6" width="7" height="97.4" fill="url(#q91)"/><rect x="1813.5" y="444.9" width="7" height="93.1" fill="url(#q92)"/><rect x="1819.5" y="446.5" width="7" height="88.7" fill="url(#q93)"/><rect x="1825.5" y="448.3" width="7" height="84.3" fill="url(#q94)"/><rect x="1831.5" y="450.5" width="7" height="79.5" fill="url(#q95)"/><rect x="1837.5" y="453.2" width="7" height="74.3" fill="url(#q96)"/><rect x="1843.5" y="456.3" width="7" height="68.9" fill="url(#q97)"/><rect x="1849.5" y="459.6" width="7" height="63.4" fill="url(#q98)"/><rect x="1855.5" y="463" width="7" height="57.9" fill="url(#q99)"/><rect x="1861.5" y="466.6" width="7" height="52.2" fill="url(#q100)"/><rect x="1867.5" y="470.7" width="7" height="46.4" fill="url(#q101)"/><rect x="1873.5" y="474.9" width="7" height="40.8" fill="url(#q102)"/><rect x="1879.5" y="479.2" width="7" height="35.4" fill="url(#q103)"/><rect x="1885.5" y="483.3" width="7" height="30.3" fill="url(#q104)"/><rect x="1891.5" y="487.3" width="7" height="25.6" fill="url(#q105)"/><rect x="1897.5" y="491.3" width="7" height="21.3" fill="url(#q106)"/><rect x="1903.5" y="495.1" width="7" height="18" fill="url(#q107)"/><rect x="1909.5" y="498.8" width="7" height="15.1" fill="url(#q108)"/><rect x="1915.5" y="502.3" width="7" height="12.6" fill="url(#q109)"/><rect x="1921.5" y="505.5" width="7" height="11.3" fill="url(#q110)"/><rect x="1927.5" y="506.9" width="7" height="12.5" fill="url(#q111)"/><rect x="1933.5" y="513" width="7" height="7" fill="#e5ff1a"/></g></g>
<g clip-path="url(#c1)"><g filter="url(#sb)"><rect x="372.5" y="280.1" width="7" height="21.9" fill="url(#p112)"/><rect x="378.5" y="278" width="7" height="35" fill="url(#p113)"/><rect x="384.5" y="276.8" width="7" height="47" fill="url(#p114)"/><rect x="390.5" y="276" width="7" height="58.6" fill="url(#p115)"/><rect x="396.5" y="275.4" width="7" height="70" fill="url(#p116)"/><rect x="402.5" y="275" width="7" height="81.2" fill="url(#p117)"/><rect x="408.5" y="275" width="7" height="92" fill="url(#p118)"/><rect x="414.5" y="275.4" width="7" height="102.5" fill="url(#p119)"/><rect x="420.5" y="276.3" width="7" height="112.1" fill="url(#p120)"/><rect x="426.5" y="277.5" width="7" height="121.2" fill="url(#p121)"/><rect x="432.5" y="278.9" width="7" height="129.5" fill="url(#p122)"/><rect x="438.5" y="280.8" width="7" height="136.8" fill="url(#p123)"/><rect x="444.5" y="283.2" width="7" height="143.6" fill="url(#p124)"/><rect x="450.5" y="285.6" width="7" height="150.3" fill="url(#p125)"/><rect x="456.5" y="288.1" width="7" height="157.2" fill="url(#p126)"/><rect x="462.5" y="291.1" width="7" height="163.8" fill="url(#p127)"/><rect x="468.5" y="295" width="7" height="169.5" fill="url(#p128)"/><rect x="474.5" y="299.2" width="7" height="174.6" fill="url(#p129)"/><rect x="480.5" y="303.9" width="7" height="179.2" fill="url(#p130)"/><rect x="486.5" y="308.5" width="7" height="183.9" fill="url(#p131)"/><rect x="492.5" y="312.7" width="7" height="188.4" fill="url(#p132)"/><rect x="498.5" y="316.9" width="7" height="192.4" fill="url(#p133)"/><rect x="504.5" y="321" width="7" height="196.3" fill="url(#p134)"/><rect x="510.5" y="325.2" width="7" height="200.3" fill="url(#p135)"/><rect x="516.5" y="329.5" width="7" height="204.2" fill="url(#p136)"/><rect x="522.5" y="333.7" width="7" height="208.2" fill="url(#p137)"/><rect x="528.5" y="337.9" width="7" height="212.1" fill="url(#p138)"/><rect x="534.5" y="342" width="7" height="215.8" fill="url(#p139)"/><rect x="540.5" y="345.9" width="7" height="219.5" fill="url(#p140)"/><rect x="546.5" y="349.6" width="7" height="223.4" fill="url(#p141)"/><rect x="552.5" y="353.2" width="7" height="227.2" fill="url(#p142)"/><rect x="558.5" y="356.9" width="7" height="231" fill="url(#p143)"/><rect x="564.5" y="360.5" width="7" height="234.6" fill="url(#p144)"/><rect x="570.5" y="364.2" width="7" height="238" fill="url(#p145)"/><rect x="576.5" y="367.8" width="7" height="241" fill="url(#p146)"/><rect x="582.5" y="371.3" width="7" height="243.6" fill="url(#p147)"/><rect x="588.5" y="374.8" width="7" height="246.1" fill="url(#p148)"/><rect x="594.5" y="378.3" width="7" height="248.4" fill="url(#p149)"/><rect x="600.5" y="381.8" width="7" height="250.6" fill="url(#p150)"/><rect x="606.5" y="385.3" width="7" height="252.9" fill="url(#p151)"/><rect x="612.5" y="388.7" width="7" height="255.1" fill="url(#p152)"/><rect x="618.5" y="392.2" width="7" height="256.9" fill="url(#p153)"/><rect x="624.5" y="395.7" width="7" height="258" fill="url(#p154)"/><rect x="630.5" y="399.2" width="7" height="258.6" fill="url(#p155)"/><rect x="636.5" y="402.6" width="7" height="258.8" fill="url(#p156)"/><rect x="642.5" y="406" width="7" height="258.9" fill="url(#p157)"/><rect x="648.5" y="409.3" width="7" height="258.7" fill="url(#p158)"/><rect x="654.5" y="412.7" width="7" height="258.3" fill="url(#p159)"/><rect x="660.5" y="416.1" width="7" height="257.6" fill="url(#p160)"/><rect x="666.5" y="419.6" width="7" height="256.7" fill="url(#p161)"/><rect x="672.5" y="423.1" width="7" height="255.5" fill="url(#p162)"/><rect x="678.5" y="426.6" width="7" height="254.3" fill="url(#p163)"/><rect x="684.5" y="430" width="7" height="253.1" fill="url(#p164)"/><rect x="690.5" y="433.2" width="7" height="251.8" fill="url(#p165)"/><rect x="696.5" y="436.3" width="7" height="250.3" fill="url(#p166)"/><rect x="702.5" y="439.4" width="7" height="248.3" fill="url(#p167)"/><rect x="708.5" y="442.5" width="7" height="246.2" fill="url(#p168)"/><rect x="714.5" y="445.6" width="7" height="243.9" fill="url(#p169)"/><rect x="720.5" y="448.7" width="7" height="241.2" fill="url(#p170)"/><rect x="726.5" y="451.8" width="7" height="238.2" fill="url(#p171)"/><rect x="732.5" y="454.9" width="7" height="235.1" fill="url(#p172)"/><rect x="738.5" y="458.2" width="7" height="231.8" fill="url(#p173)"/><rect x="744.5" y="461.5" width="7" height="228.5" fill="url(#p174)"/><rect x="750.5" y="464.8" width="7" height="225.2" fill="url(#p175)"/><rect x="756.5" y="468" width="7" height="222" fill="url(#p176)"/><rect x="762.5" y="471" width="7" height="218.6" fill="url(#p177)"/><rect x="768.5" y="473.8" width="7" height="215" fill="url(#p178)"/><rect x="774.5" y="476.6" width="7" height="211.2" fill="url(#p179)"/><rect x="780.5" y="479.3" width="7" height="207.6" fill="url(#p180)"/><rect x="786.5" y="481.9" width="7" height="203.7" fill="url(#p181)"/><rect x="792.5" y="484.4" width="7" height="199.6" fill="url(#p182)"/><rect x="798.5" y="486.9" width="7" height="195.4" fill="url(#p183)"/><rect x="804.5" y="489.2" width="7" height="191.3" fill="url(#p184)"/><rect x="810.5" y="491.3" width="7" height="187.3" fill="url(#p185)"/><rect x="816.5" y="493.2" width="7" height="183.5" fill="url(#p186)"/><rect x="822.5" y="494.8" width="7" height="179.7" fill="url(#p187)"/><rect x="828.5" y="496.4" width="7" height="176" fill="url(#p188)"/><rect x="834.5" y="498" width="7" height="172.1" fill="url(#p189)"/><rect x="840.5" y="499.7" width="7" height="168.2" fill="url(#p190)"/><rect x="846.5" y="501.3" width="7" height="164.1" fill="url(#p191)"/><rect x="852.5" y="502.9" width="7" height="160" fill="url(#p192)"/><rect x="858.5" y="504.3" width="7" height="155.9" fill="url(#p193)"/><rect x="864.5" y="505.6" width="7" height="151.8" fill="url(#p194)"/><rect x="870.5" y="507" width="7" height="147.5" fill="url(#p195)"/><rect x="876.5" y="507.9" width="7" height="143.6" fill="url(#p196)"/><rect x="882.5" y="508" width="7" height="140.5" fill="url(#p197)"/><rect x="888.5" y="508" width="7" height="137.4" fill="url(#p198)"/><rect x="894.5" y="507" width="7" height="135.2" fill="url(#p199)"/><rect x="900.5" y="505.5" width="7" height="133.6" fill="url(#p200)"/><rect x="906.5" y="503.8" width="7" height="132.1" fill="url(#p201)"/><rect x="912.5" y="501.9" width="7" height="131" fill="url(#p202)"/><rect x="918.5" y="499.8" width="7" height="130" fill="url(#p203)"/><rect x="924.5" y="497.6" width="7" height="129.2" fill="url(#p204)"/><rect x="930.5" y="495.2" width="7" height="128.9" fill="url(#p205)"/><rect x="936.5" y="492.5" width="7" height="128.9" fill="url(#p206)"/><rect x="942.5" y="489.7" width="7" height="129.1" fill="url(#p207)"/><rect x="948.5" y="487" width="7" height="129.6" fill="url(#p208)"/><rect x="954.5" y="484.3" width="7" height="130.2" fill="url(#p209)"/><rect x="960.5" y="481.5" width="7" height="131.1" fill="url(#p210)"/><rect x="966.5" y="478.7" width="7" height="132.2" fill="url(#p211)"/><rect x="972.5" y="476" width="7" height="133.4" fill="url(#p212)"/><rect x="978.5" y="473.2" width="7" height="135" fill="url(#p213)"/><rect x="984.5" y="470.4" width="7" height="136.7" fill="url(#p214)"/><rect x="990.5" y="467.7" width="7" height="138.5" fill="url(#p215)"/><rect x="996.5" y="464.9" width="7" height="140.5" fill="url(#p216)"/><rect x="1002.5" y="462.1" width="7" height="142.9" fill="url(#p217)"/><rect x="1008.5" y="459.3" width="7" height="146" fill="url(#p218)"/><rect x="1014.5" y="456.6" width="7" height="149.4" fill="url(#p219)"/><rect x="1020.5" y="453.8" width="7" height="152.8" fill="url(#p220)"/><rect x="1026.5" y="451.2" width="7" height="156.3" fill="url(#p221)"/><rect x="1032.5" y="448.6" width="7" height="160.5" fill="url(#p222)"/><rect x="1038.5" y="446.1" width="7" height="165.1" fill="url(#p223)"/><rect x="1044.5" y="443.6" width="7" height="170.1" fill="url(#p224)"/><rect x="1050.5" y="441.2" width="7" height="175.2" fill="url(#p225)"/><rect x="1056.5" y="438.7" width="7" height="180.6" fill="url(#p226)"/><rect x="1062.5" y="436.3" width="7" height="186.5" fill="url(#p227)"/><rect x="1068.5" y="433.9" width="7" height="192.8" fill="url(#p228)"/><rect x="1074.5" y="431.6" width="7" height="199.7" fill="url(#p229)"/><rect x="1080.5" y="429.4" width="7" height="207.9" fill="url(#p230)"/><rect x="1086.5" y="427.2" width="7" height="217.5" fill="url(#p231)"/><rect x="1092.5" y="425.1" width="7" height="229.2" fill="url(#p232)"/><rect x="1098.5" y="423" width="7" height="241.8" fill="url(#p233)"/><rect x="1104.5" y="421" width="7" height="254.9" fill="url(#p234)"/><rect x="1110.5" y="419" width="7" height="263.8" fill="url(#p235)"/><rect x="1116.5" y="417.1" width="7" height="267.9" fill="url(#p236)"/><rect x="1122.5" y="415.3" width="7" height="267.3" fill="url(#p237)"/><rect x="1128.5" y="413.6" width="7" height="261" fill="url(#p238)"/><rect x="1134.5" y="411.9" width="7" height="250.5" fill="url(#p239)"/><rect x="1140.5" y="410.3" width="7" height="239" fill="url(#p240)"/><rect x="1146.5" y="408.9" width="7" height="227.7" fill="url(#p241)"/><rect x="1152.5" y="407.7" width="7" height="216.5" fill="url(#p242)"/><rect x="1158.5" y="406.6" width="7" height="207" fill="url(#p243)"/><rect x="1164.5" y="405.7" width="7" height="198.6" fill="url(#p244)"/><rect x="1170.5" y="404.8" width="7" height="190.5" fill="url(#p245)"/><rect x="1176.5" y="404.2" width="7" height="182.8" fill="url(#p246)"/><rect x="1182.5" y="403.6" width="7" height="175.6" fill="url(#p247)"/><rect x="1188.5" y="403.1" width="7" height="168.9" fill="url(#p248)"/><rect x="1194.5" y="402.7" width="7" height="162.7" fill="url(#p249)"/><rect x="1200.5" y="402.4" width="7" height="156.9" fill="url(#p250)"/><rect x="1206.5" y="402.3" width="7" height="151.3" fill="url(#p251)"/><rect x="1212.5" y="402.1" width="7" height="145.7" fill="url(#p252)"/><rect x="1218.5" y="402" width="7" height="140.8" fill="url(#p253)"/><rect x="1224.5" y="402" width="7" height="136.7" fill="url(#p254)"/><rect x="1230.5" y="402" width="7" height="132.9" fill="url(#p255)"/><rect x="1236.5" y="402" width="7" height="129.1" fill="url(#p256)"/><rect x="1242.5" y="402.2" width="7" height="125.6" fill="url(#p257)"/><rect x="1248.5" y="402.3" width="7" height="122.4" fill="url(#p258)"/><rect x="1254.5" y="402.5" width="7" height="119.5" fill="url(#p259)"/><rect x="1260.5" y="402.9" width="7" height="116.8" fill="url(#p260)"/><rect x="1266.5" y="403.5" width="7" height="113.9" fill="url(#p261)"/><rect x="1272.5" y="404.2" width="7" height="111.2" fill="url(#p262)"/><rect x="1278.5" y="404.9" width="7" height="108.8" fill="url(#p263)"/><rect x="1284.5" y="405.4" width="7" height="106.9" fill="url(#p264)"/><rect x="1290.5" y="405.9" width="7" height="105.1" fill="url(#p265)"/><rect x="1296.5" y="406.3" width="7" height="103.5" fill="url(#p266)"/><rect x="1302.5" y="406.8" width="7" height="102" fill="url(#p267)"/><rect x="1308.5" y="407.4" width="7" height="100.5" fill="url(#p268)"/><rect x="1314.5" y="408" width="7" height="99" fill="url(#p269)"/><rect x="1320.5" y="408.6" width="7" height="97.5" fill="url(#p270)"/><rect x="1326.5" y="409.2" width="7" height="96.1" fill="url(#p271)"/><rect x="1332.5" y="409.8" width="7" height="94.9" fill="url(#p272)"/><rect x="1338.5" y="410.4" width="7" height="93.6" fill="url(#p273)"/><rect x="1344.5" y="411" width="7" height="92.5" fill="url(#p274)"/><rect x="1350.5" y="411.6" width="7" height="91.5" fill="url(#p275)"/><rect x="1356.5" y="412.2" width="7" height="90.8" fill="url(#p276)"/><rect x="1362.5" y="412.8" width="7" height="90.2" fill="url(#p277)"/><rect x="1368.5" y="413.5" width="7" height="89.5" fill="url(#p278)"/><rect x="1374.5" y="414" width="7" height="89" fill="url(#p279)"/><rect x="1380.5" y="414.6" width="7" height="88.5" fill="url(#p280)"/><rect x="1386.5" y="415.1" width="7" height="88.3" fill="url(#p281)"/><rect x="1392.5" y="415.6" width="7" height="88.1" fill="url(#p282)"/><rect x="1398.5" y="416" width="7" height="88" fill="url(#p283)"/><rect x="1404.5" y="416.2" width="7" height="88.1" fill="url(#p284)"/><rect x="1410.5" y="416.5" width="7" height="88.2" fill="url(#p285)"/><rect x="1416.5" y="416.8" width="7" height="88.4" fill="url(#p286)"/><rect x="1422.5" y="416.9" width="7" height="88.5" fill="url(#p287)"/><rect x="1428.5" y="417" width="7" height="88.8" fill="url(#p288)"/><rect x="1434.5" y="416.9" width="7" height="89.2" fill="url(#p289)"/><rect x="1440.5" y="416.7" width="7" height="89.6" fill="url(#p290)"/><rect x="1446.5" y="416.5" width="7" height="90" fill="url(#p291)"/><rect x="1452.5" y="416.3" width="7" height="90.2" fill="url(#p292)"/><rect x="1458.5" y="416" width="7" height="90.5" fill="url(#p293)"/><rect x="1464.5" y="415.5" width="7" height="91" fill="url(#p294)"/><rect x="1470.5" y="414.8" width="7" height="91.7" fill="url(#p295)"/><rect x="1476.5" y="414" width="7" height="92.5" fill="url(#p296)"/><rect x="1482.5" y="413.1" width="7" height="93.4" fill="url(#p297)"/><rect x="1488.5" y="412.4" width="7" height="94" fill="url(#p298)"/><rect x="1494.5" y="411.5" width="7" height="94.5" fill="url(#p299)"/><rect x="1500.5" y="410.7" width="7" height="95" fill="url(#p300)"/><rect x="1506.5" y="410" width="7" height="95.4" fill="url(#p301)"/><rect x="1512.5" y="409.3" width="7" height="95.6" fill="url(#p302)"/><rect x="1518.5" y="408.7" width="7" height="95.6" fill="url(#p303)"/><rect x="1524.5" y="408.1" width="7" height="95.5" fill="url(#p304)"/><rect x="1530.5" y="407.5" width="7" height="95.3" fill="url(#p305)"/><rect x="1536.5" y="407" width="7" height="95" fill="url(#p306)"/><rect x="1542.5" y="406.5" width="7" height="94.5" fill="url(#p307)"/><rect x="1548.5" y="406" width="7" height="94" fill="url(#p308)"/><rect x="1554.5" y="405.5" width="7" height="93.5" fill="url(#p309)"/><rect x="1560.5" y="404.9" width="7" height="93.3" fill="url(#p310)"/><rect x="1566.5" y="404.3" width="7" height="93.1" fill="url(#p311)"/><rect x="1572.5" y="403.7" width="7" height="92.8" fill="url(#p312)"/><rect x="1578.5" y="403.2" width="7" height="92.4" fill="url(#p313)"/><rect x="1584.5" y="402.8" width="7" height="91.8" fill="url(#p314)"/><rect x="1590.5" y="402.6" width="7" height="90.9" fill="url(#p315)"/><rect x="1596.5" y="402.5" width="7" height="89.8" fill="url(#p316)"/><rect x="1602.5" y="402.4" width="7" height="88.6" fill="url(#p317)"/><rect x="1608.5" y="402.3" width="7" height="87.3" fill="url(#p318)"/><rect x="1614.5" y="402.2" width="7" height="85.8" fill="url(#p319)"/><rect x="1620.5" y="402.1" width="7" height="84.3" fill="url(#p320)"/><rect x="1626.5" y="402.1" width="7" height="82.7" fill="url(#p321)"/><rect x="1632.5" y="402" width="7" height="81.2" fill="url(#p322)"/><rect x="1638.5" y="402" width="7" height="79.7" fill="url(#p323)"/><rect x="1644.5" y="402" width="7" height="78.2" fill="url(#p324)"/><rect x="1650.5" y="402" width="7" height="76.6" fill="url(#p325)"/><rect x="1656.5" y="402" width="7" height="74.9" fill="url(#p326)"/><rect x="1662.5" y="402" width="7" height="73.1" fill="url(#p327)"/><rect x="1668.5" y="402.1" width="7" height="71.2" fill="url(#p328)"/><rect x="1674.5" y="402.3" width="7" height="69.2" fill="url(#p329)"/><rect x="1680.5" y="402.5" width="7" height="67.2" fill="url(#p330)"/><rect x="1686.5" y="402.7" width="7" height="65.2" fill="url(#p331)"/><rect x="1692.5" y="402.9" width="7" height="63.1" fill="url(#p332)"/><rect x="1698.5" y="403.2" width="7" height="61.1" fill="url(#p333)"/><rect x="1704.5" y="403.5" width="7" height="59" fill="url(#p334)"/><rect x="1710.5" y="404" width="7" height="56.8" fill="url(#p335)"/><rect x="1716.5" y="404.8" width="7" height="54.2" fill="url(#p336)"/><rect x="1722.5" y="405.7" width="7" height="51.6" fill="url(#p337)"/><rect x="1728.5" y="406.7" width="7" height="49.1" fill="url(#p338)"/><rect x="1734.5" y="407.7" width="7" height="46.6" fill="url(#p339)"/><rect x="1740.5" y="408.7" width="7" height="44" fill="url(#p340)"/><rect x="1746.5" y="409.9" width="7" height="41.5" fill="url(#p341)"/><rect x="1752.5" y="411.1" width="7" height="39.2" fill="url(#p342)"/><rect x="1758.5" y="412.4" width="7" height="37.1" fill="url(#p343)"/><rect x="1764.5" y="413.7" width="7" height="35" fill="url(#p344)"/><rect x="1770.5" y="415" width="7" height="32.9" fill="url(#p345)"/><rect x="1776.5" y="416.5" width="7" height="31.1" fill="url(#p346)"/><rect x="1782.5" y="418" width="7" height="29.8" fill="url(#p347)"/><rect x="1788.5" y="419.6" width="7" height="28.5" fill="url(#p348)"/><rect x="1794.5" y="421.3" width="7" height="27.3" fill="url(#p349)"/><rect x="1800.5" y="423.1" width="7" height="26.4" fill="url(#p350)"/><rect x="1806.5" y="424.9" width="7" height="25.7" fill="url(#p351)"/><rect x="1812.5" y="427" width="7" height="25.3" fill="url(#p352)"/><rect x="1818.5" y="429.1" width="7" height="24.9" fill="url(#p353)"/><rect x="1824.5" y="431.5" width="7" height="24.6" fill="url(#p354)"/><rect x="1830.5" y="434.1" width="7" height="24.6" fill="url(#p355)"/><rect x="1836.5" y="437.1" width="7" height="24.7" fill="url(#p356)"/><rect x="1842.5" y="440.3" width="7" height="24.7" fill="url(#p357)"/><rect x="1848.5" y="443.8" width="7" height="24.7" fill="url(#p358)"/><rect x="1854.5" y="447.4" width="7" height="24.6" fill="url(#p359)"/><rect x="1860.5" y="451.2" width="7" height="24.7" fill="url(#p360)"/><rect x="1866.5" y="455.5" width="7" height="24.7" fill="url(#p361)"/><rect x="1872.5" y="460" width="7" height="24.5" fill="url(#p362)"/><rect x="1878.5" y="464.7" width="7" height="24" fill="url(#p363)"/><rect x="1884.5" y="469.4" width="7" height="23.2" fill="url(#p364)"/><rect x="1890.5" y="474.2" width="7" height="22.4" fill="url(#p365)"/><rect x="1896.5" y="479.1" width="7" height="21.4" fill="url(#p366)"/><rect x="1902.5" y="484.2" width="7" height="20.1" fill="url(#p367)"/><rect x="1908.5" y="489.4" width="7" height="18.3" fill="url(#p368)"/><rect x="1914.5" y="494.7" width="7" height="16.3" fill="url(#p369)"/><rect x="1920.5" y="500.2" width="7" height="12.8" fill="url(#p370)"/></g></g>
</g>
<g filter="url(#b4)"><line x1="257.5" y1="233.5" x2="257.5" y2="781" stroke="#484848" stroke-width="4.2"/><polyline points="257.5,781 1001,1029 1976,838.4" stroke="#333" stroke-width="4.3" fill="none" stroke-linejoin="miter"/><polyline points="257.5,781 1001,1029 1976,838.4" stroke="#111" stroke-width="5" fill="none" stroke-dasharray="5 9.6"/><line x1="257.5" y1="781" x2="234" y2="775.5" stroke="#333" stroke-width="3.3" stroke-linecap="round"/><line x1="257.5" y1="671.7" x2="234" y2="666.2" stroke="#333" stroke-width="3.3" stroke-linecap="round"/><line x1="257.5" y1="562.4" x2="234" y2="556.9" stroke="#333" stroke-width="3.3" stroke-linecap="round"/><line x1="257.5" y1="453.1" x2="234" y2="447.6" stroke="#333" stroke-width="3.3" stroke-linecap="round"/><line x1="257.5" y1="343.8" x2="234" y2="338.3" stroke="#333" stroke-width="3.3" stroke-linecap="round"/><line x1="257.5" y1="234.5" x2="234" y2="229" stroke="#333" stroke-width="3.3" stroke-linecap="round"/><line x1="257.5" y1="781" x2="235.5" y2="785" stroke="#333" stroke-width="3.3" stroke-linecap="round"/><line x1="506.9" y1="864.2" x2="484.9" y2="868.2" stroke="#333" stroke-width="3.3" stroke-linecap="round"/><line x1="754.5" y1="946.8" x2="732.5" y2="950.8" stroke="#333" stroke-width="3.3" stroke-linecap="round"/><line x1="1001" y1="1029" x2="979" y2="1033" stroke="#333" stroke-width="3.3" stroke-linecap="round"/><line x1="1001" y1="1029" x2="1025" y2="1036.5" stroke="#333" stroke-width="3.3" stroke-linecap="round"/><line x1="1196" y1="990.9" x2="1220" y2="998.4" stroke="#333" stroke-width="3.3" stroke-linecap="round"/><line x1="1391" y1="952.8" x2="1415" y2="960.3" stroke="#333" stroke-width="3.3" stroke-linecap="round"/><line x1="1586" y1="914.6" x2="1610" y2="922.1" stroke="#333" stroke-width="3.3" stroke-linecap="round"/><line x1="1781" y1="876.5" x2="1805" y2="884" stroke="#333" stroke-width="3.3" stroke-linecap="round"/><line x1="1976" y1="838.4" x2="2000" y2="845.9" stroke="#333" stroke-width="3.3" stroke-linecap="round"/></g>
<g filter="url(#b2)" class="san" font-size="51" fill="#474747" stroke="#474747" stroke-width="0.9"><text transform="translate(219.5 243) scale(0.925 1)" text-anchor="end">35</text><text transform="translate(219.5 353) scale(0.925 1)" text-anchor="end">30</text><text transform="translate(219.5 462.5) scale(0.925 1)" text-anchor="end">25</text><text transform="translate(219.5 572) scale(0.925 1)" text-anchor="end">20</text><text transform="translate(219.5 681) scale(0.925 1)" text-anchor="end">15</text><text transform="translate(219.5 791) scale(0.925 1)" text-anchor="end">10</text><text transform="translate(219.5 840.5) scale(0.925 1)" text-anchor="end">10</text><text transform="translate(455.5 921) scale(0.925 1)" text-anchor="middle">8</text><text transform="translate(703 1005) scale(0.925 1)" text-anchor="middle">6</text><text transform="translate(953 1090.5) scale(0.925 1)" text-anchor="middle">4</text><text transform="translate(1068.5 1094) scale(0.925 1)" text-anchor="middle">0.5</text><text transform="translate(1241.5 1055) scale(0.925 1)" text-anchor="middle">1</text><text transform="translate(1460.5 1016) scale(0.925 1)" text-anchor="middle">1.5</text><text transform="translate(1633 977.5) scale(0.925 1)" text-anchor="middle">2</text><text transform="translate(1848 939.5) scale(0.925 1)" text-anchor="middle">2.5</text><text transform="translate(2025 904) scale(0.925 1)" text-anchor="middle">3</text></g>
<g transform="translate(245.8 899.5) rotate(18.86)"><rect x="0" y="0" width="604.7" height="84" fill="#fff" stroke="#9a9a9a" stroke-width="1.8"/><text class="ser" y="59.5" font-size="54.5" fill="#1a1a1a" filter="url(#b3)"><tspan x="115.1" textLength="93.6" lengthAdjust="spacingAndGlyphs">Rod</tspan> <tspan x="224" textLength="131" lengthAdjust="spacingAndGlyphs">width</tspan> <tspan x="369.4" textLength="125.7" lengthAdjust="spacingAndGlyphs">(mm)</tspan></text></g>
<g transform="translate(1330 1084.5) rotate(-11.89)"><rect x="0" y="0" width="607" height="73" fill="#fff" stroke="#9a9a9a" stroke-width="1.8"/><text class="ser" y="52.4" font-size="56.1" fill="#1a1a1a" filter="url(#b3)"><tspan x="76.5" textLength="94.6" lengthAdjust="spacingAndGlyphs">Rod</tspan> <tspan x="186.5" textLength="208" lengthAdjust="spacingAndGlyphs">thickness</tspan> <tspan x="407" textLength="124.4" lengthAdjust="spacingAndGlyphs">(mm)</tspan></text></g>
<text class="ser" transform="translate(86.8 905) rotate(-90)" font-size="55.2" fill="#000" y="0"><tspan x="-2.9" textLength="173.6" lengthAdjust="spacingAndGlyphs">Specific</tspan> <tspan x="184.4" textLength="156.2" lengthAdjust="spacingAndGlyphs">energy</tspan> <tspan x="356.2" textLength="243.1" lengthAdjust="spacingAndGlyphs">absorption</tspan> <tspan x="611.7" textLength="140.3" lengthAdjust="spacingAndGlyphs">(mJ/g)</tspan></text>
<rect x="738" y="105.7" width="997" height="207" rx="96" ry="103.5" fill="#fff" stroke="#0b70c0" stroke-width="3.6"/>
<g class="ser" font-size="55.2" fill="#000"><text y="160.2"><tspan x="790.2" textLength="92.9" lengthAdjust="spacingAndGlyphs">Rod</tspan> <tspan x="901" textLength="146.5" lengthAdjust="spacingAndGlyphs">width:</tspan> <tspan x="1056.7" textLength="91.8" lengthAdjust="spacingAndGlyphs">5.96</tspan> <tspan x="1162" textLength="88.7" lengthAdjust="spacingAndGlyphs">mm</tspan></text><text y="221.4"><tspan x="790.2" textLength="92.9" lengthAdjust="spacingAndGlyphs">Rod</tspan> <tspan x="899.5" textLength="224.9" lengthAdjust="spacingAndGlyphs">thichness:</tspan> <tspan x="1134.2" textLength="89.2" lengthAdjust="spacingAndGlyphs">2.01</tspan> <tspan x="1238.2" textLength="89.4" lengthAdjust="spacingAndGlyphs">mm</tspan></text><text y="288.8"><tspan x="788.1" textLength="177.4" lengthAdjust="spacingAndGlyphs">Specific</tspan> <tspan x="976.9" textLength="156.7" lengthAdjust="spacingAndGlyphs">energy</tspan> <tspan x="1149.8" textLength="257.2" lengthAdjust="spacingAndGlyphs">absorption:</tspan> <tspan x="1418.2" textLength="114.3" lengthAdjust="spacingAndGlyphs">30.05</tspan> <tspan x="1548" textLength="107.6" lengthAdjust="spacingAndGlyphs">mJ/g</tspan></text></g>
<line x1="1130" y1="313" x2="1204" y2="386.5" stroke="#0b70c0" stroke-width="3.8"/>
<polygon points="1222.5,405.6 1204.4,370 1186.9,387.5" fill="#0b70c0"/>
</svg></body></html>
